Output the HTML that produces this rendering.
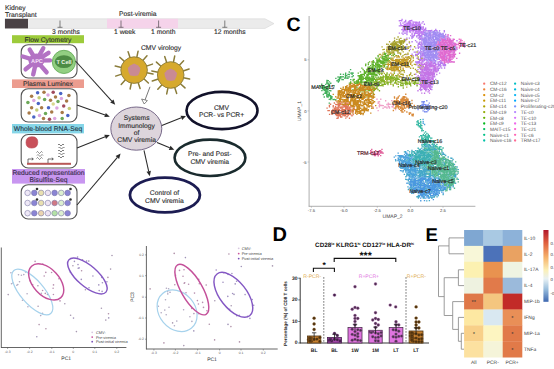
<!DOCTYPE html>
<html><head><meta charset="utf-8"><style>
html,body{margin:0;padding:0;background:#fff;width:554px;height:369px;overflow:hidden}
svg{display:block}

text{font-family:"Liberation Sans", sans-serif;text-rendering:geometricPrecision}
text:not([fill]){fill:#2c2c2c}
.t7{font-size:6.75px;stroke:#2c2c2c;stroke-width:0.12px}
.leg{font-size:4.8px} .leg:not([fill]){fill:#555}
.t4{font-size:4.2px} .t4:not([fill]){fill:#444}
.t35{font-size:3.4px} .t35:not([fill]){fill:#555}
.t45{font-size:4.3px} .t45:not([fill]){fill:#555}
.t5{font-size:5px} .t5:not([fill]){fill:#444}
.t4b{font-size:5px;font-weight:bold} .t4b:not([fill]){fill:#222}
.big{font-size:18.5px;font-weight:bold} .big:not([fill]){fill:#000}
.lab{font-size:5.4px}
.ttl{font-size:6.3px;font-weight:bold} .ttl:not([fill]){fill:#111}
.sup{font-size:3.5px}
.stars{font-size:9px;font-weight:bold} .stars:not([fill]){fill:#111}
.ylab{font-size:4.6px;font-weight:bold} .ylab:not([fill]){fill:#222}
.grp{font-size:5.1px}
</style></head><body>
<svg width="554" height="369" viewBox="0 0 554 369">
<rect width="554" height="369" fill="#fff"/>
<g id="timeline">
<text x="5" y="10" class="t7">Kidney</text>
<text x="5" y="17.3" class="t7">Transplant</text>
<path d="M5,18.8 H265 L274,23.6 L265,28.4 H5 Z" fill="#ebebeb" stroke="#d6d6d6" stroke-width="0.6"/>
<rect x="107" y="18.8" width="71" height="9.6" fill="#f5d3ea"/>
<rect x="5" y="18.8" width="23" height="9.6" fill="#4a4245"/>
<path d="M60,20.5 V27.3 M57.5,27.3 H62.5" stroke="#333" stroke-width="0.6" fill="none"/>
<path d="M121,20.5 V27.3 M118.5,27.3 H123.5" stroke="#333" stroke-width="0.6" fill="none"/>
<path d="M158.6,20.5 V27.3 M156.1,27.3 H161.1" stroke="#333" stroke-width="0.6" fill="none"/>
<path d="M224.8,20.5 V27.3 M222.3,27.3 H227.3" stroke="#333" stroke-width="0.6" fill="none"/>
<text x="52" y="34" class="t7">3 months</text>
<text x="114" y="34" class="t7">1 week</text>
<text x="151" y="34" class="t7">1 month</text>
<text x="214" y="34" class="t7">12 months</text>
<text x="119" y="16" class="t7">Post-viremia</text>
</g>
<rect x="12" y="35.2" width="72" height="8" fill="#9dcb3b"/>
<text x="48.0" y="41.6" class="t7" text-anchor="middle" fill="#333">Flow Cytometry</text>
<rect x="21.2" y="44.7" width="55.8" height="33.3" rx="7" ry="7" fill="#fff" stroke="#555" stroke-width="1.1"/>
<path d="M36.4,60.6 L22.8,56.5" stroke="#b372c4" stroke-width="4.4" stroke-linecap="round"/>
<path d="M36.4,60.6 L29.7,49.6" stroke="#b372c4" stroke-width="4.4" stroke-linecap="round"/>
<path d="M36.4,60.6 L43.3,48.2" stroke="#b372c4" stroke-width="4.4" stroke-linecap="round"/>
<path d="M36.4,60.6 L48.5,52.8" stroke="#b372c4" stroke-width="4.4" stroke-linecap="round"/>
<path d="M36.4,60.6 L50,60.4" stroke="#b372c4" stroke-width="4.4" stroke-linecap="round"/>
<path d="M36.4,60.6 L46.6,72.3" stroke="#b372c4" stroke-width="4.4" stroke-linecap="round"/>
<path d="M36.4,60.6 L33.2,74.4" stroke="#b372c4" stroke-width="4.4" stroke-linecap="round"/>
<path d="M36.4,60.6 L25.6,69.3" stroke="#b372c4" stroke-width="4.4" stroke-linecap="round"/>
<ellipse cx="36.4" cy="60.6" rx="8" ry="7" fill="#b372c4"/>
<text x="37.0" y="62.6" font-size="5.6" font-weight="bold" fill="#f6e0f8" text-anchor="middle">APC</text>
<circle cx="63.9" cy="61.9" r="11.6" fill="#92cf82" stroke="#66ad5a" stroke-width="0.9"/>
<ellipse cx="63.9" cy="61.6" rx="9.1" ry="6.4" fill="#4d8c44"/>
<text x="64" y="63.7" font-size="5.6" font-weight="bold" fill="#eef8ea" text-anchor="middle">T Cell</text>
<rect x="12" y="79.4" width="72" height="8.6" fill="#ec9c8f"/>
<text x="48.0" y="86.10000000000001" class="t7" text-anchor="middle" fill="#333">Plasma Luminex</text>
<rect x="21.2" y="88.7" width="55.8" height="33.3" rx="7" ry="7" fill="#fff" stroke="#555" stroke-width="1.1"/>
<circle cx="37.6" cy="92.7" r="1.75" fill="#4a64c4"/>
<circle cx="44.0" cy="92.2" r="1.75" fill="#a87a48"/>
<circle cx="53.2" cy="92.2" r="1.75" fill="#a04a5c"/>
<circle cx="60.7" cy="93.6" r="1.75" fill="#4a64c4"/>
<circle cx="31.6" cy="96.2" r="1.75" fill="#a87a48"/>
<circle cx="39.1" cy="97.7" r="1.75" fill="#c4cc78"/>
<circle cx="48.0" cy="95.1" r="1.75" fill="#dca6e0"/>
<circle cx="55.5" cy="96.9" r="1.75" fill="#a87a48"/>
<circle cx="61.4" cy="98.4" r="1.75" fill="#dca6e0"/>
<circle cx="68.9" cy="95.4" r="1.75" fill="#a87a48"/>
<circle cx="27.9" cy="102.6" r="1.75" fill="#6ca858"/>
<circle cx="33.8" cy="100.6" r="1.75" fill="#dca6e0"/>
<circle cx="38.3" cy="103.6" r="1.75" fill="#4a64c4"/>
<circle cx="44.6" cy="99.6" r="1.75" fill="#6ca858"/>
<circle cx="50.5" cy="100.2" r="1.75" fill="#a87a48"/>
<circle cx="53.2" cy="104.1" r="1.75" fill="#d8d890"/>
<circle cx="58.0" cy="101.4" r="1.75" fill="#6ca858"/>
<circle cx="66.6" cy="101.1" r="1.75" fill="#a87a48"/>
<circle cx="31.6" cy="107.7" r="1.75" fill="#a87a48"/>
<circle cx="36.8" cy="110.0" r="1.75" fill="#c4cc78"/>
<circle cx="41.6" cy="107.7" r="1.75" fill="#a87a48"/>
<circle cx="48.5" cy="107.7" r="1.75" fill="#4a64c4"/>
<circle cx="56.9" cy="108.1" r="1.75" fill="#dca6e0"/>
<circle cx="63.7" cy="105.9" r="1.75" fill="#a04a5c"/>
<circle cx="69.3" cy="108.5" r="1.75" fill="#c4cc78"/>
<circle cx="29.1" cy="113.0" r="1.75" fill="#a87a48"/>
<circle cx="33.8" cy="117.0" r="1.75" fill="#4a64c4"/>
<circle cx="39.5" cy="115.6" r="1.75" fill="#dca6e0"/>
<circle cx="45.5" cy="113.6" r="1.75" fill="#6ca858"/>
<circle cx="51.7" cy="112.1" r="1.75" fill="#a87a48"/>
<circle cx="62.2" cy="112.6" r="1.75" fill="#a87a48"/>
<circle cx="67.8" cy="115.6" r="1.75" fill="#4a64c4"/>
<circle cx="43.5" cy="118.5" r="1.75" fill="#a87a48"/>
<circle cx="49.5" cy="119.3" r="1.75" fill="#a04a5c"/>
<circle cx="54.7" cy="118.5" r="1.75" fill="#dca6e0"/>
<circle cx="62.2" cy="118.5" r="1.75" fill="#6ca858"/>
<rect x="12" y="124" width="72" height="9.4" fill="#86d6e8"/>
<text x="48.0" y="131.1" class="t7" text-anchor="middle" fill="#1d3d55">Whole-blood RNA-Seq</text>
<rect x="21.2" y="134.5" width="55.8" height="33.5" rx="7" ry="7" fill="#fff" stroke="#555" stroke-width="1.1"/>
<path d="M26,142.5 q0,-5.5 5.5,-5.7 q6.5,-0.3 6.3,5.6 q-0.2,5.5 -6,5.7 q-5.8,0 -5.8,-5.6z" fill="#c8505a" stroke="#b84450" stroke-width="0.6"/>
<rect x="27" y="162.8" width="44" height="2" fill="#b85858"/>
<path d="M28,163 v-4 h5 M31.8,157.8 l1.6,1.2 l-1.6,1.2" stroke="#333" stroke-width="0.7" fill="none"/>
<path d="M48,163 v-4 h5 M51.8,157.8 l1.6,1.2 l-1.6,1.2" stroke="#333" stroke-width="0.7" fill="none"/>
<path d="M36.5,152.5 q1,-2 2,0 t2,0 t2,0" stroke="#555" stroke-width="0.75" fill="none"/>
<path d="M37,155.5 q1,-2 2,0 t2,0 t2,0" stroke="#555" stroke-width="0.75" fill="none"/>
<path d="M36.5,158.5 q1,-2 2,0 t2,0 t2,0" stroke="#555" stroke-width="0.75" fill="none"/>
<path d="M58,145 q1,-2 2,0 t2,0 t2,0" stroke="#555" stroke-width="0.75" fill="none"/>
<path d="M58.5,148 q1,-2 2,0 t2,0 t2,0" stroke="#555" stroke-width="0.75" fill="none"/>
<path d="M58,151 q1,-2 2,0 t2,0 t2,0" stroke="#555" stroke-width="0.75" fill="none"/>
<path d="M58.5,154 q1,-2 2,0 t2,0 t2,0" stroke="#555" stroke-width="0.75" fill="none"/>
<path d="M58,157 q1,-2 2,0 t2,0 t2,0" stroke="#555" stroke-width="0.75" fill="none"/>
<rect x="12" y="169" width="73" height="14.6" fill="#c896f0"/>
<text x="48.5" y="175.3" class="t7" text-anchor="middle" fill="#3d2b5a">Reduced representation</text>
<text x="48.5" y="182" class="t7" text-anchor="middle" fill="#3d2b5a">Bisulfite-Seq</text>
<rect x="21.2" y="184.7" width="55.8" height="34.3" rx="7" ry="7" fill="#fff" stroke="#555" stroke-width="1.1"/>
<circle cx="27.6" cy="192.9" r="2.8" fill="#eee8f6" stroke="#7e7aa8" stroke-width="0.6"/>
<circle cx="34.3" cy="192.9" r="2.8" fill="#8a84d4" stroke="#7e7aa8" stroke-width="0.6"/>
<circle cx="41.1" cy="192.9" r="2.8" fill="#e8dfb0" stroke="#7e7aa8" stroke-width="0.6"/>
<circle cx="47.9" cy="192.9" r="2.8" fill="#eee4f2" stroke="#7e7aa8" stroke-width="0.6"/>
<circle cx="54.6" cy="192.9" r="2.8" fill="#8a84d4" stroke="#7e7aa8" stroke-width="0.6"/>
<circle cx="61.2" cy="192.9" r="2.8" fill="#dcefcf" stroke="#7e7aa8" stroke-width="0.6"/>
<circle cx="67.6" cy="192.9" r="2.8" fill="#8a84d4" stroke="#7e7aa8" stroke-width="0.6"/>
<circle cx="27.6" cy="203" r="2.8" fill="#eee8f6" stroke="#7e7aa8" stroke-width="0.6"/>
<circle cx="34.3" cy="203" r="2.8" fill="#8a84d4" stroke="#7e7aa8" stroke-width="0.6"/>
<circle cx="41.1" cy="203" r="2.8" fill="#e8dfb0" stroke="#7e7aa8" stroke-width="0.6"/>
<circle cx="47.9" cy="203" r="2.8" fill="#eee4f2" stroke="#7e7aa8" stroke-width="0.6"/>
<circle cx="54.6" cy="203" r="2.8" fill="#d07884" stroke="#7e7aa8" stroke-width="0.6"/>
<circle cx="61.2" cy="203" r="2.8" fill="#dcefcf" stroke="#7e7aa8" stroke-width="0.6"/>
<circle cx="67.6" cy="203" r="2.8" fill="#8a84d4" stroke="#7e7aa8" stroke-width="0.6"/>
<circle cx="27.6" cy="213.2" r="2.8" fill="#eee8f6" stroke="#7e7aa8" stroke-width="0.6"/>
<circle cx="34.3" cy="213.2" r="2.8" fill="#8a84d4" stroke="#7e7aa8" stroke-width="0.6"/>
<circle cx="41.1" cy="213.2" r="2.8" fill="#ead4b0" stroke="#7e7aa8" stroke-width="0.6"/>
<circle cx="47.9" cy="213.2" r="2.8" fill="#eee4f2" stroke="#7e7aa8" stroke-width="0.6"/>
<circle cx="54.6" cy="213.2" r="2.8" fill="#b4e2a6" stroke="#7e7aa8" stroke-width="0.6"/>
<circle cx="61.2" cy="213.2" r="2.8" fill="#dcefcf" stroke="#7e7aa8" stroke-width="0.6"/>
<circle cx="67.6" cy="213.2" r="2.8" fill="#8a84d4" stroke="#7e7aa8" stroke-width="0.6"/>
<circle cx="37" cy="189" r="1.3" fill="#333"/>
<circle cx="70.5" cy="189" r="1.3" fill="#333"/>
<circle cx="37" cy="199.5" r="1.3" fill="#333"/>
<circle cx="70.5" cy="199.5" r="1.3" fill="#333"/>
<line x1="146.8" y1="72.8" x2="153.0" y2="74.1" stroke="#8a7c3a" stroke-width="1.5" stroke-linecap="round"/>
<line x1="143.8" y1="78.8" x2="148.4" y2="83.0" stroke="#8a7c3a" stroke-width="1.5" stroke-linecap="round"/>
<line x1="138.1" y1="82.5" x2="140.1" y2="88.5" stroke="#8a7c3a" stroke-width="1.5" stroke-linecap="round"/>
<line x1="131.4" y1="82.8" x2="130.1" y2="89.0" stroke="#8a7c3a" stroke-width="1.5" stroke-linecap="round"/>
<line x1="125.4" y1="79.8" x2="121.2" y2="84.4" stroke="#8a7c3a" stroke-width="1.5" stroke-linecap="round"/>
<line x1="121.7" y1="74.1" x2="115.7" y2="76.1" stroke="#8a7c3a" stroke-width="1.5" stroke-linecap="round"/>
<line x1="121.4" y1="67.4" x2="115.2" y2="66.1" stroke="#8a7c3a" stroke-width="1.5" stroke-linecap="round"/>
<line x1="124.4" y1="61.4" x2="119.8" y2="57.2" stroke="#8a7c3a" stroke-width="1.5" stroke-linecap="round"/>
<line x1="130.1" y1="57.7" x2="128.1" y2="51.7" stroke="#8a7c3a" stroke-width="1.5" stroke-linecap="round"/>
<line x1="136.8" y1="57.4" x2="138.1" y2="51.2" stroke="#8a7c3a" stroke-width="1.5" stroke-linecap="round"/>
<line x1="142.8" y1="60.4" x2="147.0" y2="55.8" stroke="#8a7c3a" stroke-width="1.5" stroke-linecap="round"/>
<line x1="146.5" y1="66.1" x2="152.5" y2="64.1" stroke="#8a7c3a" stroke-width="1.5" stroke-linecap="round"/>
<circle cx="134.1" cy="70.1" r="13.3" fill="#d6a92e" stroke="#8a7c3a" stroke-width="0.9"/>
<polygon points="134.1,63.5 137.6,65.3 140.4,68.1 139.7,71.9 138.0,75.4 134.1,76.0 130.2,75.4 128.5,71.9 127.8,68.1 130.6,65.3" fill="#c98a94"/>
<line x1="183.4" y1="77.7" x2="189.6" y2="79.0" stroke="#8a7c3a" stroke-width="1.5" stroke-linecap="round"/>
<line x1="180.4" y1="83.7" x2="185.0" y2="87.9" stroke="#8a7c3a" stroke-width="1.5" stroke-linecap="round"/>
<line x1="174.7" y1="87.4" x2="176.7" y2="93.4" stroke="#8a7c3a" stroke-width="1.5" stroke-linecap="round"/>
<line x1="168.0" y1="87.7" x2="166.7" y2="93.9" stroke="#8a7c3a" stroke-width="1.5" stroke-linecap="round"/>
<line x1="162.0" y1="84.7" x2="157.8" y2="89.3" stroke="#8a7c3a" stroke-width="1.5" stroke-linecap="round"/>
<line x1="158.3" y1="79.0" x2="152.3" y2="81.0" stroke="#8a7c3a" stroke-width="1.5" stroke-linecap="round"/>
<line x1="158.0" y1="72.3" x2="151.8" y2="71.0" stroke="#8a7c3a" stroke-width="1.5" stroke-linecap="round"/>
<line x1="161.0" y1="66.3" x2="156.4" y2="62.1" stroke="#8a7c3a" stroke-width="1.5" stroke-linecap="round"/>
<line x1="166.7" y1="62.6" x2="164.7" y2="56.6" stroke="#8a7c3a" stroke-width="1.5" stroke-linecap="round"/>
<line x1="173.4" y1="62.3" x2="174.7" y2="56.1" stroke="#8a7c3a" stroke-width="1.5" stroke-linecap="round"/>
<line x1="179.4" y1="65.3" x2="183.6" y2="60.7" stroke="#8a7c3a" stroke-width="1.5" stroke-linecap="round"/>
<line x1="183.1" y1="71.0" x2="189.1" y2="69.0" stroke="#8a7c3a" stroke-width="1.5" stroke-linecap="round"/>
<circle cx="170.7" cy="75" r="13.3" fill="#d6a92e" stroke="#8a7c3a" stroke-width="0.9"/>
<polygon points="170.7,68.4 174.2,70.2 177.0,73.0 176.3,76.8 174.6,80.3 170.7,80.9 166.8,80.3 165.1,76.8 164.4,73.0 167.2,70.2" fill="#c98a94"/>
<text x="141" y="50.3" class="t7">CMV virology</text>
<line x1="75.5" y1="61" x2="111.8" y2="101.1" stroke="#2a2a2a" stroke-width="1.05"/>
<polygon points="115.2,104.8 110.2,102.6 113.5,99.6" fill="#2a2a2a"/>
<line x1="77" y1="105" x2="105.1" y2="115.0" stroke="#2a2a2a" stroke-width="1.05"/>
<polygon points="109.8,116.7 104.3,117.1 105.8,112.9" fill="#2a2a2a"/>
<line x1="77" y1="148" x2="105.2" y2="136.8" stroke="#2a2a2a" stroke-width="1.05"/>
<polygon points="109.8,135 106.0,138.9 104.3,134.8" fill="#2a2a2a"/>
<line x1="77" y1="205" x2="117.4" y2="157.4" stroke="#2a2a2a" stroke-width="1.05"/>
<polygon points="120.6,153.6 119.1,158.9 115.6,156.0" fill="#2a2a2a"/>
<line x1="150" y1="86.8" x2="145" y2="100" stroke="#555" stroke-width="0.8"/>
<polygon points="144.2,104 141.6,99 147.4,100.6" fill="#fff" stroke="#555" stroke-width="0.7"/>
<ellipse cx="136.3" cy="128.6" rx="25.5" ry="21.6" fill="#ddd5dc" stroke="#6a5a7e" stroke-width="0.9"/>
<text x="136.6" y="120.2" class="t7" text-anchor="middle">Systems</text>
<text x="136.6" y="127.6" class="t7" text-anchor="middle">Immunology</text>
<text x="136.6" y="134.8" class="t7" text-anchor="middle">of</text>
<text x="136.6" y="142" class="t7" text-anchor="middle">CMV viremia</text>
<line x1="161.8" y1="125.5" x2="181.3" y2="117.8" stroke="#2a2a2a" stroke-width="1.05"/>
<polygon points="186,116 182.2,119.9 180.5,115.7" fill="#2a2a2a"/>
<line x1="157" y1="142.5" x2="169.7" y2="147.8" stroke="#2a2a2a" stroke-width="1.05"/>
<polygon points="174.3,149.7 168.8,149.9 170.5,145.7" fill="#2a2a2a"/>
<line x1="144" y1="150.3" x2="148.7" y2="171.3" stroke="#2a2a2a" stroke-width="1.05"/>
<polygon points="149.8,176.2 146.5,171.8 150.9,170.8" fill="#2a2a2a"/>
<ellipse cx="222" cy="110.5" rx="35.5" ry="18.6" fill="#fff" stroke="#12122a" stroke-width="2.6"/>
<text x="221.5" y="109.6" class="t7" text-anchor="middle">CMV</text>
<text x="221.5" y="117.4" class="t7" text-anchor="middle">PCR- vs PCR+</text>
<ellipse cx="210" cy="157.8" rx="35.4" ry="18.2" fill="#fff" stroke="#1a2b2e" stroke-width="2.6"/>
<text x="209.7" y="156.4" class="t7" text-anchor="middle">Pre- and Post-</text>
<text x="209.7" y="164" class="t7" text-anchor="middle">CMV viremia</text>
<ellipse cx="164.9" cy="195" rx="35" ry="17.4" fill="#fff" stroke="#1c1c52" stroke-width="2.8"/>
<text x="164.4" y="195.1" class="t7" text-anchor="middle">Control of</text>
<text x="164.4" y="202.7" class="t7" text-anchor="middle">CMV viremia</text>
<g id="umap">
<path d="M398.7 25.2h1.35v1.35h-1.35zM398.7 32.4h1.35v1.35h-1.35zM401.3 32.5h1.35v1.35h-1.35zM402.6 29.9h1.35v1.35h-1.35zM402.5 31.1h1.35v1.35h-1.35zM402.4 33.6h1.35v1.35h-1.35zM403.9 32.4h1.35v1.35h-1.35zM404.8 32.4h1.35v1.35h-1.35zM405.0 38.8h1.35v1.35h-1.35zM405.1 40.0h1.35v1.35h-1.35zM406.3 33.8h1.35v1.35h-1.35zM406.2 37.4h1.35v1.35h-1.35zM406.1 46.2h1.35v1.35h-1.35zM406.3 48.6h1.35v1.35h-1.35zM406.2 53.9h1.35v1.35h-1.35zM408.7 37.4h1.35v1.35h-1.35zM408.8 42.3h1.35v1.35h-1.35zM409.9 31.3h1.35v1.35h-1.35zM410.1 34.9h1.35v1.35h-1.35zM410.0 46.1h1.35v1.35h-1.35zM409.8 48.7h1.35v1.35h-1.35zM411.3 36.1h1.35v1.35h-1.35zM411.3 37.6h1.35v1.35h-1.35zM411.4 41.1h1.35v1.35h-1.35zM411.4 53.6h1.35v1.35h-1.35zM412.5 36.3h1.35v1.35h-1.35zM412.5 54.9h1.35v1.35h-1.35zM413.8 34.8h1.35v1.35h-1.35zM413.6 51.4h1.35v1.35h-1.35zM414.9 40.0h1.35v1.35h-1.35zM415.1 47.5h1.35v1.35h-1.35zM415.0 51.4h1.35v1.35h-1.35zM415.0 53.7h1.35v1.35h-1.35zM415.0 55.0h1.35v1.35h-1.35zM416.1 35.2h1.35v1.35h-1.35zM416.1 36.1h1.35v1.35h-1.35zM416.4 53.8h1.35v1.35h-1.35zM416.4 57.6h1.35v1.35h-1.35zM417.6 37.4h1.35v1.35h-1.35zM417.6 43.7h1.35v1.35h-1.35zM417.3 44.9h1.35v1.35h-1.35zM417.5 46.4h1.35v1.35h-1.35zM417.7 47.7h1.35v1.35h-1.35zM417.5 52.5h1.35v1.35h-1.35zM417.6 53.6h1.35v1.35h-1.35zM418.6 37.4h1.35v1.35h-1.35zM418.8 43.7h1.35v1.35h-1.35zM418.6 46.3h1.35v1.35h-1.35zM420.0 37.7h1.35v1.35h-1.35zM420.2 41.4h1.35v1.35h-1.35zM399.8 22.3h1.35v1.35h-1.35zM405.0 19.8h1.35v1.35h-1.35zM405.0 21.2h1.35v1.35h-1.35zM405.2 26.4h1.35v1.35h-1.35zM406.4 29.9h1.35v1.35h-1.35zM407.4 23.7h1.35v1.35h-1.35zM410.1 23.6h1.35v1.35h-1.35zM412.3 34.9h1.35v1.35h-1.35zM413.7 24.9h1.35v1.35h-1.35zM413.8 26.3h1.35v1.35h-1.35zM414.9 28.6h1.35v1.35h-1.35zM415.0 61.3h1.35v1.35h-1.35zM416.4 26.2h1.35v1.35h-1.35zM416.2 41.3h1.35v1.35h-1.35zM416.1 61.2h1.35v1.35h-1.35zM416.3 62.5h1.35v1.35h-1.35zM417.6 23.7h1.35v1.35h-1.35zM417.5 34.8h1.35v1.35h-1.35zM417.7 42.7h1.35v1.35h-1.35zM417.3 50.2h1.35v1.35h-1.35zM417.5 57.4h1.35v1.35h-1.35zM417.5 61.1h1.35v1.35h-1.35zM417.5 62.5h1.35v1.35h-1.35zM417.6 64.9h1.35v1.35h-1.35zM417.3 68.9h1.35v1.35h-1.35zM418.7 21.3h1.35v1.35h-1.35zM418.9 22.4h1.35v1.35h-1.35zM418.9 32.6h1.35v1.35h-1.35zM418.9 35.0h1.35v1.35h-1.35zM418.7 36.1h1.35v1.35h-1.35zM418.9 38.9h1.35v1.35h-1.35zM418.8 41.4h1.35v1.35h-1.35zM418.7 42.7h1.35v1.35h-1.35zM418.6 51.4h1.35v1.35h-1.35zM418.9 52.3h1.35v1.35h-1.35zM418.8 58.8h1.35v1.35h-1.35zM418.9 59.9h1.35v1.35h-1.35zM418.6 61.2h1.35v1.35h-1.35zM418.8 62.5h1.35v1.35h-1.35zM418.9 67.5h1.35v1.35h-1.35zM418.7 78.7h1.35v1.35h-1.35zM418.7 80.1h1.35v1.35h-1.35zM420.1 28.6h1.35v1.35h-1.35zM419.9 29.9h1.35v1.35h-1.35zM420.0 34.9h1.35v1.35h-1.35zM420.0 36.2h1.35v1.35h-1.35zM420.1 38.7h1.35v1.35h-1.35zM419.8 43.6h1.35v1.35h-1.35zM420.1 45.2h1.35v1.35h-1.35zM420.1 47.6h1.35v1.35h-1.35zM419.9 51.3h1.35v1.35h-1.35zM419.8 55.2h1.35v1.35h-1.35zM420.0 56.4h1.35v1.35h-1.35zM420.1 57.7h1.35v1.35h-1.35zM420.2 58.7h1.35v1.35h-1.35zM419.9 71.3h1.35v1.35h-1.35zM419.9 72.3h1.35v1.35h-1.35zM420.0 73.9h1.35v1.35h-1.35zM420.1 76.4h1.35v1.35h-1.35zM420.2 88.9h1.35v1.35h-1.35zM421.1 27.5h1.35v1.35h-1.35zM421.2 33.8h1.35v1.35h-1.35zM421.2 34.9h1.35v1.35h-1.35zM421.3 37.3h1.35v1.35h-1.35zM421.3 40.1h1.35v1.35h-1.35zM421.1 42.3h1.35v1.35h-1.35zM421.3 43.8h1.35v1.35h-1.35zM421.2 45.2h1.35v1.35h-1.35zM421.4 47.4h1.35v1.35h-1.35zM421.3 48.7h1.35v1.35h-1.35zM421.3 51.1h1.35v1.35h-1.35zM421.3 52.7h1.35v1.35h-1.35zM421.4 53.6h1.35v1.35h-1.35zM421.2 54.8h1.35v1.35h-1.35zM421.3 56.4h1.35v1.35h-1.35zM421.3 58.6h1.35v1.35h-1.35zM421.1 61.4h1.35v1.35h-1.35zM421.3 65.0h1.35v1.35h-1.35zM421.1 79.9h1.35v1.35h-1.35zM421.3 88.9h1.35v1.35h-1.35zM422.4 21.1h1.35v1.35h-1.35zM422.6 33.6h1.35v1.35h-1.35zM422.4 37.7h1.35v1.35h-1.35zM422.7 52.3h1.35v1.35h-1.35zM422.6 53.7h1.35v1.35h-1.35zM422.5 55.1h1.35v1.35h-1.35zM422.4 57.4h1.35v1.35h-1.35zM422.3 60.1h1.35v1.35h-1.35zM422.4 61.1h1.35v1.35h-1.35zM422.3 73.8h1.35v1.35h-1.35zM422.5 82.5h1.35v1.35h-1.35zM423.7 23.6h1.35v1.35h-1.35zM423.8 28.7h1.35v1.35h-1.35zM423.7 33.7h1.35v1.35h-1.35zM423.6 36.4h1.35v1.35h-1.35zM423.9 55.0h1.35v1.35h-1.35zM423.8 57.4h1.35v1.35h-1.35zM423.7 58.8h1.35v1.35h-1.35zM423.9 59.8h1.35v1.35h-1.35zM423.9 69.9h1.35v1.35h-1.35zM425.1 31.3h1.35v1.35h-1.35zM424.9 47.6h1.35v1.35h-1.35zM425.2 50.1h1.35v1.35h-1.35zM425.1 58.9h1.35v1.35h-1.35zM425.1 76.1h1.35v1.35h-1.35zM424.8 78.6h1.35v1.35h-1.35zM424.9 81.1h1.35v1.35h-1.35zM425.0 85.0h1.35v1.35h-1.35zM426.1 37.4h1.35v1.35h-1.35zM426.2 58.9h1.35v1.35h-1.35zM426.3 75.1h1.35v1.35h-1.35zM426.4 80.2h1.35v1.35h-1.35zM426.1 88.9h1.35v1.35h-1.35zM427.5 30.1h1.35v1.35h-1.35zM427.4 31.3h1.35v1.35h-1.35zM427.5 33.8h1.35v1.35h-1.35zM427.4 39.8h1.35v1.35h-1.35zM427.5 46.4h1.35v1.35h-1.35zM427.4 60.2h1.35v1.35h-1.35zM427.4 62.5h1.35v1.35h-1.35zM427.6 63.7h1.35v1.35h-1.35zM427.4 69.9h1.35v1.35h-1.35zM428.9 30.1h1.35v1.35h-1.35zM428.6 35.1h1.35v1.35h-1.35zM428.6 61.4h1.35v1.35h-1.35zM428.8 66.1h1.35v1.35h-1.35zM428.7 81.4h1.35v1.35h-1.35zM430.2 29.9h1.35v1.35h-1.35zM430.1 31.2h1.35v1.35h-1.35zM430.0 76.4h1.35v1.35h-1.35zM429.9 78.7h1.35v1.35h-1.35zM430.2 81.1h1.35v1.35h-1.35zM429.9 85.1h1.35v1.35h-1.35zM430.1 86.4h1.35v1.35h-1.35zM431.1 29.8h1.35v1.35h-1.35zM431.4 33.7h1.35v1.35h-1.35zM431.2 35.0h1.35v1.35h-1.35zM431.4 39.9h1.35v1.35h-1.35zM431.3 50.2h1.35v1.35h-1.35zM431.3 58.9h1.35v1.35h-1.35zM431.1 63.6h1.35v1.35h-1.35zM431.1 69.9h1.35v1.35h-1.35zM431.3 79.9h1.35v1.35h-1.35zM431.4 81.3h1.35v1.35h-1.35zM431.4 86.3h1.35v1.35h-1.35zM431.1 88.8h1.35v1.35h-1.35zM432.7 47.6h1.35v1.35h-1.35zM432.4 60.2h1.35v1.35h-1.35zM432.7 62.6h1.35v1.35h-1.35zM432.5 67.4h1.35v1.35h-1.35zM432.6 68.7h1.35v1.35h-1.35zM432.5 76.1h1.35v1.35h-1.35zM432.4 81.1h1.35v1.35h-1.35zM433.8 29.9h1.35v1.35h-1.35zM433.7 59.8h1.35v1.35h-1.35zM433.8 61.4h1.35v1.35h-1.35zM433.9 62.7h1.35v1.35h-1.35zM433.9 69.9h1.35v1.35h-1.35zM433.7 73.6h1.35v1.35h-1.35zM433.9 76.1h1.35v1.35h-1.35zM433.8 81.2h1.35v1.35h-1.35zM435.1 28.8h1.35v1.35h-1.35zM435.2 29.9h1.35v1.35h-1.35zM435.1 46.4h1.35v1.35h-1.35zM434.8 62.6h1.35v1.35h-1.35zM435.0 78.7h1.35v1.35h-1.35zM436.2 30.0h1.35v1.35h-1.35zM436.4 47.5h1.35v1.35h-1.35zM436.1 63.7h1.35v1.35h-1.35zM436.3 66.2h1.35v1.35h-1.35zM437.5 57.5h1.35v1.35h-1.35zM437.5 58.6h1.35v1.35h-1.35zM437.4 61.3h1.35v1.35h-1.35zM437.5 62.7h1.35v1.35h-1.35zM437.7 63.6h1.35v1.35h-1.35zM437.7 65.0h1.35v1.35h-1.35zM437.5 67.7h1.35v1.35h-1.35zM437.6 68.7h1.35v1.35h-1.35zM437.6 69.9h1.35v1.35h-1.35zM438.9 30.0h1.35v1.35h-1.35zM438.6 32.6h1.35v1.35h-1.35zM438.9 38.6h1.35v1.35h-1.35zM438.9 61.1h1.35v1.35h-1.35zM438.8 63.8h1.35v1.35h-1.35zM438.7 65.1h1.35v1.35h-1.35zM438.9 67.6h1.35v1.35h-1.35zM438.9 72.4h1.35v1.35h-1.35zM440.1 60.0h1.35v1.35h-1.35zM439.8 61.4h1.35v1.35h-1.35zM439.8 62.4h1.35v1.35h-1.35zM439.8 63.7h1.35v1.35h-1.35zM440.2 65.0h1.35v1.35h-1.35zM440.1 66.2h1.35v1.35h-1.35zM441.3 49.9h1.35v1.35h-1.35zM441.1 61.3h1.35v1.35h-1.35zM441.1 62.6h1.35v1.35h-1.35zM441.1 67.4h1.35v1.35h-1.35zM442.5 33.7h1.35v1.35h-1.35zM442.3 62.6h1.35v1.35h-1.35zM442.4 63.9h1.35v1.35h-1.35zM442.6 64.9h1.35v1.35h-1.35zM443.6 29.9h1.35v1.35h-1.35zM443.7 31.2h1.35v1.35h-1.35zM443.8 63.8h1.35v1.35h-1.35zM443.7 65.1h1.35v1.35h-1.35zM443.9 67.3h1.35v1.35h-1.35zM445.0 33.7h1.35v1.35h-1.35zM445.1 35.2h1.35v1.35h-1.35zM445.0 37.5h1.35v1.35h-1.35zM445.0 43.8h1.35v1.35h-1.35zM445.2 48.7h1.35v1.35h-1.35zM444.9 55.2h1.35v1.35h-1.35zM445.1 56.3h1.35v1.35h-1.35zM444.8 63.8h1.35v1.35h-1.35zM444.8 64.8h1.35v1.35h-1.35zM447.5 36.4h1.35v1.35h-1.35zM447.7 58.9h1.35v1.35h-1.35zM447.6 60.0h1.35v1.35h-1.35zM447.4 62.4h1.35v1.35h-1.35zM448.8 37.5h1.35v1.35h-1.35zM448.7 50.1h1.35v1.35h-1.35zM452.6 42.7h1.35v1.35h-1.35zM452.6 51.3h1.35v1.35h-1.35zM453.9 47.7h1.35v1.35h-1.35zM453.7 48.6h1.35v1.35h-1.35zM455.0 46.3h1.35v1.35h-1.35zM456.3 40.1h1.35v1.35h-1.35zM456.3 48.6h1.35v1.35h-1.35z" fill="#b67cf0"/>
<path d="M402.4 27.4h1.35v1.35h-1.35zM403.6 30.1h1.35v1.35h-1.35zM404.9 28.8h1.35v1.35h-1.35zM406.4 27.4h1.35v1.35h-1.35zM406.4 28.8h1.35v1.35h-1.35zM406.2 32.5h1.35v1.35h-1.35zM407.4 24.9h1.35v1.35h-1.35zM408.6 26.4h1.35v1.35h-1.35zM411.4 23.7h1.35v1.35h-1.35zM411.4 33.9h1.35v1.35h-1.35zM412.4 29.9h1.35v1.35h-1.35zM414.9 31.2h1.35v1.35h-1.35zM417.6 31.3h1.35v1.35h-1.35zM417.4 32.6h1.35v1.35h-1.35zM418.9 33.6h1.35v1.35h-1.35zM402.3 22.5h1.35v1.35h-1.35zM403.6 23.8h1.35v1.35h-1.35zM403.6 26.4h1.35v1.35h-1.35zM404.9 23.6h1.35v1.35h-1.35zM405.2 25.0h1.35v1.35h-1.35zM406.3 22.6h1.35v1.35h-1.35zM406.4 23.9h1.35v1.35h-1.35zM406.2 25.1h1.35v1.35h-1.35zM406.1 26.3h1.35v1.35h-1.35zM407.6 22.6h1.35v1.35h-1.35zM407.3 27.5h1.35v1.35h-1.35zM408.8 22.6h1.35v1.35h-1.35zM408.7 23.6h1.35v1.35h-1.35zM408.7 27.7h1.35v1.35h-1.35zM408.7 28.6h1.35v1.35h-1.35zM410.1 22.7h1.35v1.35h-1.35zM409.9 24.9h1.35v1.35h-1.35zM409.9 26.4h1.35v1.35h-1.35zM409.9 27.4h1.35v1.35h-1.35zM409.9 28.8h1.35v1.35h-1.35zM411.2 26.4h1.35v1.35h-1.35zM411.4 27.7h1.35v1.35h-1.35zM411.2 28.7h1.35v1.35h-1.35zM412.5 22.4h1.35v1.35h-1.35zM412.3 23.6h1.35v1.35h-1.35zM412.5 26.1h1.35v1.35h-1.35zM412.4 28.8h1.35v1.35h-1.35zM413.8 28.9h1.35v1.35h-1.35zM413.7 29.9h1.35v1.35h-1.35zM413.8 33.6h1.35v1.35h-1.35zM415.1 22.4h1.35v1.35h-1.35zM415.1 23.8h1.35v1.35h-1.35zM415.0 25.1h1.35v1.35h-1.35zM414.8 26.4h1.35v1.35h-1.35zM416.2 21.4h1.35v1.35h-1.35zM416.4 22.4h1.35v1.35h-1.35zM416.2 23.9h1.35v1.35h-1.35zM416.4 27.4h1.35v1.35h-1.35zM416.1 29.8h1.35v1.35h-1.35zM416.2 31.1h1.35v1.35h-1.35zM417.6 26.1h1.35v1.35h-1.35zM417.6 28.8h1.35v1.35h-1.35zM417.7 33.8h1.35v1.35h-1.35zM418.7 23.7h1.35v1.35h-1.35zM418.9 25.1h1.35v1.35h-1.35zM418.8 26.1h1.35v1.35h-1.35zM418.7 27.3h1.35v1.35h-1.35zM418.8 28.8h1.35v1.35h-1.35zM418.7 31.3h1.35v1.35h-1.35zM419.8 25.0h1.35v1.35h-1.35zM420.1 27.3h1.35v1.35h-1.35zM420.2 32.4h1.35v1.35h-1.35zM421.4 32.6h1.35v1.35h-1.35zM422.6 27.4h1.35v1.35h-1.35zM422.3 28.8h1.35v1.35h-1.35zM422.7 29.9h1.35v1.35h-1.35zM422.5 32.5h1.35v1.35h-1.35zM423.6 30.1h1.35v1.35h-1.35zM425.0 27.5h1.35v1.35h-1.35zM425.1 29.9h1.35v1.35h-1.35zM398.7 20.1h1.35v1.35h-1.35zM399.9 19.9h1.35v1.35h-1.35zM400.2 23.7h1.35v1.35h-1.35zM400.1 25.1h1.35v1.35h-1.35zM401.4 18.7h1.35v1.35h-1.35zM401.1 20.1h1.35v1.35h-1.35zM401.2 25.0h1.35v1.35h-1.35zM401.1 28.9h1.35v1.35h-1.35zM402.3 25.0h1.35v1.35h-1.35zM402.7 26.3h1.35v1.35h-1.35zM402.4 28.9h1.35v1.35h-1.35zM403.7 21.3h1.35v1.35h-1.35zM403.9 24.9h1.35v1.35h-1.35zM403.7 27.3h1.35v1.35h-1.35zM403.8 28.6h1.35v1.35h-1.35zM405.0 30.1h1.35v1.35h-1.35zM406.4 31.1h1.35v1.35h-1.35zM407.7 21.3h1.35v1.35h-1.35zM407.3 26.3h1.35v1.35h-1.35zM408.8 20.2h1.35v1.35h-1.35zM408.7 21.4h1.35v1.35h-1.35zM408.8 24.8h1.35v1.35h-1.35zM408.8 29.8h1.35v1.35h-1.35zM408.8 31.1h1.35v1.35h-1.35zM409.9 19.9h1.35v1.35h-1.35zM410.0 21.4h1.35v1.35h-1.35zM410.0 29.9h1.35v1.35h-1.35zM411.1 19.8h1.35v1.35h-1.35zM411.4 25.0h1.35v1.35h-1.35zM411.3 29.9h1.35v1.35h-1.35zM411.4 32.7h1.35v1.35h-1.35zM412.4 21.2h1.35v1.35h-1.35zM412.5 24.9h1.35v1.35h-1.35zM412.3 27.5h1.35v1.35h-1.35zM412.4 31.1h1.35v1.35h-1.35zM413.9 21.4h1.35v1.35h-1.35zM413.6 23.8h1.35v1.35h-1.35zM413.8 32.6h1.35v1.35h-1.35zM415.0 21.4h1.35v1.35h-1.35zM414.8 27.4h1.35v1.35h-1.35zM415.0 29.9h1.35v1.35h-1.35zM414.9 32.6h1.35v1.35h-1.35zM416.3 24.9h1.35v1.35h-1.35zM416.3 28.6h1.35v1.35h-1.35zM416.2 32.7h1.35v1.35h-1.35zM417.6 22.3h1.35v1.35h-1.35zM417.5 24.9h1.35v1.35h-1.35zM417.4 27.7h1.35v1.35h-1.35zM417.7 29.8h1.35v1.35h-1.35zM418.8 30.0h1.35v1.35h-1.35zM419.8 23.8h1.35v1.35h-1.35zM419.9 26.1h1.35v1.35h-1.35zM420.0 31.2h1.35v1.35h-1.35zM421.3 22.5h1.35v1.35h-1.35zM421.1 26.4h1.35v1.35h-1.35zM421.3 28.6h1.35v1.35h-1.35zM421.2 31.1h1.35v1.35h-1.35zM422.6 26.2h1.35v1.35h-1.35zM422.7 31.2h1.35v1.35h-1.35zM425.0 28.7h1.35v1.35h-1.35z" fill="#bf7af2"/>
<path d="M403.6 38.7h1.35v1.35h-1.35zM403.9 39.9h1.35v1.35h-1.35zM387.6 48.6h1.35v1.35h-1.35zM387.5 56.3h1.35v1.35h-1.35zM391.4 44.8h1.35v1.35h-1.35zM391.2 49.9h1.35v1.35h-1.35zM391.4 51.4h1.35v1.35h-1.35zM392.3 47.6h1.35v1.35h-1.35zM392.4 52.4h1.35v1.35h-1.35zM393.6 52.5h1.35v1.35h-1.35zM396.1 41.2h1.35v1.35h-1.35zM396.1 42.7h1.35v1.35h-1.35zM397.4 41.3h1.35v1.35h-1.35zM397.4 50.1h1.35v1.35h-1.35zM397.3 51.4h1.35v1.35h-1.35zM398.6 39.9h1.35v1.35h-1.35zM398.8 46.3h1.35v1.35h-1.35zM398.8 48.8h1.35v1.35h-1.35zM399.9 43.7h1.35v1.35h-1.35zM386.1 43.6h1.35v1.35h-1.35zM387.4 46.2h1.35v1.35h-1.35zM387.6 47.5h1.35v1.35h-1.35zM387.4 49.9h1.35v1.35h-1.35zM387.3 53.9h1.35v1.35h-1.35zM388.8 45.2h1.35v1.35h-1.35zM388.8 46.3h1.35v1.35h-1.35zM388.7 47.4h1.35v1.35h-1.35zM388.6 48.8h1.35v1.35h-1.35zM388.7 51.3h1.35v1.35h-1.35zM388.7 52.4h1.35v1.35h-1.35zM389.9 43.6h1.35v1.35h-1.35zM390.0 46.3h1.35v1.35h-1.35zM390.2 47.5h1.35v1.35h-1.35zM390.0 48.7h1.35v1.35h-1.35zM390.0 51.4h1.35v1.35h-1.35zM391.3 42.4h1.35v1.35h-1.35zM391.2 43.8h1.35v1.35h-1.35zM391.2 46.4h1.35v1.35h-1.35zM391.2 47.6h1.35v1.35h-1.35zM391.3 48.6h1.35v1.35h-1.35zM391.1 55.0h1.35v1.35h-1.35zM392.6 41.2h1.35v1.35h-1.35zM392.4 42.5h1.35v1.35h-1.35zM392.4 43.7h1.35v1.35h-1.35zM392.7 44.8h1.35v1.35h-1.35zM392.5 46.2h1.35v1.35h-1.35zM392.3 48.7h1.35v1.35h-1.35zM392.6 51.3h1.35v1.35h-1.35zM393.9 37.4h1.35v1.35h-1.35zM393.9 39.8h1.35v1.35h-1.35zM393.8 41.1h1.35v1.35h-1.35zM393.9 42.7h1.35v1.35h-1.35zM393.7 43.6h1.35v1.35h-1.35zM393.6 45.0h1.35v1.35h-1.35zM393.9 46.4h1.35v1.35h-1.35zM393.9 47.4h1.35v1.35h-1.35zM393.8 48.7h1.35v1.35h-1.35zM393.6 50.1h1.35v1.35h-1.35zM395.0 41.4h1.35v1.35h-1.35zM395.0 42.4h1.35v1.35h-1.35zM395.0 43.6h1.35v1.35h-1.35zM395.0 45.2h1.35v1.35h-1.35zM395.2 47.6h1.35v1.35h-1.35zM394.9 48.7h1.35v1.35h-1.35zM394.9 49.8h1.35v1.35h-1.35zM394.9 55.2h1.35v1.35h-1.35zM396.2 38.7h1.35v1.35h-1.35zM396.1 43.8h1.35v1.35h-1.35zM396.4 44.9h1.35v1.35h-1.35zM396.2 46.3h1.35v1.35h-1.35zM396.4 47.3h1.35v1.35h-1.35zM396.3 48.6h1.35v1.35h-1.35zM396.1 50.1h1.35v1.35h-1.35zM396.1 54.9h1.35v1.35h-1.35zM397.4 36.3h1.35v1.35h-1.35zM397.4 43.9h1.35v1.35h-1.35zM397.4 45.1h1.35v1.35h-1.35zM397.4 46.4h1.35v1.35h-1.35zM397.5 47.5h1.35v1.35h-1.35zM397.7 48.9h1.35v1.35h-1.35zM397.3 52.4h1.35v1.35h-1.35zM398.6 38.6h1.35v1.35h-1.35zM398.9 41.3h1.35v1.35h-1.35zM398.6 42.4h1.35v1.35h-1.35zM398.8 45.0h1.35v1.35h-1.35zM400.2 37.7h1.35v1.35h-1.35zM400.2 40.0h1.35v1.35h-1.35zM399.9 41.1h1.35v1.35h-1.35zM400.0 42.5h1.35v1.35h-1.35zM399.9 45.2h1.35v1.35h-1.35zM399.8 46.4h1.35v1.35h-1.35zM399.9 48.7h1.35v1.35h-1.35zM401.1 40.2h1.35v1.35h-1.35zM401.2 41.1h1.35v1.35h-1.35zM401.1 42.5h1.35v1.35h-1.35zM401.1 43.7h1.35v1.35h-1.35zM401.1 46.2h1.35v1.35h-1.35zM401.1 47.5h1.35v1.35h-1.35zM402.3 40.1h1.35v1.35h-1.35zM402.7 41.1h1.35v1.35h-1.35zM402.7 42.4h1.35v1.35h-1.35zM402.4 45.0h1.35v1.35h-1.35zM402.7 46.3h1.35v1.35h-1.35zM402.5 48.6h1.35v1.35h-1.35zM403.8 41.2h1.35v1.35h-1.35zM403.6 46.4h1.35v1.35h-1.35zM406.3 43.8h1.35v1.35h-1.35z" fill="#a4a02a"/>
<path d="M406.4 47.5h1.35v1.35h-1.35zM408.7 41.3h1.35v1.35h-1.35zM410.0 44.9h1.35v1.35h-1.35zM412.3 48.8h1.35v1.35h-1.35zM414.8 68.8h1.35v1.35h-1.35zM418.7 66.4h1.35v1.35h-1.35zM418.9 72.4h1.35v1.35h-1.35zM420.0 65.0h1.35v1.35h-1.35zM421.3 57.7h1.35v1.35h-1.35zM421.2 67.4h1.35v1.35h-1.35zM422.5 66.1h1.35v1.35h-1.35zM417.5 66.4h1.35v1.35h-1.35zM371.3 61.1h1.35v1.35h-1.35zM372.6 70.1h1.35v1.35h-1.35zM377.5 58.6h1.35v1.35h-1.35zM378.7 53.8h1.35v1.35h-1.35zM378.8 57.4h1.35v1.35h-1.35zM378.7 72.3h1.35v1.35h-1.35zM379.8 53.8h1.35v1.35h-1.35zM379.9 56.4h1.35v1.35h-1.35zM381.4 46.2h1.35v1.35h-1.35zM381.3 54.8h1.35v1.35h-1.35zM381.1 73.7h1.35v1.35h-1.35zM382.3 48.9h1.35v1.35h-1.35zM382.3 52.5h1.35v1.35h-1.35zM382.4 53.9h1.35v1.35h-1.35zM382.7 66.4h1.35v1.35h-1.35zM382.7 71.1h1.35v1.35h-1.35zM383.6 48.7h1.35v1.35h-1.35zM383.7 51.4h1.35v1.35h-1.35zM383.8 63.8h1.35v1.35h-1.35zM383.7 72.7h1.35v1.35h-1.35zM384.9 57.3h1.35v1.35h-1.35zM385.0 67.5h1.35v1.35h-1.35zM384.9 81.2h1.35v1.35h-1.35zM386.4 46.4h1.35v1.35h-1.35zM386.1 48.6h1.35v1.35h-1.35zM386.1 50.1h1.35v1.35h-1.35zM386.3 51.1h1.35v1.35h-1.35zM386.2 79.8h1.35v1.35h-1.35zM387.5 43.8h1.35v1.35h-1.35zM387.6 51.2h1.35v1.35h-1.35zM387.5 52.4h1.35v1.35h-1.35zM387.3 57.7h1.35v1.35h-1.35zM388.9 41.1h1.35v1.35h-1.35zM388.8 50.1h1.35v1.35h-1.35zM388.6 53.9h1.35v1.35h-1.35zM388.7 74.9h1.35v1.35h-1.35zM388.8 77.6h1.35v1.35h-1.35zM390.0 52.7h1.35v1.35h-1.35zM389.9 68.9h1.35v1.35h-1.35zM389.9 78.9h1.35v1.35h-1.35zM390.2 83.7h1.35v1.35h-1.35zM391.3 52.4h1.35v1.35h-1.35zM391.1 58.6h1.35v1.35h-1.35zM391.3 73.6h1.35v1.35h-1.35zM391.3 80.0h1.35v1.35h-1.35zM392.4 50.0h1.35v1.35h-1.35zM392.4 53.9h1.35v1.35h-1.35zM392.4 57.5h1.35v1.35h-1.35zM392.7 62.6h1.35v1.35h-1.35zM392.4 75.1h1.35v1.35h-1.35zM392.4 78.9h1.35v1.35h-1.35zM393.6 68.6h1.35v1.35h-1.35zM393.7 71.2h1.35v1.35h-1.35zM395.0 75.0h1.35v1.35h-1.35zM396.1 82.6h1.35v1.35h-1.35zM396.3 83.7h1.35v1.35h-1.35zM397.6 54.9h1.35v1.35h-1.35zM397.4 73.6h1.35v1.35h-1.35zM397.3 75.1h1.35v1.35h-1.35zM398.6 52.3h1.35v1.35h-1.35zM398.9 58.8h1.35v1.35h-1.35zM398.6 71.2h1.35v1.35h-1.35zM398.9 75.2h1.35v1.35h-1.35zM398.7 76.3h1.35v1.35h-1.35zM400.2 47.5h1.35v1.35h-1.35zM400.0 52.6h1.35v1.35h-1.35zM399.9 53.9h1.35v1.35h-1.35zM400.0 68.8h1.35v1.35h-1.35zM400.0 71.2h1.35v1.35h-1.35zM400.2 73.6h1.35v1.35h-1.35zM400.1 76.1h1.35v1.35h-1.35zM401.2 48.9h1.35v1.35h-1.35zM401.3 50.0h1.35v1.35h-1.35zM401.1 56.2h1.35v1.35h-1.35zM401.1 70.0h1.35v1.35h-1.35zM401.3 73.6h1.35v1.35h-1.35zM401.1 76.4h1.35v1.35h-1.35zM401.4 81.2h1.35v1.35h-1.35zM402.6 47.6h1.35v1.35h-1.35zM402.6 51.2h1.35v1.35h-1.35zM402.3 55.1h1.35v1.35h-1.35zM402.5 70.0h1.35v1.35h-1.35zM402.6 73.7h1.35v1.35h-1.35zM402.5 75.2h1.35v1.35h-1.35zM403.8 53.9h1.35v1.35h-1.35zM403.6 70.0h1.35v1.35h-1.35zM403.7 71.4h1.35v1.35h-1.35zM405.0 47.4h1.35v1.35h-1.35zM405.2 53.6h1.35v1.35h-1.35zM404.9 62.4h1.35v1.35h-1.35zM406.2 38.7h1.35v1.35h-1.35zM406.2 56.4h1.35v1.35h-1.35zM406.3 74.9h1.35v1.35h-1.35zM406.4 76.4h1.35v1.35h-1.35zM406.1 86.4h1.35v1.35h-1.35zM407.5 46.2h1.35v1.35h-1.35zM407.7 47.7h1.35v1.35h-1.35zM407.3 52.6h1.35v1.35h-1.35zM407.3 53.7h1.35v1.35h-1.35zM407.4 57.3h1.35v1.35h-1.35zM407.5 78.6h1.35v1.35h-1.35zM408.6 46.2h1.35v1.35h-1.35zM408.7 50.1h1.35v1.35h-1.35zM408.6 56.3h1.35v1.35h-1.35zM408.9 73.9h1.35v1.35h-1.35zM408.8 74.9h1.35v1.35h-1.35zM408.9 78.9h1.35v1.35h-1.35zM410.0 57.5h1.35v1.35h-1.35zM409.9 67.6h1.35v1.35h-1.35zM410.1 72.3h1.35v1.35h-1.35zM409.8 73.7h1.35v1.35h-1.35zM409.9 77.6h1.35v1.35h-1.35zM409.9 78.9h1.35v1.35h-1.35zM411.4 74.9h1.35v1.35h-1.35zM411.3 81.1h1.35v1.35h-1.35zM412.6 56.4h1.35v1.35h-1.35zM412.6 57.3h1.35v1.35h-1.35zM412.6 67.6h1.35v1.35h-1.35zM412.7 80.1h1.35v1.35h-1.35zM413.9 46.1h1.35v1.35h-1.35zM413.7 63.7h1.35v1.35h-1.35zM413.8 73.7h1.35v1.35h-1.35zM414.9 63.8h1.35v1.35h-1.35zM416.4 51.3h1.35v1.35h-1.35zM416.4 54.9h1.35v1.35h-1.35zM416.1 70.0h1.35v1.35h-1.35zM416.3 71.4h1.35v1.35h-1.35zM417.5 56.3h1.35v1.35h-1.35zM417.7 58.6h1.35v1.35h-1.35zM417.4 71.1h1.35v1.35h-1.35zM418.7 63.9h1.35v1.35h-1.35z" fill="#b0a830"/>
<path d="M410.1 54.9h1.35v1.35h-1.35zM386.2 67.4h1.35v1.35h-1.35zM387.5 62.7h1.35v1.35h-1.35zM387.3 68.8h1.35v1.35h-1.35zM388.9 67.4h1.35v1.35h-1.35zM390.1 66.4h1.35v1.35h-1.35zM389.8 67.5h1.35v1.35h-1.35zM391.1 66.3h1.35v1.35h-1.35zM391.1 67.4h1.35v1.35h-1.35zM391.1 68.6h1.35v1.35h-1.35zM392.7 66.3h1.35v1.35h-1.35zM392.3 70.0h1.35v1.35h-1.35zM393.7 56.2h1.35v1.35h-1.35zM393.8 60.0h1.35v1.35h-1.35zM393.8 63.9h1.35v1.35h-1.35zM395.1 61.2h1.35v1.35h-1.35zM395.1 67.4h1.35v1.35h-1.35zM395.2 68.9h1.35v1.35h-1.35zM396.2 56.4h1.35v1.35h-1.35zM396.3 68.6h1.35v1.35h-1.35zM397.6 56.1h1.35v1.35h-1.35zM397.6 62.6h1.35v1.35h-1.35zM397.6 63.7h1.35v1.35h-1.35zM397.5 67.6h1.35v1.35h-1.35zM397.6 68.8h1.35v1.35h-1.35zM398.6 56.3h1.35v1.35h-1.35zM398.9 61.2h1.35v1.35h-1.35zM400.0 61.1h1.35v1.35h-1.35zM399.9 62.6h1.35v1.35h-1.35zM400.0 66.3h1.35v1.35h-1.35zM403.9 57.7h1.35v1.35h-1.35zM403.9 62.6h1.35v1.35h-1.35zM404.9 58.9h1.35v1.35h-1.35zM405.1 63.8h1.35v1.35h-1.35zM407.6 56.1h1.35v1.35h-1.35zM409.8 60.1h1.35v1.35h-1.35zM411.1 55.1h1.35v1.35h-1.35zM411.1 56.1h1.35v1.35h-1.35zM382.7 64.8h1.35v1.35h-1.35zM386.2 63.7h1.35v1.35h-1.35zM386.3 68.6h1.35v1.35h-1.35zM387.4 61.1h1.35v1.35h-1.35zM387.5 63.9h1.35v1.35h-1.35zM387.7 64.8h1.35v1.35h-1.35zM387.3 66.3h1.35v1.35h-1.35zM387.3 67.5h1.35v1.35h-1.35zM388.7 59.9h1.35v1.35h-1.35zM388.9 63.7h1.35v1.35h-1.35zM388.9 68.7h1.35v1.35h-1.35zM390.2 58.9h1.35v1.35h-1.35zM389.8 61.3h1.35v1.35h-1.35zM390.1 62.5h1.35v1.35h-1.35zM390.1 63.6h1.35v1.35h-1.35zM390.1 65.0h1.35v1.35h-1.35zM390.2 72.4h1.35v1.35h-1.35zM391.1 57.5h1.35v1.35h-1.35zM391.4 59.9h1.35v1.35h-1.35zM391.3 62.6h1.35v1.35h-1.35zM391.4 63.7h1.35v1.35h-1.35zM391.2 65.1h1.35v1.35h-1.35zM391.1 69.8h1.35v1.35h-1.35zM392.3 58.7h1.35v1.35h-1.35zM392.6 60.1h1.35v1.35h-1.35zM392.5 67.3h1.35v1.35h-1.35zM392.6 68.6h1.35v1.35h-1.35zM392.7 73.9h1.35v1.35h-1.35zM393.6 62.4h1.35v1.35h-1.35zM393.6 65.1h1.35v1.35h-1.35zM393.7 66.3h1.35v1.35h-1.35zM393.9 67.4h1.35v1.35h-1.35zM393.7 69.9h1.35v1.35h-1.35zM395.0 58.9h1.35v1.35h-1.35zM394.9 60.1h1.35v1.35h-1.35zM394.9 62.5h1.35v1.35h-1.35zM394.9 64.9h1.35v1.35h-1.35zM394.9 66.3h1.35v1.35h-1.35zM395.2 69.9h1.35v1.35h-1.35zM396.1 58.8h1.35v1.35h-1.35zM396.1 60.1h1.35v1.35h-1.35zM396.4 61.1h1.35v1.35h-1.35zM396.2 62.7h1.35v1.35h-1.35zM396.2 63.6h1.35v1.35h-1.35zM396.2 65.0h1.35v1.35h-1.35zM396.3 66.2h1.35v1.35h-1.35zM396.1 67.6h1.35v1.35h-1.35zM397.5 58.8h1.35v1.35h-1.35zM397.5 59.8h1.35v1.35h-1.35zM397.5 61.1h1.35v1.35h-1.35zM397.6 66.4h1.35v1.35h-1.35zM397.4 70.1h1.35v1.35h-1.35zM398.7 60.1h1.35v1.35h-1.35zM398.7 62.6h1.35v1.35h-1.35zM398.8 66.2h1.35v1.35h-1.35zM398.9 70.0h1.35v1.35h-1.35zM398.9 72.5h1.35v1.35h-1.35zM399.8 58.8h1.35v1.35h-1.35zM399.8 63.9h1.35v1.35h-1.35zM399.9 67.5h1.35v1.35h-1.35zM401.1 58.8h1.35v1.35h-1.35zM401.1 59.8h1.35v1.35h-1.35zM401.1 61.4h1.35v1.35h-1.35zM401.3 62.4h1.35v1.35h-1.35zM401.3 63.7h1.35v1.35h-1.35zM401.1 64.9h1.35v1.35h-1.35zM402.5 57.3h1.35v1.35h-1.35zM402.4 58.9h1.35v1.35h-1.35zM402.5 60.2h1.35v1.35h-1.35zM402.4 61.3h1.35v1.35h-1.35zM402.6 62.5h1.35v1.35h-1.35zM402.5 63.8h1.35v1.35h-1.35zM402.6 65.0h1.35v1.35h-1.35zM402.4 67.5h1.35v1.35h-1.35zM402.5 68.7h1.35v1.35h-1.35zM403.7 58.9h1.35v1.35h-1.35zM403.8 59.8h1.35v1.35h-1.35zM403.6 61.4h1.35v1.35h-1.35zM403.9 63.9h1.35v1.35h-1.35zM403.7 65.2h1.35v1.35h-1.35zM404.9 56.4h1.35v1.35h-1.35zM404.8 59.9h1.35v1.35h-1.35zM405.2 61.2h1.35v1.35h-1.35zM404.9 66.1h1.35v1.35h-1.35zM406.4 57.4h1.35v1.35h-1.35zM406.1 58.7h1.35v1.35h-1.35zM406.3 60.1h1.35v1.35h-1.35zM406.3 61.2h1.35v1.35h-1.35zM406.1 62.5h1.35v1.35h-1.35zM406.2 63.8h1.35v1.35h-1.35zM406.1 66.4h1.35v1.35h-1.35zM407.5 58.9h1.35v1.35h-1.35zM407.4 61.4h1.35v1.35h-1.35zM407.7 62.7h1.35v1.35h-1.35zM407.5 63.9h1.35v1.35h-1.35zM407.3 65.1h1.35v1.35h-1.35zM407.5 66.1h1.35v1.35h-1.35zM408.7 57.6h1.35v1.35h-1.35zM408.9 60.2h1.35v1.35h-1.35zM408.9 61.2h1.35v1.35h-1.35zM408.7 66.1h1.35v1.35h-1.35zM410.1 58.6h1.35v1.35h-1.35zM410.1 62.3h1.35v1.35h-1.35zM409.9 63.7h1.35v1.35h-1.35zM411.3 61.2h1.35v1.35h-1.35zM411.4 64.8h1.35v1.35h-1.35zM412.6 59.8h1.35v1.35h-1.35z" fill="#c39a22"/>
<path d="M422.5 42.5h1.35v1.35h-1.35zM420.0 50.0h1.35v1.35h-1.35zM420.1 53.8h1.35v1.35h-1.35zM421.2 38.7h1.35v1.35h-1.35zM422.6 38.7h1.35v1.35h-1.35zM422.4 40.0h1.35v1.35h-1.35zM422.3 43.8h1.35v1.35h-1.35zM422.5 46.2h1.35v1.35h-1.35zM422.5 47.5h1.35v1.35h-1.35zM422.3 48.6h1.35v1.35h-1.35zM423.9 31.4h1.35v1.35h-1.35zM423.7 32.4h1.35v1.35h-1.35zM423.7 37.4h1.35v1.35h-1.35zM423.8 40.1h1.35v1.35h-1.35zM423.9 41.1h1.35v1.35h-1.35zM423.9 42.4h1.35v1.35h-1.35zM423.9 43.6h1.35v1.35h-1.35zM423.7 47.7h1.35v1.35h-1.35zM423.8 48.8h1.35v1.35h-1.35zM423.8 51.4h1.35v1.35h-1.35zM423.7 53.9h1.35v1.35h-1.35zM423.8 56.2h1.35v1.35h-1.35zM425.1 32.4h1.35v1.35h-1.35zM425.0 35.0h1.35v1.35h-1.35zM425.0 37.6h1.35v1.35h-1.35zM425.2 38.8h1.35v1.35h-1.35zM425.1 41.4h1.35v1.35h-1.35zM425.1 42.5h1.35v1.35h-1.35zM424.9 43.7h1.35v1.35h-1.35zM425.0 45.2h1.35v1.35h-1.35zM424.9 46.2h1.35v1.35h-1.35zM425.1 48.9h1.35v1.35h-1.35zM425.0 51.4h1.35v1.35h-1.35zM424.8 52.5h1.35v1.35h-1.35zM424.8 55.1h1.35v1.35h-1.35zM425.1 56.2h1.35v1.35h-1.35zM425.1 57.5h1.35v1.35h-1.35zM426.1 30.0h1.35v1.35h-1.35zM426.4 32.6h1.35v1.35h-1.35zM426.1 33.7h1.35v1.35h-1.35zM426.1 36.2h1.35v1.35h-1.35zM426.1 38.6h1.35v1.35h-1.35zM426.2 40.1h1.35v1.35h-1.35zM426.2 41.4h1.35v1.35h-1.35zM426.1 42.4h1.35v1.35h-1.35zM426.4 43.9h1.35v1.35h-1.35zM426.1 46.2h1.35v1.35h-1.35zM426.3 48.8h1.35v1.35h-1.35zM426.3 50.1h1.35v1.35h-1.35zM426.4 52.5h1.35v1.35h-1.35zM426.2 54.9h1.35v1.35h-1.35zM426.3 56.4h1.35v1.35h-1.35zM426.2 57.3h1.35v1.35h-1.35zM426.3 59.8h1.35v1.35h-1.35zM427.6 32.5h1.35v1.35h-1.35zM427.4 36.2h1.35v1.35h-1.35zM427.7 38.8h1.35v1.35h-1.35zM427.6 41.2h1.35v1.35h-1.35zM427.4 42.4h1.35v1.35h-1.35zM427.4 43.8h1.35v1.35h-1.35zM427.4 45.2h1.35v1.35h-1.35zM427.4 47.6h1.35v1.35h-1.35zM427.4 48.6h1.35v1.35h-1.35zM427.5 49.9h1.35v1.35h-1.35zM427.7 51.3h1.35v1.35h-1.35zM427.6 52.6h1.35v1.35h-1.35zM427.6 53.7h1.35v1.35h-1.35zM427.4 55.0h1.35v1.35h-1.35zM427.4 56.2h1.35v1.35h-1.35zM427.6 57.6h1.35v1.35h-1.35zM427.6 58.9h1.35v1.35h-1.35zM427.5 61.4h1.35v1.35h-1.35zM428.9 31.2h1.35v1.35h-1.35zM428.8 32.3h1.35v1.35h-1.35zM428.8 33.7h1.35v1.35h-1.35zM428.7 36.4h1.35v1.35h-1.35zM428.9 37.7h1.35v1.35h-1.35zM428.6 38.7h1.35v1.35h-1.35zM428.6 39.9h1.35v1.35h-1.35zM428.8 41.4h1.35v1.35h-1.35zM428.7 42.6h1.35v1.35h-1.35zM428.8 43.6h1.35v1.35h-1.35zM428.6 45.1h1.35v1.35h-1.35zM428.6 46.3h1.35v1.35h-1.35zM428.6 47.3h1.35v1.35h-1.35zM428.9 48.7h1.35v1.35h-1.35zM428.8 50.1h1.35v1.35h-1.35zM428.8 51.4h1.35v1.35h-1.35zM428.9 52.5h1.35v1.35h-1.35zM428.6 53.9h1.35v1.35h-1.35zM428.8 55.2h1.35v1.35h-1.35zM428.8 56.3h1.35v1.35h-1.35zM428.6 57.5h1.35v1.35h-1.35zM428.7 58.9h1.35v1.35h-1.35zM430.1 32.3h1.35v1.35h-1.35zM429.8 33.8h1.35v1.35h-1.35zM429.8 35.2h1.35v1.35h-1.35zM429.8 37.5h1.35v1.35h-1.35zM430.2 38.7h1.35v1.35h-1.35zM430.2 40.1h1.35v1.35h-1.35zM429.9 41.4h1.35v1.35h-1.35zM430.1 42.6h1.35v1.35h-1.35zM430.0 43.6h1.35v1.35h-1.35zM429.9 44.9h1.35v1.35h-1.35zM429.9 46.4h1.35v1.35h-1.35zM430.1 47.6h1.35v1.35h-1.35zM429.9 48.7h1.35v1.35h-1.35zM429.8 50.1h1.35v1.35h-1.35zM430.2 51.4h1.35v1.35h-1.35zM430.0 52.6h1.35v1.35h-1.35zM430.0 53.6h1.35v1.35h-1.35zM429.9 57.7h1.35v1.35h-1.35zM430.0 58.8h1.35v1.35h-1.35zM431.3 36.2h1.35v1.35h-1.35zM431.1 38.7h1.35v1.35h-1.35zM431.2 41.4h1.35v1.35h-1.35zM431.3 42.5h1.35v1.35h-1.35zM431.1 43.6h1.35v1.35h-1.35zM431.2 45.0h1.35v1.35h-1.35zM431.1 51.1h1.35v1.35h-1.35zM431.2 52.4h1.35v1.35h-1.35zM431.3 53.9h1.35v1.35h-1.35zM431.2 57.3h1.35v1.35h-1.35zM431.2 59.9h1.35v1.35h-1.35zM432.5 31.1h1.35v1.35h-1.35zM432.5 32.3h1.35v1.35h-1.35zM432.6 33.8h1.35v1.35h-1.35zM432.6 37.5h1.35v1.35h-1.35zM432.7 38.8h1.35v1.35h-1.35zM432.4 39.9h1.35v1.35h-1.35zM432.5 42.4h1.35v1.35h-1.35zM432.6 43.9h1.35v1.35h-1.35zM432.4 44.9h1.35v1.35h-1.35zM432.5 48.8h1.35v1.35h-1.35zM432.5 50.1h1.35v1.35h-1.35zM432.4 51.1h1.35v1.35h-1.35zM432.6 52.7h1.35v1.35h-1.35zM432.4 53.8h1.35v1.35h-1.35zM432.6 54.9h1.35v1.35h-1.35zM432.4 56.3h1.35v1.35h-1.35zM432.4 57.5h1.35v1.35h-1.35zM432.7 58.8h1.35v1.35h-1.35zM432.3 61.3h1.35v1.35h-1.35zM433.6 31.1h1.35v1.35h-1.35zM433.8 32.4h1.35v1.35h-1.35zM433.8 33.7h1.35v1.35h-1.35zM433.8 35.2h1.35v1.35h-1.35zM433.6 36.1h1.35v1.35h-1.35zM433.6 38.7h1.35v1.35h-1.35zM433.9 39.9h1.35v1.35h-1.35zM433.8 41.2h1.35v1.35h-1.35zM433.7 42.6h1.35v1.35h-1.35zM433.8 45.1h1.35v1.35h-1.35zM433.9 46.4h1.35v1.35h-1.35zM433.6 50.1h1.35v1.35h-1.35zM433.7 51.2h1.35v1.35h-1.35zM433.6 57.5h1.35v1.35h-1.35zM434.9 31.4h1.35v1.35h-1.35zM434.9 32.4h1.35v1.35h-1.35zM434.9 33.8h1.35v1.35h-1.35zM435.0 35.1h1.35v1.35h-1.35zM434.9 36.4h1.35v1.35h-1.35zM435.0 37.6h1.35v1.35h-1.35zM435.0 38.9h1.35v1.35h-1.35zM435.0 41.2h1.35v1.35h-1.35zM434.8 43.7h1.35v1.35h-1.35zM435.1 48.8h1.35v1.35h-1.35zM435.1 51.2h1.35v1.35h-1.35zM435.1 52.5h1.35v1.35h-1.35zM434.9 53.6h1.35v1.35h-1.35zM434.9 54.9h1.35v1.35h-1.35zM435.0 56.2h1.35v1.35h-1.35zM435.0 57.5h1.35v1.35h-1.35zM435.0 60.0h1.35v1.35h-1.35zM435.1 61.2h1.35v1.35h-1.35zM436.4 31.1h1.35v1.35h-1.35zM436.4 32.4h1.35v1.35h-1.35zM436.1 33.6h1.35v1.35h-1.35zM436.3 35.0h1.35v1.35h-1.35zM436.2 36.4h1.35v1.35h-1.35zM436.3 37.6h1.35v1.35h-1.35zM436.3 38.8h1.35v1.35h-1.35zM436.3 41.3h1.35v1.35h-1.35zM436.1 42.6h1.35v1.35h-1.35zM436.4 45.1h1.35v1.35h-1.35zM436.1 49.9h1.35v1.35h-1.35zM436.1 52.5h1.35v1.35h-1.35zM436.2 55.0h1.35v1.35h-1.35zM436.4 56.2h1.35v1.35h-1.35zM436.4 58.8h1.35v1.35h-1.35zM437.5 35.0h1.35v1.35h-1.35zM437.6 38.7h1.35v1.35h-1.35zM437.3 40.0h1.35v1.35h-1.35zM437.7 47.6h1.35v1.35h-1.35zM437.4 48.9h1.35v1.35h-1.35zM437.3 49.8h1.35v1.35h-1.35zM437.6 52.5h1.35v1.35h-1.35zM438.8 33.9h1.35v1.35h-1.35zM438.7 34.9h1.35v1.35h-1.35zM438.6 37.5h1.35v1.35h-1.35zM438.6 39.9h1.35v1.35h-1.35zM438.6 41.3h1.35v1.35h-1.35zM438.9 42.6h1.35v1.35h-1.35zM438.6 48.9h1.35v1.35h-1.35zM438.9 50.1h1.35v1.35h-1.35zM438.7 55.0h1.35v1.35h-1.35zM438.8 57.5h1.35v1.35h-1.35zM440.1 33.6h1.35v1.35h-1.35zM440.2 35.1h1.35v1.35h-1.35zM440.1 36.3h1.35v1.35h-1.35zM440.2 38.7h1.35v1.35h-1.35zM440.0 40.0h1.35v1.35h-1.35zM441.3 35.2h1.35v1.35h-1.35zM441.4 36.1h1.35v1.35h-1.35zM441.2 37.7h1.35v1.35h-1.35zM441.4 47.5h1.35v1.35h-1.35zM442.4 32.7h1.35v1.35h-1.35zM442.3 34.8h1.35v1.35h-1.35zM442.5 36.2h1.35v1.35h-1.35zM442.5 37.3h1.35v1.35h-1.35zM443.8 37.4h1.35v1.35h-1.35zM445.0 38.7h1.35v1.35h-1.35zM421.2 36.1h1.35v1.35h-1.35zM423.8 34.9h1.35v1.35h-1.35zM425.0 33.6h1.35v1.35h-1.35zM420.1 46.4h1.35v1.35h-1.35zM420.2 48.7h1.35v1.35h-1.35zM420.0 52.4h1.35v1.35h-1.35zM421.2 46.1h1.35v1.35h-1.35zM422.7 41.1h1.35v1.35h-1.35zM422.4 50.0h1.35v1.35h-1.35zM422.6 51.2h1.35v1.35h-1.35zM423.8 38.6h1.35v1.35h-1.35zM423.7 45.1h1.35v1.35h-1.35zM423.6 46.3h1.35v1.35h-1.35zM423.7 49.9h1.35v1.35h-1.35zM423.6 52.7h1.35v1.35h-1.35zM424.9 36.4h1.35v1.35h-1.35zM425.0 40.1h1.35v1.35h-1.35zM425.2 53.8h1.35v1.35h-1.35zM426.1 34.9h1.35v1.35h-1.35zM426.2 44.9h1.35v1.35h-1.35zM426.4 47.6h1.35v1.35h-1.35zM426.3 51.4h1.35v1.35h-1.35zM426.3 53.6h1.35v1.35h-1.35zM427.6 34.8h1.35v1.35h-1.35zM427.6 37.5h1.35v1.35h-1.35zM429.9 36.4h1.35v1.35h-1.35zM430.1 55.0h1.35v1.35h-1.35zM429.9 56.4h1.35v1.35h-1.35zM430.0 60.1h1.35v1.35h-1.35zM431.4 31.4h1.35v1.35h-1.35zM431.4 37.4h1.35v1.35h-1.35zM431.4 46.2h1.35v1.35h-1.35zM431.3 48.8h1.35v1.35h-1.35zM431.2 55.0h1.35v1.35h-1.35zM431.3 56.1h1.35v1.35h-1.35zM432.3 34.8h1.35v1.35h-1.35zM432.4 36.3h1.35v1.35h-1.35zM432.5 41.3h1.35v1.35h-1.35zM432.7 46.2h1.35v1.35h-1.35zM433.7 43.8h1.35v1.35h-1.35zM433.6 47.7h1.35v1.35h-1.35zM433.6 53.7h1.35v1.35h-1.35zM433.7 54.9h1.35v1.35h-1.35zM433.6 56.3h1.35v1.35h-1.35zM433.7 58.9h1.35v1.35h-1.35zM434.9 42.4h1.35v1.35h-1.35zM435.0 45.0h1.35v1.35h-1.35zM435.0 47.4h1.35v1.35h-1.35zM435.0 50.0h1.35v1.35h-1.35zM436.4 39.9h1.35v1.35h-1.35zM436.3 48.6h1.35v1.35h-1.35zM436.1 51.2h1.35v1.35h-1.35zM436.4 53.6h1.35v1.35h-1.35zM436.2 57.6h1.35v1.35h-1.35zM437.4 32.3h1.35v1.35h-1.35zM437.6 33.9h1.35v1.35h-1.35zM437.5 36.1h1.35v1.35h-1.35zM437.6 37.7h1.35v1.35h-1.35zM437.6 45.0h1.35v1.35h-1.35zM437.7 46.4h1.35v1.35h-1.35zM437.4 53.8h1.35v1.35h-1.35zM437.6 56.4h1.35v1.35h-1.35zM438.6 31.2h1.35v1.35h-1.35zM438.7 36.2h1.35v1.35h-1.35zM438.8 52.5h1.35v1.35h-1.35zM439.8 32.4h1.35v1.35h-1.35zM441.4 33.6h1.35v1.35h-1.35zM443.6 35.1h1.35v1.35h-1.35zM443.6 36.3h1.35v1.35h-1.35zM446.4 36.1h1.35v1.35h-1.35z" fill="#a18cf2"/>
<path d="M415.1 73.6h1.35v1.35h-1.35zM416.1 76.4h1.35v1.35h-1.35zM418.8 65.2h1.35v1.35h-1.35zM418.6 71.1h1.35v1.35h-1.35zM418.6 76.4h1.35v1.35h-1.35zM418.6 77.6h1.35v1.35h-1.35zM420.1 62.3h1.35v1.35h-1.35zM420.2 63.9h1.35v1.35h-1.35zM420.2 66.3h1.35v1.35h-1.35zM419.8 67.5h1.35v1.35h-1.35zM419.9 68.8h1.35v1.35h-1.35zM420.0 75.1h1.35v1.35h-1.35zM420.1 77.5h1.35v1.35h-1.35zM419.9 78.6h1.35v1.35h-1.35zM419.9 80.1h1.35v1.35h-1.35zM419.8 81.2h1.35v1.35h-1.35zM419.8 86.4h1.35v1.35h-1.35zM421.4 60.1h1.35v1.35h-1.35zM421.3 62.6h1.35v1.35h-1.35zM421.4 63.7h1.35v1.35h-1.35zM421.2 66.1h1.35v1.35h-1.35zM421.1 68.8h1.35v1.35h-1.35zM421.1 72.5h1.35v1.35h-1.35zM421.3 74.9h1.35v1.35h-1.35zM421.3 77.4h1.35v1.35h-1.35zM421.1 78.7h1.35v1.35h-1.35zM421.2 82.6h1.35v1.35h-1.35zM421.2 85.1h1.35v1.35h-1.35zM421.1 86.1h1.35v1.35h-1.35zM422.4 58.9h1.35v1.35h-1.35zM422.4 64.8h1.35v1.35h-1.35zM422.3 67.5h1.35v1.35h-1.35zM422.4 70.1h1.35v1.35h-1.35zM422.3 71.2h1.35v1.35h-1.35zM422.6 72.5h1.35v1.35h-1.35zM422.3 75.0h1.35v1.35h-1.35zM422.6 76.2h1.35v1.35h-1.35zM422.5 77.4h1.35v1.35h-1.35zM422.5 78.8h1.35v1.35h-1.35zM422.4 79.9h1.35v1.35h-1.35zM422.6 83.7h1.35v1.35h-1.35zM422.4 86.2h1.35v1.35h-1.35zM422.6 87.4h1.35v1.35h-1.35zM423.6 62.7h1.35v1.35h-1.35zM423.8 63.6h1.35v1.35h-1.35zM423.8 66.4h1.35v1.35h-1.35zM423.6 67.4h1.35v1.35h-1.35zM423.8 72.6h1.35v1.35h-1.35zM423.8 73.6h1.35v1.35h-1.35zM423.6 74.9h1.35v1.35h-1.35zM423.7 76.4h1.35v1.35h-1.35zM423.8 81.3h1.35v1.35h-1.35zM423.8 82.6h1.35v1.35h-1.35zM423.9 83.9h1.35v1.35h-1.35zM423.8 85.0h1.35v1.35h-1.35zM423.8 86.1h1.35v1.35h-1.35zM423.6 87.6h1.35v1.35h-1.35zM425.1 62.3h1.35v1.35h-1.35zM425.0 63.9h1.35v1.35h-1.35zM425.0 65.1h1.35v1.35h-1.35zM425.0 66.4h1.35v1.35h-1.35zM425.0 68.6h1.35v1.35h-1.35zM425.1 70.0h1.35v1.35h-1.35zM425.2 73.6h1.35v1.35h-1.35zM424.9 75.0h1.35v1.35h-1.35zM424.8 77.5h1.35v1.35h-1.35zM425.1 82.3h1.35v1.35h-1.35zM425.2 83.8h1.35v1.35h-1.35zM424.9 86.1h1.35v1.35h-1.35zM424.9 87.6h1.35v1.35h-1.35zM426.2 61.2h1.35v1.35h-1.35zM426.4 62.6h1.35v1.35h-1.35zM426.3 63.9h1.35v1.35h-1.35zM426.4 65.0h1.35v1.35h-1.35zM426.3 66.1h1.35v1.35h-1.35zM426.1 68.8h1.35v1.35h-1.35zM426.4 71.1h1.35v1.35h-1.35zM426.1 72.5h1.35v1.35h-1.35zM426.2 73.6h1.35v1.35h-1.35zM426.3 76.3h1.35v1.35h-1.35zM426.1 77.7h1.35v1.35h-1.35zM426.4 78.7h1.35v1.35h-1.35zM426.1 81.1h1.35v1.35h-1.35zM426.2 82.3h1.35v1.35h-1.35zM426.1 85.0h1.35v1.35h-1.35zM426.3 86.3h1.35v1.35h-1.35zM426.4 87.5h1.35v1.35h-1.35zM427.4 65.0h1.35v1.35h-1.35zM427.7 67.5h1.35v1.35h-1.35zM427.4 68.8h1.35v1.35h-1.35zM427.6 71.1h1.35v1.35h-1.35zM427.5 72.6h1.35v1.35h-1.35zM427.4 73.9h1.35v1.35h-1.35zM427.4 75.0h1.35v1.35h-1.35zM427.5 76.1h1.35v1.35h-1.35zM427.4 79.8h1.35v1.35h-1.35zM427.5 81.4h1.35v1.35h-1.35zM427.6 83.7h1.35v1.35h-1.35zM427.6 84.9h1.35v1.35h-1.35zM427.5 86.2h1.35v1.35h-1.35zM428.9 59.9h1.35v1.35h-1.35zM428.9 62.7h1.35v1.35h-1.35zM428.9 63.8h1.35v1.35h-1.35zM428.8 64.8h1.35v1.35h-1.35zM428.9 67.4h1.35v1.35h-1.35zM428.8 68.9h1.35v1.35h-1.35zM428.9 71.4h1.35v1.35h-1.35zM428.8 72.3h1.35v1.35h-1.35zM428.7 73.8h1.35v1.35h-1.35zM428.6 74.9h1.35v1.35h-1.35zM428.7 76.4h1.35v1.35h-1.35zM428.6 77.7h1.35v1.35h-1.35zM428.8 80.1h1.35v1.35h-1.35zM428.8 85.0h1.35v1.35h-1.35zM428.7 86.2h1.35v1.35h-1.35zM428.9 87.4h1.35v1.35h-1.35zM430.2 61.1h1.35v1.35h-1.35zM430.1 62.6h1.35v1.35h-1.35zM430.0 63.9h1.35v1.35h-1.35zM430.0 64.9h1.35v1.35h-1.35zM430.2 68.6h1.35v1.35h-1.35zM430.2 70.1h1.35v1.35h-1.35zM429.9 71.3h1.35v1.35h-1.35zM429.8 72.3h1.35v1.35h-1.35zM430.1 73.6h1.35v1.35h-1.35zM429.8 75.0h1.35v1.35h-1.35zM430.2 77.5h1.35v1.35h-1.35zM430.1 79.9h1.35v1.35h-1.35zM429.9 82.3h1.35v1.35h-1.35zM429.8 83.6h1.35v1.35h-1.35zM429.8 87.7h1.35v1.35h-1.35zM429.9 88.6h1.35v1.35h-1.35zM431.1 61.2h1.35v1.35h-1.35zM431.4 62.5h1.35v1.35h-1.35zM431.3 64.9h1.35v1.35h-1.35zM431.3 68.7h1.35v1.35h-1.35zM431.1 71.4h1.35v1.35h-1.35zM431.2 72.7h1.35v1.35h-1.35zM431.4 73.9h1.35v1.35h-1.35zM431.1 77.4h1.35v1.35h-1.35zM431.4 82.7h1.35v1.35h-1.35zM432.3 63.9h1.35v1.35h-1.35zM432.4 65.0h1.35v1.35h-1.35zM432.6 70.0h1.35v1.35h-1.35zM432.5 71.1h1.35v1.35h-1.35zM432.6 73.8h1.35v1.35h-1.35zM432.4 77.3h1.35v1.35h-1.35zM433.7 64.8h1.35v1.35h-1.35zM433.9 66.1h1.35v1.35h-1.35zM433.6 67.6h1.35v1.35h-1.35zM433.9 68.7h1.35v1.35h-1.35zM433.6 71.2h1.35v1.35h-1.35zM435.1 64.9h1.35v1.35h-1.35zM434.9 66.4h1.35v1.35h-1.35zM434.9 67.5h1.35v1.35h-1.35zM434.9 68.6h1.35v1.35h-1.35zM434.9 70.0h1.35v1.35h-1.35zM435.1 71.1h1.35v1.35h-1.35zM436.4 68.8h1.35v1.35h-1.35zM436.4 70.2h1.35v1.35h-1.35zM437.4 66.1h1.35v1.35h-1.35zM416.2 63.8h1.35v1.35h-1.35zM416.4 83.9h1.35v1.35h-1.35zM417.5 75.1h1.35v1.35h-1.35zM417.3 90.1h1.35v1.35h-1.35zM418.7 83.7h1.35v1.35h-1.35zM418.9 88.7h1.35v1.35h-1.35zM419.8 59.9h1.35v1.35h-1.35zM419.8 83.8h1.35v1.35h-1.35zM420.0 85.0h1.35v1.35h-1.35zM419.9 87.6h1.35v1.35h-1.35zM420.2 89.8h1.35v1.35h-1.35zM421.3 69.8h1.35v1.35h-1.35zM421.1 71.3h1.35v1.35h-1.35zM421.2 73.7h1.35v1.35h-1.35zM421.2 76.4h1.35v1.35h-1.35zM421.4 81.2h1.35v1.35h-1.35zM421.1 83.7h1.35v1.35h-1.35zM421.1 92.4h1.35v1.35h-1.35zM422.6 63.9h1.35v1.35h-1.35zM422.4 68.9h1.35v1.35h-1.35zM422.5 81.1h1.35v1.35h-1.35zM422.6 85.0h1.35v1.35h-1.35zM423.9 68.7h1.35v1.35h-1.35zM423.6 71.4h1.35v1.35h-1.35zM423.7 77.6h1.35v1.35h-1.35zM423.9 78.9h1.35v1.35h-1.35zM423.6 79.9h1.35v1.35h-1.35zM423.8 88.7h1.35v1.35h-1.35zM423.9 92.6h1.35v1.35h-1.35zM425.0 67.6h1.35v1.35h-1.35zM425.0 71.4h1.35v1.35h-1.35zM424.9 72.7h1.35v1.35h-1.35zM425.2 80.0h1.35v1.35h-1.35zM425.1 88.6h1.35v1.35h-1.35zM425.2 90.1h1.35v1.35h-1.35zM426.4 67.5h1.35v1.35h-1.35zM426.2 70.2h1.35v1.35h-1.35zM426.1 83.9h1.35v1.35h-1.35zM427.5 66.4h1.35v1.35h-1.35zM427.5 77.4h1.35v1.35h-1.35zM427.5 78.6h1.35v1.35h-1.35zM427.7 88.9h1.35v1.35h-1.35zM427.4 91.2h1.35v1.35h-1.35zM428.6 69.8h1.35v1.35h-1.35zM428.7 78.8h1.35v1.35h-1.35zM428.6 82.4h1.35v1.35h-1.35zM428.7 83.8h1.35v1.35h-1.35zM428.6 90.1h1.35v1.35h-1.35zM428.9 92.5h1.35v1.35h-1.35zM430.0 66.2h1.35v1.35h-1.35zM431.1 66.2h1.35v1.35h-1.35zM431.4 75.1h1.35v1.35h-1.35zM431.4 76.4h1.35v1.35h-1.35zM431.3 78.7h1.35v1.35h-1.35zM431.1 83.8h1.35v1.35h-1.35zM432.6 66.1h1.35v1.35h-1.35zM432.5 72.6h1.35v1.35h-1.35zM432.3 75.1h1.35v1.35h-1.35zM432.5 78.6h1.35v1.35h-1.35zM432.3 83.9h1.35v1.35h-1.35zM433.8 72.7h1.35v1.35h-1.35zM433.9 75.2h1.35v1.35h-1.35zM434.8 63.8h1.35v1.35h-1.35zM436.4 67.6h1.35v1.35h-1.35zM436.3 71.1h1.35v1.35h-1.35zM436.1 73.8h1.35v1.35h-1.35z" fill="#c474e6"/>
<path d="M419.8 82.5h1.35v1.35h-1.35zM417.5 78.8h1.35v1.35h-1.35zM382.6 75.2h1.35v1.35h-1.35zM382.5 76.4h1.35v1.35h-1.35zM385.1 76.3h1.35v1.35h-1.35zM385.0 77.4h1.35v1.35h-1.35zM386.4 72.3h1.35v1.35h-1.35zM386.1 75.1h1.35v1.35h-1.35zM388.6 73.7h1.35v1.35h-1.35zM388.9 78.8h1.35v1.35h-1.35zM390.0 80.0h1.35v1.35h-1.35zM391.2 76.4h1.35v1.35h-1.35zM391.3 77.3h1.35v1.35h-1.35zM392.6 80.1h1.35v1.35h-1.35zM392.4 83.7h1.35v1.35h-1.35zM394.9 78.7h1.35v1.35h-1.35zM396.2 76.1h1.35v1.35h-1.35zM396.3 77.6h1.35v1.35h-1.35zM397.4 81.1h1.35v1.35h-1.35zM402.4 83.6h1.35v1.35h-1.35zM403.9 80.2h1.35v1.35h-1.35zM405.0 81.3h1.35v1.35h-1.35zM406.4 83.8h1.35v1.35h-1.35zM408.9 82.4h1.35v1.35h-1.35zM408.6 83.7h1.35v1.35h-1.35zM365.1 87.5h1.35v1.35h-1.35zM371.3 82.4h1.35v1.35h-1.35zM373.7 81.3h1.35v1.35h-1.35zM375.0 76.4h1.35v1.35h-1.35zM375.0 78.7h1.35v1.35h-1.35zM375.2 82.6h1.35v1.35h-1.35zM380.2 72.5h1.35v1.35h-1.35zM360.1 91.2h1.35v1.35h-1.35zM362.3 91.2h1.35v1.35h-1.35zM364.8 82.5h1.35v1.35h-1.35zM365.1 90.1h1.35v1.35h-1.35zM365.0 92.5h1.35v1.35h-1.35zM366.3 96.2h1.35v1.35h-1.35zM367.6 89.8h1.35v1.35h-1.35zM368.7 81.3h1.35v1.35h-1.35zM370.2 85.0h1.35v1.35h-1.35zM370.0 86.3h1.35v1.35h-1.35zM371.1 83.7h1.35v1.35h-1.35zM371.2 84.8h1.35v1.35h-1.35zM371.4 87.5h1.35v1.35h-1.35zM371.2 95.0h1.35v1.35h-1.35zM372.6 81.3h1.35v1.35h-1.35zM372.6 83.7h1.35v1.35h-1.35zM372.5 85.0h1.35v1.35h-1.35zM372.5 86.4h1.35v1.35h-1.35zM372.7 87.6h1.35v1.35h-1.35zM372.5 90.1h1.35v1.35h-1.35zM372.6 92.6h1.35v1.35h-1.35zM373.8 82.4h1.35v1.35h-1.35zM373.9 83.7h1.35v1.35h-1.35zM373.8 87.5h1.35v1.35h-1.35zM373.8 88.8h1.35v1.35h-1.35zM373.7 89.9h1.35v1.35h-1.35zM375.2 81.1h1.35v1.35h-1.35zM374.9 83.9h1.35v1.35h-1.35zM375.1 85.0h1.35v1.35h-1.35zM374.9 87.7h1.35v1.35h-1.35zM376.4 78.8h1.35v1.35h-1.35zM376.3 79.9h1.35v1.35h-1.35zM376.1 81.3h1.35v1.35h-1.35zM376.3 82.4h1.35v1.35h-1.35zM376.3 83.8h1.35v1.35h-1.35zM376.3 86.1h1.35v1.35h-1.35zM376.2 87.6h1.35v1.35h-1.35zM377.5 77.4h1.35v1.35h-1.35zM377.4 78.9h1.35v1.35h-1.35zM377.5 81.4h1.35v1.35h-1.35zM377.5 85.1h1.35v1.35h-1.35zM377.3 88.8h1.35v1.35h-1.35zM378.9 77.6h1.35v1.35h-1.35zM378.6 78.8h1.35v1.35h-1.35zM378.6 81.1h1.35v1.35h-1.35zM378.8 82.5h1.35v1.35h-1.35zM378.7 83.9h1.35v1.35h-1.35zM378.9 84.9h1.35v1.35h-1.35zM378.8 90.1h1.35v1.35h-1.35zM379.8 76.2h1.35v1.35h-1.35zM380.1 77.6h1.35v1.35h-1.35zM380.1 78.9h1.35v1.35h-1.35zM380.0 79.9h1.35v1.35h-1.35zM380.2 81.4h1.35v1.35h-1.35zM380.0 82.5h1.35v1.35h-1.35zM380.1 85.0h1.35v1.35h-1.35zM381.4 72.6h1.35v1.35h-1.35zM381.2 76.4h1.35v1.35h-1.35zM381.4 77.4h1.35v1.35h-1.35zM381.3 78.9h1.35v1.35h-1.35zM381.2 80.2h1.35v1.35h-1.35zM381.2 81.2h1.35v1.35h-1.35zM381.3 83.6h1.35v1.35h-1.35zM381.4 84.9h1.35v1.35h-1.35zM382.5 77.5h1.35v1.35h-1.35zM382.5 78.6h1.35v1.35h-1.35zM382.5 80.1h1.35v1.35h-1.35zM382.7 81.2h1.35v1.35h-1.35zM382.6 83.7h1.35v1.35h-1.35zM382.5 85.2h1.35v1.35h-1.35zM383.6 76.2h1.35v1.35h-1.35zM383.6 80.1h1.35v1.35h-1.35zM383.9 81.1h1.35v1.35h-1.35zM383.9 82.6h1.35v1.35h-1.35zM383.7 83.6h1.35v1.35h-1.35zM384.8 73.9h1.35v1.35h-1.35zM385.0 74.8h1.35v1.35h-1.35zM384.8 78.6h1.35v1.35h-1.35zM384.8 83.6h1.35v1.35h-1.35zM386.3 73.6h1.35v1.35h-1.35zM386.4 76.2h1.35v1.35h-1.35zM386.4 77.4h1.35v1.35h-1.35zM386.3 78.8h1.35v1.35h-1.35zM386.3 81.2h1.35v1.35h-1.35zM386.2 82.3h1.35v1.35h-1.35zM387.6 76.1h1.35v1.35h-1.35zM387.5 77.5h1.35v1.35h-1.35zM387.4 78.8h1.35v1.35h-1.35zM387.4 81.4h1.35v1.35h-1.35zM387.4 82.6h1.35v1.35h-1.35zM387.3 83.8h1.35v1.35h-1.35zM388.6 76.4h1.35v1.35h-1.35zM388.8 81.4h1.35v1.35h-1.35zM390.0 76.1h1.35v1.35h-1.35zM390.0 77.6h1.35v1.35h-1.35zM390.2 81.3h1.35v1.35h-1.35zM390.0 82.3h1.35v1.35h-1.35zM391.2 74.9h1.35v1.35h-1.35zM391.2 78.6h1.35v1.35h-1.35zM391.2 81.2h1.35v1.35h-1.35zM392.4 76.4h1.35v1.35h-1.35zM392.6 77.7h1.35v1.35h-1.35zM392.6 85.1h1.35v1.35h-1.35zM393.6 72.6h1.35v1.35h-1.35zM393.9 76.4h1.35v1.35h-1.35zM393.8 77.4h1.35v1.35h-1.35zM393.6 78.9h1.35v1.35h-1.35zM393.9 82.3h1.35v1.35h-1.35zM394.9 77.6h1.35v1.35h-1.35zM394.9 80.0h1.35v1.35h-1.35zM394.9 81.2h1.35v1.35h-1.35zM395.1 82.3h1.35v1.35h-1.35zM396.1 75.0h1.35v1.35h-1.35zM396.3 78.8h1.35v1.35h-1.35zM396.1 79.9h1.35v1.35h-1.35zM397.4 77.5h1.35v1.35h-1.35zM397.4 78.6h1.35v1.35h-1.35zM397.7 83.6h1.35v1.35h-1.35zM397.7 86.1h1.35v1.35h-1.35zM398.6 78.7h1.35v1.35h-1.35zM398.6 81.4h1.35v1.35h-1.35zM399.9 80.0h1.35v1.35h-1.35zM400.0 81.4h1.35v1.35h-1.35zM400.2 82.5h1.35v1.35h-1.35zM400.1 83.9h1.35v1.35h-1.35zM400.1 85.0h1.35v1.35h-1.35zM401.4 78.6h1.35v1.35h-1.35zM401.2 79.9h1.35v1.35h-1.35zM401.2 82.6h1.35v1.35h-1.35zM401.4 84.9h1.35v1.35h-1.35zM402.7 79.8h1.35v1.35h-1.35zM402.4 82.4h1.35v1.35h-1.35zM402.7 85.2h1.35v1.35h-1.35zM402.6 87.3h1.35v1.35h-1.35zM403.6 78.6h1.35v1.35h-1.35zM403.9 82.4h1.35v1.35h-1.35zM404.9 78.8h1.35v1.35h-1.35zM404.8 80.0h1.35v1.35h-1.35zM405.2 82.6h1.35v1.35h-1.35zM404.9 83.8h1.35v1.35h-1.35zM406.3 81.3h1.35v1.35h-1.35zM406.2 82.7h1.35v1.35h-1.35zM407.3 82.6h1.35v1.35h-1.35zM408.7 81.1h1.35v1.35h-1.35zM410.0 82.4h1.35v1.35h-1.35zM409.8 83.8h1.35v1.35h-1.35zM410.1 85.2h1.35v1.35h-1.35zM411.4 79.9h1.35v1.35h-1.35zM412.6 77.4h1.35v1.35h-1.35zM412.5 82.6h1.35v1.35h-1.35zM413.6 77.4h1.35v1.35h-1.35zM413.7 81.2h1.35v1.35h-1.35zM413.8 82.5h1.35v1.35h-1.35zM413.9 83.6h1.35v1.35h-1.35zM414.9 80.2h1.35v1.35h-1.35zM414.8 81.2h1.35v1.35h-1.35zM415.0 82.4h1.35v1.35h-1.35zM416.2 77.5h1.35v1.35h-1.35zM416.2 79.8h1.35v1.35h-1.35zM416.4 82.6h1.35v1.35h-1.35zM416.4 85.1h1.35v1.35h-1.35zM417.5 77.5h1.35v1.35h-1.35zM417.6 80.0h1.35v1.35h-1.35zM417.6 82.5h1.35v1.35h-1.35z" fill="#86b226"/>
<path d="M436.2 46.2h1.35v1.35h-1.35zM437.4 41.1h1.35v1.35h-1.35zM437.5 42.5h1.35v1.35h-1.35zM437.6 43.6h1.35v1.35h-1.35zM437.7 55.2h1.35v1.35h-1.35zM438.9 43.7h1.35v1.35h-1.35zM438.7 45.0h1.35v1.35h-1.35zM438.7 46.4h1.35v1.35h-1.35zM438.8 51.4h1.35v1.35h-1.35zM438.7 53.6h1.35v1.35h-1.35zM438.8 56.4h1.35v1.35h-1.35zM438.9 58.9h1.35v1.35h-1.35zM439.9 41.3h1.35v1.35h-1.35zM440.0 45.1h1.35v1.35h-1.35zM439.8 46.1h1.35v1.35h-1.35zM440.0 47.4h1.35v1.35h-1.35zM440.2 50.1h1.35v1.35h-1.35zM440.1 51.2h1.35v1.35h-1.35zM440.1 52.6h1.35v1.35h-1.35zM439.9 53.7h1.35v1.35h-1.35zM439.9 55.1h1.35v1.35h-1.35zM440.1 56.3h1.35v1.35h-1.35zM441.2 38.7h1.35v1.35h-1.35zM441.3 39.9h1.35v1.35h-1.35zM441.1 42.5h1.35v1.35h-1.35zM441.4 43.9h1.35v1.35h-1.35zM441.1 44.9h1.35v1.35h-1.35zM441.1 46.2h1.35v1.35h-1.35zM441.2 48.9h1.35v1.35h-1.35zM441.1 51.4h1.35v1.35h-1.35zM441.4 52.6h1.35v1.35h-1.35zM441.4 53.7h1.35v1.35h-1.35zM441.3 55.2h1.35v1.35h-1.35zM441.2 57.7h1.35v1.35h-1.35zM441.3 59.9h1.35v1.35h-1.35zM442.5 38.7h1.35v1.35h-1.35zM442.5 41.3h1.35v1.35h-1.35zM442.5 42.3h1.35v1.35h-1.35zM442.5 43.6h1.35v1.35h-1.35zM442.4 45.0h1.35v1.35h-1.35zM442.3 46.3h1.35v1.35h-1.35zM442.7 47.4h1.35v1.35h-1.35zM442.5 48.6h1.35v1.35h-1.35zM442.4 51.2h1.35v1.35h-1.35zM442.3 53.6h1.35v1.35h-1.35zM442.4 56.2h1.35v1.35h-1.35zM442.6 57.6h1.35v1.35h-1.35zM442.5 58.7h1.35v1.35h-1.35zM443.7 38.6h1.35v1.35h-1.35zM443.7 39.9h1.35v1.35h-1.35zM443.9 41.4h1.35v1.35h-1.35zM443.9 42.5h1.35v1.35h-1.35zM443.9 44.8h1.35v1.35h-1.35zM443.6 46.2h1.35v1.35h-1.35zM443.7 47.6h1.35v1.35h-1.35zM443.9 51.2h1.35v1.35h-1.35zM443.9 52.4h1.35v1.35h-1.35zM443.9 55.0h1.35v1.35h-1.35zM443.7 56.3h1.35v1.35h-1.35zM443.6 57.5h1.35v1.35h-1.35zM443.9 58.8h1.35v1.35h-1.35zM443.7 59.9h1.35v1.35h-1.35zM443.6 61.1h1.35v1.35h-1.35zM443.8 62.6h1.35v1.35h-1.35zM444.8 36.2h1.35v1.35h-1.35zM445.1 40.1h1.35v1.35h-1.35zM445.1 41.3h1.35v1.35h-1.35zM444.9 42.4h1.35v1.35h-1.35zM445.0 45.2h1.35v1.35h-1.35zM444.9 47.5h1.35v1.35h-1.35zM444.9 51.3h1.35v1.35h-1.35zM445.1 52.7h1.35v1.35h-1.35zM445.1 53.7h1.35v1.35h-1.35zM444.8 57.5h1.35v1.35h-1.35zM445.2 58.9h1.35v1.35h-1.35zM445.2 59.8h1.35v1.35h-1.35zM444.9 61.4h1.35v1.35h-1.35zM446.4 37.6h1.35v1.35h-1.35zM446.1 41.4h1.35v1.35h-1.35zM446.2 42.7h1.35v1.35h-1.35zM446.3 46.2h1.35v1.35h-1.35zM446.4 47.4h1.35v1.35h-1.35zM446.1 49.8h1.35v1.35h-1.35zM446.1 51.1h1.35v1.35h-1.35zM446.4 52.5h1.35v1.35h-1.35zM446.2 54.8h1.35v1.35h-1.35zM446.1 56.2h1.35v1.35h-1.35zM446.3 60.1h1.35v1.35h-1.35zM446.2 61.4h1.35v1.35h-1.35zM447.3 37.4h1.35v1.35h-1.35zM447.4 38.8h1.35v1.35h-1.35zM447.5 39.9h1.35v1.35h-1.35zM447.6 41.3h1.35v1.35h-1.35zM447.3 42.5h1.35v1.35h-1.35zM447.4 43.9h1.35v1.35h-1.35zM447.5 45.1h1.35v1.35h-1.35zM447.4 47.4h1.35v1.35h-1.35zM447.3 48.8h1.35v1.35h-1.35zM447.6 50.1h1.35v1.35h-1.35zM447.5 51.2h1.35v1.35h-1.35zM447.3 52.7h1.35v1.35h-1.35zM447.5 55.1h1.35v1.35h-1.35zM447.4 57.5h1.35v1.35h-1.35zM448.9 40.0h1.35v1.35h-1.35zM448.9 42.5h1.35v1.35h-1.35zM448.6 43.6h1.35v1.35h-1.35zM448.7 45.1h1.35v1.35h-1.35zM448.8 46.1h1.35v1.35h-1.35zM448.9 47.3h1.35v1.35h-1.35zM448.9 48.8h1.35v1.35h-1.35zM448.7 51.1h1.35v1.35h-1.35zM448.6 52.6h1.35v1.35h-1.35zM448.6 53.9h1.35v1.35h-1.35zM448.8 55.1h1.35v1.35h-1.35zM448.7 56.3h1.35v1.35h-1.35zM448.6 58.8h1.35v1.35h-1.35zM449.9 38.6h1.35v1.35h-1.35zM450.2 40.0h1.35v1.35h-1.35zM450.0 42.3h1.35v1.35h-1.35zM450.0 43.6h1.35v1.35h-1.35zM450.0 45.2h1.35v1.35h-1.35zM450.1 46.3h1.35v1.35h-1.35zM450.1 47.6h1.35v1.35h-1.35zM449.8 51.3h1.35v1.35h-1.35zM450.1 52.5h1.35v1.35h-1.35zM449.8 53.9h1.35v1.35h-1.35zM449.9 56.2h1.35v1.35h-1.35zM449.9 59.9h1.35v1.35h-1.35zM451.1 41.2h1.35v1.35h-1.35zM451.2 43.6h1.35v1.35h-1.35zM451.3 45.1h1.35v1.35h-1.35zM451.1 46.4h1.35v1.35h-1.35zM451.2 47.4h1.35v1.35h-1.35zM451.3 48.8h1.35v1.35h-1.35zM451.1 51.2h1.35v1.35h-1.35zM452.5 38.6h1.35v1.35h-1.35zM452.4 41.4h1.35v1.35h-1.35zM452.3 43.9h1.35v1.35h-1.35zM452.7 44.9h1.35v1.35h-1.35zM452.6 46.2h1.35v1.35h-1.35zM452.5 47.5h1.35v1.35h-1.35zM452.7 48.9h1.35v1.35h-1.35zM452.4 50.2h1.35v1.35h-1.35zM452.5 53.8h1.35v1.35h-1.35zM453.7 42.6h1.35v1.35h-1.35zM453.7 44.8h1.35v1.35h-1.35zM453.7 50.1h1.35v1.35h-1.35zM455.1 43.6h1.35v1.35h-1.35zM455.0 48.8h1.35v1.35h-1.35zM454.8 53.6h1.35v1.35h-1.35zM436.1 43.9h1.35v1.35h-1.35zM440.1 37.5h1.35v1.35h-1.35zM439.9 42.5h1.35v1.35h-1.35zM440.1 43.8h1.35v1.35h-1.35zM441.4 41.2h1.35v1.35h-1.35zM442.5 40.0h1.35v1.35h-1.35zM443.8 43.7h1.35v1.35h-1.35zM437.6 51.4h1.35v1.35h-1.35zM438.8 47.3h1.35v1.35h-1.35zM439.8 48.7h1.35v1.35h-1.35zM440.2 57.5h1.35v1.35h-1.35zM441.3 56.4h1.35v1.35h-1.35zM441.3 58.8h1.35v1.35h-1.35zM442.5 49.8h1.35v1.35h-1.35zM442.4 52.5h1.35v1.35h-1.35zM442.6 54.8h1.35v1.35h-1.35zM442.4 60.0h1.35v1.35h-1.35zM443.7 48.8h1.35v1.35h-1.35zM443.7 49.9h1.35v1.35h-1.35zM443.8 53.8h1.35v1.35h-1.35zM444.8 46.2h1.35v1.35h-1.35zM445.1 50.2h1.35v1.35h-1.35zM446.4 38.8h1.35v1.35h-1.35zM446.4 40.0h1.35v1.35h-1.35zM446.3 43.8h1.35v1.35h-1.35zM446.4 45.2h1.35v1.35h-1.35zM446.1 48.9h1.35v1.35h-1.35zM446.1 57.5h1.35v1.35h-1.35zM446.1 58.7h1.35v1.35h-1.35zM447.4 33.9h1.35v1.35h-1.35zM447.3 35.1h1.35v1.35h-1.35zM447.7 46.3h1.35v1.35h-1.35zM447.5 53.6h1.35v1.35h-1.35zM447.6 61.3h1.35v1.35h-1.35zM448.9 38.6h1.35v1.35h-1.35zM448.9 41.2h1.35v1.35h-1.35zM448.8 57.6h1.35v1.35h-1.35zM448.8 60.2h1.35v1.35h-1.35zM448.9 61.4h1.35v1.35h-1.35zM449.9 35.0h1.35v1.35h-1.35zM449.9 41.3h1.35v1.35h-1.35zM449.8 48.8h1.35v1.35h-1.35zM449.9 50.0h1.35v1.35h-1.35zM449.9 55.0h1.35v1.35h-1.35zM450.1 57.4h1.35v1.35h-1.35zM449.8 58.9h1.35v1.35h-1.35zM450.2 61.4h1.35v1.35h-1.35zM451.1 40.1h1.35v1.35h-1.35zM451.4 42.3h1.35v1.35h-1.35zM451.4 49.9h1.35v1.35h-1.35zM451.2 53.7h1.35v1.35h-1.35zM451.2 55.2h1.35v1.35h-1.35zM451.4 56.3h1.35v1.35h-1.35zM451.3 58.6h1.35v1.35h-1.35zM451.1 61.1h1.35v1.35h-1.35zM452.5 40.0h1.35v1.35h-1.35zM452.4 52.3h1.35v1.35h-1.35zM452.6 55.0h1.35v1.35h-1.35zM452.4 56.2h1.35v1.35h-1.35zM452.5 57.4h1.35v1.35h-1.35zM452.4 61.3h1.35v1.35h-1.35zM453.6 38.7h1.35v1.35h-1.35zM453.9 43.9h1.35v1.35h-1.35zM453.8 51.3h1.35v1.35h-1.35zM453.6 52.5h1.35v1.35h-1.35zM453.8 53.9h1.35v1.35h-1.35zM453.8 54.8h1.35v1.35h-1.35zM453.9 56.2h1.35v1.35h-1.35zM453.6 61.3h1.35v1.35h-1.35zM455.1 42.7h1.35v1.35h-1.35zM454.9 44.9h1.35v1.35h-1.35zM455.1 50.0h1.35v1.35h-1.35zM456.2 43.9h1.35v1.35h-1.35zM456.3 46.4h1.35v1.35h-1.35zM456.1 47.4h1.35v1.35h-1.35zM456.1 57.7h1.35v1.35h-1.35zM457.7 42.5h1.35v1.35h-1.35zM457.7 43.9h1.35v1.35h-1.35zM458.9 52.6h1.35v1.35h-1.35z" fill="#e06ad0"/>
<path d="M458.6 38.6h1.35v1.35h-1.35zM458.8 41.2h1.35v1.35h-1.35zM458.9 42.7h1.35v1.35h-1.35zM458.7 45.0h1.35v1.35h-1.35zM458.7 46.4h1.35v1.35h-1.35zM458.7 47.5h1.35v1.35h-1.35zM460.2 38.7h1.35v1.35h-1.35zM459.9 40.0h1.35v1.35h-1.35zM460.1 41.4h1.35v1.35h-1.35zM459.9 42.4h1.35v1.35h-1.35zM459.9 45.2h1.35v1.35h-1.35zM461.4 40.0h1.35v1.35h-1.35zM461.4 42.4h1.35v1.35h-1.35zM461.3 43.9h1.35v1.35h-1.35zM461.2 45.2h1.35v1.35h-1.35zM462.3 42.4h1.35v1.35h-1.35zM462.4 43.8h1.35v1.35h-1.35zM462.3 44.8h1.35v1.35h-1.35zM463.6 41.4h1.35v1.35h-1.35zM463.9 43.9h1.35v1.35h-1.35zM463.8 44.9h1.35v1.35h-1.35zM463.9 46.4h1.35v1.35h-1.35z" fill="#f070c8"/>
<path d="M372.4 67.4h1.35v1.35h-1.35zM372.3 71.3h1.35v1.35h-1.35zM373.9 68.7h1.35v1.35h-1.35zM373.7 69.9h1.35v1.35h-1.35zM375.0 65.2h1.35v1.35h-1.35zM376.4 71.1h1.35v1.35h-1.35zM377.3 61.2h1.35v1.35h-1.35zM377.4 68.6h1.35v1.35h-1.35zM377.4 71.2h1.35v1.35h-1.35zM378.8 70.0h1.35v1.35h-1.35zM378.8 73.8h1.35v1.35h-1.35zM380.1 62.3h1.35v1.35h-1.35zM379.8 64.8h1.35v1.35h-1.35zM382.3 56.1h1.35v1.35h-1.35zM382.4 57.7h1.35v1.35h-1.35zM383.7 61.4h1.35v1.35h-1.35zM383.7 62.4h1.35v1.35h-1.35zM388.9 61.4h1.35v1.35h-1.35zM393.8 53.7h1.35v1.35h-1.35zM392.6 55.0h1.35v1.35h-1.35zM383.9 64.9h1.35v1.35h-1.35zM385.1 63.6h1.35v1.35h-1.35zM386.4 66.2h1.35v1.35h-1.35zM387.7 58.6h1.35v1.35h-1.35zM348.8 82.5h1.35v1.35h-1.35zM350.0 81.3h1.35v1.35h-1.35zM350.1 82.6h1.35v1.35h-1.35zM352.6 78.7h1.35v1.35h-1.35zM352.4 80.0h1.35v1.35h-1.35zM352.3 88.9h1.35v1.35h-1.35zM353.6 78.8h1.35v1.35h-1.35zM353.6 81.3h1.35v1.35h-1.35zM353.7 82.3h1.35v1.35h-1.35zM355.1 81.2h1.35v1.35h-1.35zM354.9 82.7h1.35v1.35h-1.35zM356.2 79.9h1.35v1.35h-1.35zM356.4 81.2h1.35v1.35h-1.35zM356.3 82.6h1.35v1.35h-1.35zM356.1 86.2h1.35v1.35h-1.35zM356.3 87.4h1.35v1.35h-1.35zM357.6 72.5h1.35v1.35h-1.35zM357.5 75.1h1.35v1.35h-1.35zM357.6 78.8h1.35v1.35h-1.35zM357.7 79.9h1.35v1.35h-1.35zM357.6 81.3h1.35v1.35h-1.35zM357.5 82.6h1.35v1.35h-1.35zM358.9 75.0h1.35v1.35h-1.35zM358.6 76.1h1.35v1.35h-1.35zM358.8 77.6h1.35v1.35h-1.35zM358.8 78.7h1.35v1.35h-1.35zM358.9 81.4h1.35v1.35h-1.35zM358.6 88.9h1.35v1.35h-1.35zM359.8 71.2h1.35v1.35h-1.35zM360.2 73.9h1.35v1.35h-1.35zM360.0 74.8h1.35v1.35h-1.35zM359.9 76.3h1.35v1.35h-1.35zM359.8 77.6h1.35v1.35h-1.35zM360.1 78.8h1.35v1.35h-1.35zM360.2 79.9h1.35v1.35h-1.35zM359.9 81.3h1.35v1.35h-1.35zM359.8 82.4h1.35v1.35h-1.35zM361.2 67.4h1.35v1.35h-1.35zM361.4 73.7h1.35v1.35h-1.35zM361.3 75.1h1.35v1.35h-1.35zM361.1 76.4h1.35v1.35h-1.35zM361.1 77.7h1.35v1.35h-1.35zM361.4 78.7h1.35v1.35h-1.35zM361.1 80.1h1.35v1.35h-1.35zM361.1 81.1h1.35v1.35h-1.35zM361.1 82.3h1.35v1.35h-1.35zM361.2 83.9h1.35v1.35h-1.35zM362.4 68.8h1.35v1.35h-1.35zM362.7 73.7h1.35v1.35h-1.35zM362.4 76.2h1.35v1.35h-1.35zM362.6 77.4h1.35v1.35h-1.35zM362.5 78.8h1.35v1.35h-1.35zM362.5 81.4h1.35v1.35h-1.35zM363.6 70.1h1.35v1.35h-1.35zM363.7 71.2h1.35v1.35h-1.35zM363.7 72.5h1.35v1.35h-1.35zM363.6 73.7h1.35v1.35h-1.35zM363.7 75.0h1.35v1.35h-1.35zM363.6 77.7h1.35v1.35h-1.35zM363.7 81.3h1.35v1.35h-1.35zM363.6 83.6h1.35v1.35h-1.35zM365.1 63.6h1.35v1.35h-1.35zM365.0 64.9h1.35v1.35h-1.35zM364.9 71.3h1.35v1.35h-1.35zM365.0 72.6h1.35v1.35h-1.35zM365.1 76.4h1.35v1.35h-1.35zM365.0 77.4h1.35v1.35h-1.35zM365.1 78.7h1.35v1.35h-1.35zM364.9 81.1h1.35v1.35h-1.35zM364.9 83.7h1.35v1.35h-1.35zM366.2 68.8h1.35v1.35h-1.35zM366.3 69.8h1.35v1.35h-1.35zM366.1 71.1h1.35v1.35h-1.35zM366.2 73.9h1.35v1.35h-1.35zM366.3 75.1h1.35v1.35h-1.35zM366.2 76.1h1.35v1.35h-1.35zM366.4 77.6h1.35v1.35h-1.35zM366.2 78.8h1.35v1.35h-1.35zM366.1 80.0h1.35v1.35h-1.35zM366.1 81.1h1.35v1.35h-1.35zM366.1 82.5h1.35v1.35h-1.35zM366.3 85.0h1.35v1.35h-1.35zM367.7 62.3h1.35v1.35h-1.35zM367.7 63.9h1.35v1.35h-1.35zM367.4 66.4h1.35v1.35h-1.35zM367.4 67.3h1.35v1.35h-1.35zM367.4 68.8h1.35v1.35h-1.35zM367.5 71.4h1.35v1.35h-1.35zM367.5 72.7h1.35v1.35h-1.35zM367.5 73.6h1.35v1.35h-1.35zM367.5 74.9h1.35v1.35h-1.35zM367.5 76.4h1.35v1.35h-1.35zM367.7 77.7h1.35v1.35h-1.35zM367.7 78.8h1.35v1.35h-1.35zM367.3 79.9h1.35v1.35h-1.35zM367.4 81.4h1.35v1.35h-1.35zM367.4 83.8h1.35v1.35h-1.35zM368.9 61.2h1.35v1.35h-1.35zM368.9 66.3h1.35v1.35h-1.35zM368.7 67.5h1.35v1.35h-1.35zM368.9 68.7h1.35v1.35h-1.35zM368.8 69.8h1.35v1.35h-1.35zM368.7 71.3h1.35v1.35h-1.35zM368.6 72.6h1.35v1.35h-1.35zM368.6 73.7h1.35v1.35h-1.35zM368.9 76.4h1.35v1.35h-1.35zM368.7 77.7h1.35v1.35h-1.35zM368.9 78.6h1.35v1.35h-1.35zM368.6 79.8h1.35v1.35h-1.35zM368.9 82.3h1.35v1.35h-1.35zM368.6 83.8h1.35v1.35h-1.35zM368.8 85.1h1.35v1.35h-1.35zM368.9 90.0h1.35v1.35h-1.35zM370.0 64.9h1.35v1.35h-1.35zM370.1 67.3h1.35v1.35h-1.35zM369.8 69.9h1.35v1.35h-1.35zM370.1 71.4h1.35v1.35h-1.35zM370.0 72.4h1.35v1.35h-1.35zM370.0 73.6h1.35v1.35h-1.35zM369.9 77.4h1.35v1.35h-1.35zM370.2 78.7h1.35v1.35h-1.35zM370.2 79.9h1.35v1.35h-1.35zM370.0 81.3h1.35v1.35h-1.35zM371.4 62.4h1.35v1.35h-1.35zM371.4 63.9h1.35v1.35h-1.35zM371.4 66.2h1.35v1.35h-1.35zM371.3 67.6h1.35v1.35h-1.35zM371.3 68.8h1.35v1.35h-1.35zM371.2 72.4h1.35v1.35h-1.35zM371.3 73.7h1.35v1.35h-1.35zM371.1 75.2h1.35v1.35h-1.35zM371.1 76.2h1.35v1.35h-1.35zM371.3 77.7h1.35v1.35h-1.35zM371.3 78.6h1.35v1.35h-1.35zM371.4 80.0h1.35v1.35h-1.35zM371.3 81.4h1.35v1.35h-1.35zM372.6 59.9h1.35v1.35h-1.35zM372.3 61.1h1.35v1.35h-1.35zM372.5 62.4h1.35v1.35h-1.35zM372.6 63.9h1.35v1.35h-1.35zM372.3 65.0h1.35v1.35h-1.35zM372.3 66.1h1.35v1.35h-1.35zM372.5 68.7h1.35v1.35h-1.35zM372.4 72.4h1.35v1.35h-1.35zM372.4 73.7h1.35v1.35h-1.35zM372.5 75.2h1.35v1.35h-1.35zM372.6 76.4h1.35v1.35h-1.35zM372.3 77.6h1.35v1.35h-1.35zM372.6 78.9h1.35v1.35h-1.35zM372.7 79.9h1.35v1.35h-1.35zM373.6 61.4h1.35v1.35h-1.35zM373.6 65.1h1.35v1.35h-1.35zM373.6 67.6h1.35v1.35h-1.35zM373.7 71.1h1.35v1.35h-1.35zM373.6 72.4h1.35v1.35h-1.35zM373.7 73.6h1.35v1.35h-1.35zM373.6 75.2h1.35v1.35h-1.35zM373.7 77.6h1.35v1.35h-1.35zM373.7 78.6h1.35v1.35h-1.35zM375.1 57.5h1.35v1.35h-1.35zM375.1 62.4h1.35v1.35h-1.35zM375.0 63.6h1.35v1.35h-1.35zM374.9 66.4h1.35v1.35h-1.35zM375.2 69.9h1.35v1.35h-1.35zM375.1 71.1h1.35v1.35h-1.35zM374.9 73.6h1.35v1.35h-1.35zM375.1 74.9h1.35v1.35h-1.35zM375.0 79.9h1.35v1.35h-1.35zM376.3 58.6h1.35v1.35h-1.35zM376.2 59.9h1.35v1.35h-1.35zM376.3 61.2h1.35v1.35h-1.35zM376.4 62.3h1.35v1.35h-1.35zM376.4 63.9h1.35v1.35h-1.35zM376.4 65.0h1.35v1.35h-1.35zM376.4 66.4h1.35v1.35h-1.35zM376.4 67.6h1.35v1.35h-1.35zM376.2 68.8h1.35v1.35h-1.35zM376.4 70.0h1.35v1.35h-1.35zM376.1 73.8h1.35v1.35h-1.35zM376.4 75.0h1.35v1.35h-1.35zM376.1 77.5h1.35v1.35h-1.35zM377.4 55.0h1.35v1.35h-1.35zM377.5 56.2h1.35v1.35h-1.35zM377.6 60.1h1.35v1.35h-1.35zM377.3 62.4h1.35v1.35h-1.35zM377.7 63.8h1.35v1.35h-1.35zM377.3 65.2h1.35v1.35h-1.35zM377.6 66.3h1.35v1.35h-1.35zM377.5 69.9h1.35v1.35h-1.35zM377.5 72.5h1.35v1.35h-1.35zM377.7 76.4h1.35v1.35h-1.35zM378.7 58.6h1.35v1.35h-1.35zM378.7 60.1h1.35v1.35h-1.35zM378.8 61.1h1.35v1.35h-1.35zM378.7 63.8h1.35v1.35h-1.35zM378.7 64.8h1.35v1.35h-1.35zM378.7 66.2h1.35v1.35h-1.35zM378.9 67.6h1.35v1.35h-1.35zM378.7 68.9h1.35v1.35h-1.35zM378.9 71.2h1.35v1.35h-1.35zM379.8 59.8h1.35v1.35h-1.35zM380.1 61.2h1.35v1.35h-1.35zM380.0 66.2h1.35v1.35h-1.35zM381.4 56.3h1.35v1.35h-1.35zM381.4 57.6h1.35v1.35h-1.35zM381.3 60.2h1.35v1.35h-1.35zM381.4 61.4h1.35v1.35h-1.35zM381.4 62.7h1.35v1.35h-1.35zM381.2 65.1h1.35v1.35h-1.35zM381.2 66.1h1.35v1.35h-1.35zM382.3 58.6h1.35v1.35h-1.35zM382.7 60.2h1.35v1.35h-1.35zM382.4 61.4h1.35v1.35h-1.35zM382.5 62.7h1.35v1.35h-1.35zM382.3 63.6h1.35v1.35h-1.35zM382.3 68.9h1.35v1.35h-1.35zM383.8 52.7h1.35v1.35h-1.35zM383.7 53.8h1.35v1.35h-1.35zM383.8 56.1h1.35v1.35h-1.35zM383.6 57.7h1.35v1.35h-1.35zM383.7 58.7h1.35v1.35h-1.35zM383.7 59.9h1.35v1.35h-1.35zM383.8 66.2h1.35v1.35h-1.35zM385.2 52.7h1.35v1.35h-1.35zM384.8 53.7h1.35v1.35h-1.35zM385.1 54.9h1.35v1.35h-1.35zM385.0 56.3h1.35v1.35h-1.35zM385.1 58.6h1.35v1.35h-1.35zM385.0 59.8h1.35v1.35h-1.35zM385.0 61.4h1.35v1.35h-1.35zM386.4 55.0h1.35v1.35h-1.35zM386.1 56.4h1.35v1.35h-1.35zM386.3 57.5h1.35v1.35h-1.35zM386.3 58.7h1.35v1.35h-1.35zM386.3 59.9h1.35v1.35h-1.35zM386.1 61.4h1.35v1.35h-1.35zM387.6 55.0h1.35v1.35h-1.35zM387.5 60.0h1.35v1.35h-1.35zM388.7 57.6h1.35v1.35h-1.35zM389.8 53.6h1.35v1.35h-1.35zM389.8 57.5h1.35v1.35h-1.35z" fill="#5fb22c"/>
<path d="M351.3 82.7h1.35v1.35h-1.35zM352.5 83.8h1.35v1.35h-1.35zM352.4 84.8h1.35v1.35h-1.35zM353.7 83.8h1.35v1.35h-1.35zM353.6 86.3h1.35v1.35h-1.35zM353.8 88.8h1.35v1.35h-1.35zM355.1 84.8h1.35v1.35h-1.35zM355.1 87.4h1.35v1.35h-1.35zM355.2 88.8h1.35v1.35h-1.35zM356.3 83.8h1.35v1.35h-1.35zM356.4 84.8h1.35v1.35h-1.35zM356.2 90.1h1.35v1.35h-1.35zM357.5 83.9h1.35v1.35h-1.35zM357.5 87.5h1.35v1.35h-1.35zM358.9 82.4h1.35v1.35h-1.35zM358.8 83.7h1.35v1.35h-1.35zM358.9 86.4h1.35v1.35h-1.35zM358.9 87.6h1.35v1.35h-1.35zM360.0 85.1h1.35v1.35h-1.35zM359.9 86.2h1.35v1.35h-1.35zM360.2 87.4h1.35v1.35h-1.35zM359.9 88.6h1.35v1.35h-1.35zM361.4 85.0h1.35v1.35h-1.35zM361.4 86.4h1.35v1.35h-1.35zM362.3 85.1h1.35v1.35h-1.35zM362.4 86.3h1.35v1.35h-1.35zM362.5 87.6h1.35v1.35h-1.35zM363.8 84.9h1.35v1.35h-1.35zM363.6 86.2h1.35v1.35h-1.35zM363.7 87.4h1.35v1.35h-1.35zM364.9 84.9h1.35v1.35h-1.35zM365.0 86.1h1.35v1.35h-1.35zM366.1 86.2h1.35v1.35h-1.35zM366.2 87.3h1.35v1.35h-1.35zM367.5 85.2h1.35v1.35h-1.35zM367.5 86.3h1.35v1.35h-1.35zM358.8 90.0h1.35v1.35h-1.35zM361.2 90.0h1.35v1.35h-1.35zM362.5 88.9h1.35v1.35h-1.35zM362.3 92.5h1.35v1.35h-1.35zM363.7 88.9h1.35v1.35h-1.35zM363.8 91.1h1.35v1.35h-1.35zM363.9 92.6h1.35v1.35h-1.35zM365.0 88.7h1.35v1.35h-1.35zM365.0 91.4h1.35v1.35h-1.35zM366.4 88.7h1.35v1.35h-1.35zM366.4 91.2h1.35v1.35h-1.35zM366.2 93.8h1.35v1.35h-1.35zM367.4 88.8h1.35v1.35h-1.35zM367.5 91.4h1.35v1.35h-1.35zM367.6 92.4h1.35v1.35h-1.35zM367.4 93.8h1.35v1.35h-1.35zM368.6 86.1h1.35v1.35h-1.35zM368.7 88.7h1.35v1.35h-1.35zM368.7 92.7h1.35v1.35h-1.35zM370.0 87.5h1.35v1.35h-1.35zM370.0 90.0h1.35v1.35h-1.35zM371.4 86.1h1.35v1.35h-1.35zM371.2 88.9h1.35v1.35h-1.35zM371.2 91.1h1.35v1.35h-1.35zM372.5 88.6h1.35v1.35h-1.35zM372.3 91.3h1.35v1.35h-1.35zM372.5 93.9h1.35v1.35h-1.35zM374.9 88.6h1.35v1.35h-1.35zM332.6 93.7h1.35v1.35h-1.35zM335.1 96.1h1.35v1.35h-1.35zM335.2 99.9h1.35v1.35h-1.35zM336.4 97.5h1.35v1.35h-1.35zM337.6 90.2h1.35v1.35h-1.35zM337.6 91.3h1.35v1.35h-1.35zM337.6 92.6h1.35v1.35h-1.35zM337.4 93.8h1.35v1.35h-1.35zM337.6 95.1h1.35v1.35h-1.35zM337.4 96.1h1.35v1.35h-1.35zM337.6 97.4h1.35v1.35h-1.35zM337.4 99.9h1.35v1.35h-1.35zM337.3 101.3h1.35v1.35h-1.35zM337.5 102.7h1.35v1.35h-1.35zM338.7 90.1h1.35v1.35h-1.35zM338.8 91.4h1.35v1.35h-1.35zM338.6 92.6h1.35v1.35h-1.35zM338.7 93.7h1.35v1.35h-1.35zM338.6 95.2h1.35v1.35h-1.35zM338.9 97.4h1.35v1.35h-1.35zM338.9 98.6h1.35v1.35h-1.35zM338.6 100.2h1.35v1.35h-1.35zM338.9 101.3h1.35v1.35h-1.35zM340.1 87.7h1.35v1.35h-1.35zM340.2 90.1h1.35v1.35h-1.35zM339.9 91.1h1.35v1.35h-1.35zM339.8 92.5h1.35v1.35h-1.35zM339.9 93.9h1.35v1.35h-1.35zM339.9 95.1h1.35v1.35h-1.35zM340.0 96.4h1.35v1.35h-1.35zM340.2 97.5h1.35v1.35h-1.35zM339.8 98.7h1.35v1.35h-1.35zM339.9 100.0h1.35v1.35h-1.35zM340.2 101.2h1.35v1.35h-1.35zM341.3 88.7h1.35v1.35h-1.35zM341.1 90.0h1.35v1.35h-1.35zM341.4 91.3h1.35v1.35h-1.35zM341.1 92.5h1.35v1.35h-1.35zM341.2 93.6h1.35v1.35h-1.35zM341.4 94.9h1.35v1.35h-1.35zM341.1 96.4h1.35v1.35h-1.35zM341.2 98.7h1.35v1.35h-1.35zM341.3 102.4h1.35v1.35h-1.35zM341.2 103.9h1.35v1.35h-1.35zM342.6 86.4h1.35v1.35h-1.35zM342.5 87.3h1.35v1.35h-1.35zM342.5 88.9h1.35v1.35h-1.35zM342.5 91.3h1.35v1.35h-1.35zM342.5 92.4h1.35v1.35h-1.35zM342.7 93.8h1.35v1.35h-1.35zM342.6 94.9h1.35v1.35h-1.35zM342.4 96.1h1.35v1.35h-1.35zM342.3 98.8h1.35v1.35h-1.35zM342.4 100.1h1.35v1.35h-1.35zM342.5 101.3h1.35v1.35h-1.35zM342.4 103.7h1.35v1.35h-1.35zM343.8 88.8h1.35v1.35h-1.35zM343.9 89.8h1.35v1.35h-1.35zM343.8 91.2h1.35v1.35h-1.35zM343.7 92.6h1.35v1.35h-1.35zM343.9 95.0h1.35v1.35h-1.35zM343.6 96.3h1.35v1.35h-1.35zM343.8 98.9h1.35v1.35h-1.35zM343.9 100.0h1.35v1.35h-1.35zM343.7 101.2h1.35v1.35h-1.35zM343.6 103.7h1.35v1.35h-1.35zM344.9 86.1h1.35v1.35h-1.35zM345.0 87.5h1.35v1.35h-1.35zM345.1 88.7h1.35v1.35h-1.35zM345.1 89.8h1.35v1.35h-1.35zM345.0 93.8h1.35v1.35h-1.35zM345.0 94.9h1.35v1.35h-1.35zM344.9 96.4h1.35v1.35h-1.35zM345.1 98.8h1.35v1.35h-1.35zM345.0 100.0h1.35v1.35h-1.35zM345.2 101.3h1.35v1.35h-1.35zM344.8 102.6h1.35v1.35h-1.35zM345.0 103.6h1.35v1.35h-1.35zM346.4 85.0h1.35v1.35h-1.35zM346.1 86.1h1.35v1.35h-1.35zM346.1 87.4h1.35v1.35h-1.35zM346.3 88.9h1.35v1.35h-1.35zM346.1 89.9h1.35v1.35h-1.35zM346.2 91.3h1.35v1.35h-1.35zM346.3 92.5h1.35v1.35h-1.35zM346.3 93.6h1.35v1.35h-1.35zM346.1 96.3h1.35v1.35h-1.35zM346.2 97.3h1.35v1.35h-1.35zM346.3 98.7h1.35v1.35h-1.35zM346.3 99.9h1.35v1.35h-1.35zM346.3 101.2h1.35v1.35h-1.35zM346.4 103.8h1.35v1.35h-1.35zM347.4 87.3h1.35v1.35h-1.35zM347.5 88.6h1.35v1.35h-1.35zM347.5 89.9h1.35v1.35h-1.35zM347.7 91.2h1.35v1.35h-1.35zM347.5 92.7h1.35v1.35h-1.35zM347.4 93.7h1.35v1.35h-1.35zM347.3 94.9h1.35v1.35h-1.35zM347.7 96.2h1.35v1.35h-1.35zM347.4 97.6h1.35v1.35h-1.35zM347.4 98.7h1.35v1.35h-1.35zM347.5 99.9h1.35v1.35h-1.35zM347.4 101.2h1.35v1.35h-1.35zM347.5 103.7h1.35v1.35h-1.35zM347.6 104.9h1.35v1.35h-1.35zM348.7 83.7h1.35v1.35h-1.35zM348.7 85.2h1.35v1.35h-1.35zM348.6 86.4h1.35v1.35h-1.35zM348.7 87.7h1.35v1.35h-1.35zM348.6 88.8h1.35v1.35h-1.35zM348.8 90.0h1.35v1.35h-1.35zM348.9 91.4h1.35v1.35h-1.35zM348.9 92.4h1.35v1.35h-1.35zM348.7 93.9h1.35v1.35h-1.35zM348.7 95.1h1.35v1.35h-1.35zM348.8 101.3h1.35v1.35h-1.35zM348.8 102.6h1.35v1.35h-1.35zM348.7 103.6h1.35v1.35h-1.35zM349.9 83.9h1.35v1.35h-1.35zM350.2 85.0h1.35v1.35h-1.35zM350.0 86.2h1.35v1.35h-1.35zM350.0 87.5h1.35v1.35h-1.35zM350.0 88.6h1.35v1.35h-1.35zM349.9 90.1h1.35v1.35h-1.35zM349.9 91.3h1.35v1.35h-1.35zM349.9 93.9h1.35v1.35h-1.35zM350.0 94.9h1.35v1.35h-1.35zM350.2 96.2h1.35v1.35h-1.35zM350.2 97.5h1.35v1.35h-1.35zM350.2 98.9h1.35v1.35h-1.35zM350.0 100.1h1.35v1.35h-1.35zM350.1 101.3h1.35v1.35h-1.35zM349.9 102.7h1.35v1.35h-1.35zM350.1 103.8h1.35v1.35h-1.35zM350.1 104.9h1.35v1.35h-1.35zM349.8 112.7h1.35v1.35h-1.35zM351.2 84.9h1.35v1.35h-1.35zM351.4 86.3h1.35v1.35h-1.35zM351.1 90.0h1.35v1.35h-1.35zM351.1 91.4h1.35v1.35h-1.35zM351.1 93.7h1.35v1.35h-1.35zM351.3 95.0h1.35v1.35h-1.35zM351.1 96.2h1.35v1.35h-1.35zM351.2 97.5h1.35v1.35h-1.35zM351.1 98.7h1.35v1.35h-1.35zM351.3 100.1h1.35v1.35h-1.35zM351.3 105.1h1.35v1.35h-1.35zM351.2 106.2h1.35v1.35h-1.35zM351.4 108.7h1.35v1.35h-1.35zM351.3 110.0h1.35v1.35h-1.35zM351.4 111.1h1.35v1.35h-1.35zM352.5 86.1h1.35v1.35h-1.35zM352.6 89.9h1.35v1.35h-1.35zM352.5 91.2h1.35v1.35h-1.35zM352.4 92.6h1.35v1.35h-1.35zM352.4 93.8h1.35v1.35h-1.35zM352.6 94.8h1.35v1.35h-1.35zM352.6 96.3h1.35v1.35h-1.35zM352.5 97.3h1.35v1.35h-1.35zM352.3 98.7h1.35v1.35h-1.35zM352.5 100.1h1.35v1.35h-1.35zM352.5 101.2h1.35v1.35h-1.35zM352.6 102.6h1.35v1.35h-1.35zM352.6 103.9h1.35v1.35h-1.35zM352.4 105.0h1.35v1.35h-1.35zM352.5 106.2h1.35v1.35h-1.35zM352.7 107.7h1.35v1.35h-1.35zM352.5 110.1h1.35v1.35h-1.35zM352.3 112.4h1.35v1.35h-1.35zM353.9 85.2h1.35v1.35h-1.35zM353.9 87.7h1.35v1.35h-1.35zM353.9 89.8h1.35v1.35h-1.35zM353.6 91.4h1.35v1.35h-1.35zM353.9 92.4h1.35v1.35h-1.35zM353.7 93.8h1.35v1.35h-1.35zM353.7 95.1h1.35v1.35h-1.35zM353.6 96.4h1.35v1.35h-1.35zM353.9 97.3h1.35v1.35h-1.35zM353.9 98.9h1.35v1.35h-1.35zM353.8 100.1h1.35v1.35h-1.35zM353.7 101.4h1.35v1.35h-1.35zM353.8 102.4h1.35v1.35h-1.35zM353.9 103.7h1.35v1.35h-1.35zM353.6 105.2h1.35v1.35h-1.35zM353.6 106.2h1.35v1.35h-1.35zM353.6 108.8h1.35v1.35h-1.35zM354.9 86.2h1.35v1.35h-1.35zM355.0 89.8h1.35v1.35h-1.35zM354.9 91.3h1.35v1.35h-1.35zM355.2 92.6h1.35v1.35h-1.35zM354.8 94.9h1.35v1.35h-1.35zM355.0 97.6h1.35v1.35h-1.35zM355.0 98.7h1.35v1.35h-1.35zM354.9 99.9h1.35v1.35h-1.35zM354.9 101.1h1.35v1.35h-1.35zM354.9 102.5h1.35v1.35h-1.35zM355.2 103.8h1.35v1.35h-1.35zM355.2 105.1h1.35v1.35h-1.35zM355.1 108.9h1.35v1.35h-1.35zM355.1 110.2h1.35v1.35h-1.35zM355.1 111.2h1.35v1.35h-1.35zM354.8 112.6h1.35v1.35h-1.35zM356.2 88.9h1.35v1.35h-1.35zM356.4 92.7h1.35v1.35h-1.35zM356.3 93.7h1.35v1.35h-1.35zM356.3 95.2h1.35v1.35h-1.35zM356.4 96.4h1.35v1.35h-1.35zM356.4 97.5h1.35v1.35h-1.35zM356.4 100.1h1.35v1.35h-1.35zM356.1 101.4h1.35v1.35h-1.35zM356.1 102.5h1.35v1.35h-1.35zM356.1 103.8h1.35v1.35h-1.35zM356.1 105.1h1.35v1.35h-1.35zM356.4 106.1h1.35v1.35h-1.35zM356.4 107.3h1.35v1.35h-1.35zM356.4 108.6h1.35v1.35h-1.35zM356.4 110.1h1.35v1.35h-1.35zM356.4 111.3h1.35v1.35h-1.35zM356.2 113.6h1.35v1.35h-1.35zM357.4 85.0h1.35v1.35h-1.35zM357.5 88.7h1.35v1.35h-1.35zM357.7 90.2h1.35v1.35h-1.35zM357.3 91.2h1.35v1.35h-1.35zM357.4 92.5h1.35v1.35h-1.35zM357.4 93.7h1.35v1.35h-1.35zM357.4 95.1h1.35v1.35h-1.35zM357.6 96.3h1.35v1.35h-1.35zM357.5 97.5h1.35v1.35h-1.35zM357.4 100.1h1.35v1.35h-1.35zM357.4 101.1h1.35v1.35h-1.35zM357.5 102.5h1.35v1.35h-1.35zM357.4 103.6h1.35v1.35h-1.35zM357.6 105.1h1.35v1.35h-1.35zM357.5 106.2h1.35v1.35h-1.35zM357.5 107.4h1.35v1.35h-1.35zM357.5 108.8h1.35v1.35h-1.35zM357.4 111.1h1.35v1.35h-1.35zM357.3 112.7h1.35v1.35h-1.35zM358.7 91.4h1.35v1.35h-1.35zM358.8 92.5h1.35v1.35h-1.35zM358.8 93.7h1.35v1.35h-1.35zM358.9 97.6h1.35v1.35h-1.35zM358.8 98.6h1.35v1.35h-1.35zM358.6 100.1h1.35v1.35h-1.35zM358.6 101.2h1.35v1.35h-1.35zM358.7 103.9h1.35v1.35h-1.35zM358.6 105.0h1.35v1.35h-1.35zM358.9 106.3h1.35v1.35h-1.35zM358.9 107.5h1.35v1.35h-1.35zM358.8 108.7h1.35v1.35h-1.35zM358.7 110.2h1.35v1.35h-1.35zM358.8 111.2h1.35v1.35h-1.35zM358.8 112.6h1.35v1.35h-1.35zM360.1 83.7h1.35v1.35h-1.35zM360.1 90.1h1.35v1.35h-1.35zM360.0 93.9h1.35v1.35h-1.35zM359.9 94.8h1.35v1.35h-1.35zM360.0 96.3h1.35v1.35h-1.35zM360.2 97.6h1.35v1.35h-1.35zM360.0 99.9h1.35v1.35h-1.35zM360.0 101.1h1.35v1.35h-1.35zM359.9 102.4h1.35v1.35h-1.35zM360.1 103.9h1.35v1.35h-1.35zM360.2 104.9h1.35v1.35h-1.35zM360.1 107.6h1.35v1.35h-1.35zM360.1 109.9h1.35v1.35h-1.35zM360.1 111.1h1.35v1.35h-1.35zM360.1 112.5h1.35v1.35h-1.35zM360.1 113.7h1.35v1.35h-1.35zM361.4 87.4h1.35v1.35h-1.35zM361.3 88.7h1.35v1.35h-1.35zM361.2 92.6h1.35v1.35h-1.35zM361.2 93.9h1.35v1.35h-1.35zM361.1 94.9h1.35v1.35h-1.35zM361.1 96.1h1.35v1.35h-1.35zM361.3 97.3h1.35v1.35h-1.35zM361.2 98.7h1.35v1.35h-1.35zM361.4 101.2h1.35v1.35h-1.35zM361.3 105.1h1.35v1.35h-1.35zM361.2 108.8h1.35v1.35h-1.35zM361.3 109.8h1.35v1.35h-1.35zM361.2 112.7h1.35v1.35h-1.35zM362.5 90.0h1.35v1.35h-1.35zM362.3 93.6h1.35v1.35h-1.35zM362.6 94.9h1.35v1.35h-1.35zM362.5 96.1h1.35v1.35h-1.35zM362.7 97.6h1.35v1.35h-1.35zM362.4 98.6h1.35v1.35h-1.35zM362.4 101.4h1.35v1.35h-1.35zM362.4 102.6h1.35v1.35h-1.35zM362.7 103.9h1.35v1.35h-1.35zM362.4 105.2h1.35v1.35h-1.35zM362.6 107.4h1.35v1.35h-1.35zM362.6 108.9h1.35v1.35h-1.35zM362.4 109.9h1.35v1.35h-1.35zM362.7 112.7h1.35v1.35h-1.35zM362.4 113.9h1.35v1.35h-1.35zM363.8 90.1h1.35v1.35h-1.35zM363.9 93.7h1.35v1.35h-1.35zM363.7 95.2h1.35v1.35h-1.35zM363.6 96.3h1.35v1.35h-1.35zM363.9 97.4h1.35v1.35h-1.35zM363.7 100.1h1.35v1.35h-1.35zM363.9 101.1h1.35v1.35h-1.35zM363.9 102.6h1.35v1.35h-1.35zM363.9 103.8h1.35v1.35h-1.35zM363.6 106.3h1.35v1.35h-1.35zM363.7 107.4h1.35v1.35h-1.35zM363.6 108.6h1.35v1.35h-1.35zM363.7 110.1h1.35v1.35h-1.35zM363.7 111.3h1.35v1.35h-1.35zM365.1 93.8h1.35v1.35h-1.35zM364.8 94.9h1.35v1.35h-1.35zM365.0 96.4h1.35v1.35h-1.35zM364.9 98.9h1.35v1.35h-1.35zM365.1 100.0h1.35v1.35h-1.35zM365.0 102.6h1.35v1.35h-1.35zM365.0 103.6h1.35v1.35h-1.35zM365.0 107.4h1.35v1.35h-1.35zM364.9 108.6h1.35v1.35h-1.35zM365.2 110.0h1.35v1.35h-1.35zM366.1 95.0h1.35v1.35h-1.35zM366.4 98.6h1.35v1.35h-1.35zM366.1 99.8h1.35v1.35h-1.35zM366.2 101.4h1.35v1.35h-1.35zM366.1 103.8h1.35v1.35h-1.35zM366.1 105.2h1.35v1.35h-1.35zM366.3 107.5h1.35v1.35h-1.35zM366.1 108.8h1.35v1.35h-1.35zM366.1 109.9h1.35v1.35h-1.35zM367.4 87.6h1.35v1.35h-1.35zM367.5 95.1h1.35v1.35h-1.35zM367.4 96.4h1.35v1.35h-1.35zM367.5 97.3h1.35v1.35h-1.35zM367.6 98.8h1.35v1.35h-1.35zM367.7 99.9h1.35v1.35h-1.35zM367.5 101.4h1.35v1.35h-1.35zM367.5 102.5h1.35v1.35h-1.35zM367.7 103.6h1.35v1.35h-1.35zM367.3 104.9h1.35v1.35h-1.35zM367.4 106.2h1.35v1.35h-1.35zM367.7 108.9h1.35v1.35h-1.35zM367.4 110.1h1.35v1.35h-1.35zM368.9 87.3h1.35v1.35h-1.35zM368.8 93.9h1.35v1.35h-1.35zM368.8 95.2h1.35v1.35h-1.35zM368.7 96.4h1.35v1.35h-1.35zM368.6 98.6h1.35v1.35h-1.35zM368.6 99.9h1.35v1.35h-1.35zM368.8 101.3h1.35v1.35h-1.35zM368.8 102.6h1.35v1.35h-1.35zM368.7 105.2h1.35v1.35h-1.35zM368.7 106.2h1.35v1.35h-1.35zM370.0 88.6h1.35v1.35h-1.35zM370.1 92.6h1.35v1.35h-1.35zM369.8 93.7h1.35v1.35h-1.35zM370.1 94.8h1.35v1.35h-1.35zM369.9 96.1h1.35v1.35h-1.35zM370.0 98.9h1.35v1.35h-1.35zM370.1 101.1h1.35v1.35h-1.35zM369.9 102.6h1.35v1.35h-1.35zM369.9 105.2h1.35v1.35h-1.35zM370.1 112.4h1.35v1.35h-1.35zM371.1 90.1h1.35v1.35h-1.35zM371.1 92.7h1.35v1.35h-1.35zM371.1 96.1h1.35v1.35h-1.35zM371.4 97.4h1.35v1.35h-1.35zM371.1 98.9h1.35v1.35h-1.35zM371.4 100.0h1.35v1.35h-1.35zM371.2 102.4h1.35v1.35h-1.35zM371.2 103.6h1.35v1.35h-1.35zM371.1 105.2h1.35v1.35h-1.35zM371.3 106.1h1.35v1.35h-1.35zM371.1 107.7h1.35v1.35h-1.35zM372.4 94.9h1.35v1.35h-1.35zM372.6 96.1h1.35v1.35h-1.35zM372.6 97.5h1.35v1.35h-1.35zM372.4 99.9h1.35v1.35h-1.35zM372.6 101.4h1.35v1.35h-1.35zM372.5 102.3h1.35v1.35h-1.35zM372.6 107.3h1.35v1.35h-1.35zM373.8 86.4h1.35v1.35h-1.35zM373.7 93.8h1.35v1.35h-1.35zM373.9 96.4h1.35v1.35h-1.35zM373.9 101.1h1.35v1.35h-1.35zM375.0 104.9h1.35v1.35h-1.35z" fill="#cb8a20"/>
<path d="M338.7 103.6h1.35v1.35h-1.35zM340.0 102.6h1.35v1.35h-1.35zM341.2 106.3h1.35v1.35h-1.35zM341.4 107.7h1.35v1.35h-1.35zM341.3 108.8h1.35v1.35h-1.35zM342.4 105.0h1.35v1.35h-1.35zM342.6 106.4h1.35v1.35h-1.35zM343.7 102.4h1.35v1.35h-1.35zM343.8 106.1h1.35v1.35h-1.35zM344.8 104.9h1.35v1.35h-1.35zM346.1 102.6h1.35v1.35h-1.35zM346.2 105.0h1.35v1.35h-1.35zM346.1 107.6h1.35v1.35h-1.35zM347.5 102.5h1.35v1.35h-1.35zM347.4 106.1h1.35v1.35h-1.35zM347.4 107.4h1.35v1.35h-1.35zM347.6 108.8h1.35v1.35h-1.35zM347.5 111.2h1.35v1.35h-1.35zM348.9 106.4h1.35v1.35h-1.35zM348.9 107.6h1.35v1.35h-1.35zM350.0 106.3h1.35v1.35h-1.35zM349.8 108.6h1.35v1.35h-1.35zM350.1 109.9h1.35v1.35h-1.35zM350.1 111.3h1.35v1.35h-1.35zM350.1 113.9h1.35v1.35h-1.35zM352.6 108.9h1.35v1.35h-1.35zM352.6 111.1h1.35v1.35h-1.35zM353.7 107.5h1.35v1.35h-1.35zM326.4 107.5h1.35v1.35h-1.35zM327.3 109.9h1.35v1.35h-1.35zM328.7 104.8h1.35v1.35h-1.35zM328.8 106.2h1.35v1.35h-1.35zM328.6 110.0h1.35v1.35h-1.35zM328.9 113.7h1.35v1.35h-1.35zM329.9 103.6h1.35v1.35h-1.35zM331.2 110.0h1.35v1.35h-1.35zM331.3 111.1h1.35v1.35h-1.35zM331.4 112.5h1.35v1.35h-1.35zM331.3 113.7h1.35v1.35h-1.35zM332.6 105.1h1.35v1.35h-1.35zM332.5 106.2h1.35v1.35h-1.35zM332.3 108.8h1.35v1.35h-1.35zM332.5 110.1h1.35v1.35h-1.35zM332.5 111.2h1.35v1.35h-1.35zM332.3 112.4h1.35v1.35h-1.35zM333.7 102.3h1.35v1.35h-1.35zM333.7 107.5h1.35v1.35h-1.35zM333.9 108.6h1.35v1.35h-1.35zM333.9 109.9h1.35v1.35h-1.35zM333.7 111.3h1.35v1.35h-1.35zM333.8 112.3h1.35v1.35h-1.35zM335.1 103.8h1.35v1.35h-1.35zM334.9 106.1h1.35v1.35h-1.35zM335.2 107.5h1.35v1.35h-1.35zM334.9 108.8h1.35v1.35h-1.35zM335.1 109.9h1.35v1.35h-1.35zM334.9 112.4h1.35v1.35h-1.35zM334.9 113.9h1.35v1.35h-1.35zM336.1 101.2h1.35v1.35h-1.35zM336.2 103.9h1.35v1.35h-1.35zM336.2 107.3h1.35v1.35h-1.35zM336.2 108.9h1.35v1.35h-1.35zM336.2 110.0h1.35v1.35h-1.35zM336.2 111.4h1.35v1.35h-1.35zM336.3 112.3h1.35v1.35h-1.35zM336.1 113.8h1.35v1.35h-1.35zM336.1 114.8h1.35v1.35h-1.35zM336.3 117.7h1.35v1.35h-1.35zM337.6 103.8h1.35v1.35h-1.35zM337.7 105.1h1.35v1.35h-1.35zM337.5 106.3h1.35v1.35h-1.35zM337.5 107.5h1.35v1.35h-1.35zM337.4 108.8h1.35v1.35h-1.35zM337.5 110.1h1.35v1.35h-1.35zM337.6 111.2h1.35v1.35h-1.35zM337.4 112.4h1.35v1.35h-1.35zM337.5 113.8h1.35v1.35h-1.35zM337.4 115.0h1.35v1.35h-1.35zM337.5 116.4h1.35v1.35h-1.35zM337.4 117.4h1.35v1.35h-1.35zM338.9 102.4h1.35v1.35h-1.35zM338.8 105.0h1.35v1.35h-1.35zM338.9 106.4h1.35v1.35h-1.35zM338.8 108.7h1.35v1.35h-1.35zM338.9 109.9h1.35v1.35h-1.35zM338.7 112.5h1.35v1.35h-1.35zM338.7 113.8h1.35v1.35h-1.35zM338.6 115.2h1.35v1.35h-1.35zM339.9 103.8h1.35v1.35h-1.35zM339.8 106.4h1.35v1.35h-1.35zM339.9 107.5h1.35v1.35h-1.35zM340.0 110.0h1.35v1.35h-1.35zM339.9 112.7h1.35v1.35h-1.35zM340.1 113.6h1.35v1.35h-1.35zM339.8 115.1h1.35v1.35h-1.35zM340.0 116.4h1.35v1.35h-1.35zM341.3 101.2h1.35v1.35h-1.35zM341.1 110.1h1.35v1.35h-1.35zM341.2 111.4h1.35v1.35h-1.35zM341.4 113.9h1.35v1.35h-1.35zM341.1 116.3h1.35v1.35h-1.35zM342.4 108.8h1.35v1.35h-1.35zM342.4 110.1h1.35v1.35h-1.35zM342.3 111.1h1.35v1.35h-1.35zM342.7 112.5h1.35v1.35h-1.35zM342.5 113.6h1.35v1.35h-1.35zM342.4 114.9h1.35v1.35h-1.35zM343.7 105.1h1.35v1.35h-1.35zM343.6 108.9h1.35v1.35h-1.35zM343.6 110.2h1.35v1.35h-1.35zM343.7 111.3h1.35v1.35h-1.35zM343.8 112.4h1.35v1.35h-1.35zM343.8 113.9h1.35v1.35h-1.35zM343.9 115.1h1.35v1.35h-1.35zM344.9 106.3h1.35v1.35h-1.35zM345.0 107.6h1.35v1.35h-1.35zM344.8 108.8h1.35v1.35h-1.35zM344.9 110.0h1.35v1.35h-1.35zM345.1 111.1h1.35v1.35h-1.35zM344.9 112.6h1.35v1.35h-1.35zM345.0 113.8h1.35v1.35h-1.35zM344.9 115.1h1.35v1.35h-1.35zM345.1 117.5h1.35v1.35h-1.35zM346.2 106.2h1.35v1.35h-1.35zM346.4 108.9h1.35v1.35h-1.35zM346.2 111.2h1.35v1.35h-1.35zM346.2 112.6h1.35v1.35h-1.35zM346.4 113.6h1.35v1.35h-1.35zM346.4 116.1h1.35v1.35h-1.35zM347.6 110.1h1.35v1.35h-1.35zM347.5 112.7h1.35v1.35h-1.35zM347.4 113.8h1.35v1.35h-1.35zM347.4 115.0h1.35v1.35h-1.35zM348.7 108.8h1.35v1.35h-1.35zM348.8 109.8h1.35v1.35h-1.35zM348.6 112.4h1.35v1.35h-1.35zM348.6 113.7h1.35v1.35h-1.35zM348.8 117.6h1.35v1.35h-1.35zM351.3 115.1h1.35v1.35h-1.35zM352.5 113.8h1.35v1.35h-1.35z" fill="#e0765a"/>
<path d="M318.6 85.1h1.35v1.35h-1.35zM320.0 86.1h1.35v1.35h-1.35zM321.1 83.6h1.35v1.35h-1.35zM321.2 86.4h1.35v1.35h-1.35zM321.4 87.7h1.35v1.35h-1.35zM321.2 89.9h1.35v1.35h-1.35zM322.4 84.9h1.35v1.35h-1.35zM322.5 86.2h1.35v1.35h-1.35zM322.4 87.6h1.35v1.35h-1.35zM322.5 88.9h1.35v1.35h-1.35zM322.7 93.8h1.35v1.35h-1.35zM323.7 85.2h1.35v1.35h-1.35zM323.7 86.2h1.35v1.35h-1.35zM323.7 87.5h1.35v1.35h-1.35zM323.8 88.8h1.35v1.35h-1.35zM323.7 89.8h1.35v1.35h-1.35zM323.9 92.5h1.35v1.35h-1.35zM323.6 96.3h1.35v1.35h-1.35zM325.1 83.7h1.35v1.35h-1.35zM324.9 86.2h1.35v1.35h-1.35zM325.2 87.5h1.35v1.35h-1.35zM325.0 88.9h1.35v1.35h-1.35zM324.9 89.9h1.35v1.35h-1.35zM325.1 91.3h1.35v1.35h-1.35zM324.9 92.7h1.35v1.35h-1.35zM326.3 79.8h1.35v1.35h-1.35zM326.3 81.1h1.35v1.35h-1.35zM326.1 82.5h1.35v1.35h-1.35zM326.4 86.1h1.35v1.35h-1.35zM326.1 87.6h1.35v1.35h-1.35zM326.1 88.7h1.35v1.35h-1.35zM326.4 89.9h1.35v1.35h-1.35zM326.3 91.1h1.35v1.35h-1.35zM326.2 92.4h1.35v1.35h-1.35zM326.2 93.7h1.35v1.35h-1.35zM326.1 95.1h1.35v1.35h-1.35zM326.3 96.1h1.35v1.35h-1.35zM327.6 79.9h1.35v1.35h-1.35zM327.4 82.6h1.35v1.35h-1.35zM327.6 83.6h1.35v1.35h-1.35zM327.7 84.9h1.35v1.35h-1.35zM327.3 86.3h1.35v1.35h-1.35zM327.4 87.5h1.35v1.35h-1.35zM327.4 88.9h1.35v1.35h-1.35zM327.4 91.2h1.35v1.35h-1.35zM327.6 93.8h1.35v1.35h-1.35zM327.6 95.0h1.35v1.35h-1.35zM327.4 96.3h1.35v1.35h-1.35zM328.8 81.2h1.35v1.35h-1.35zM328.8 83.6h1.35v1.35h-1.35zM328.6 84.9h1.35v1.35h-1.35zM328.6 86.1h1.35v1.35h-1.35zM328.7 90.0h1.35v1.35h-1.35zM328.6 92.3h1.35v1.35h-1.35zM328.7 93.6h1.35v1.35h-1.35zM328.9 95.1h1.35v1.35h-1.35zM328.6 98.7h1.35v1.35h-1.35zM328.6 102.4h1.35v1.35h-1.35zM330.1 82.6h1.35v1.35h-1.35zM330.1 90.1h1.35v1.35h-1.35zM330.0 95.1h1.35v1.35h-1.35zM330.1 96.4h1.35v1.35h-1.35zM329.9 97.6h1.35v1.35h-1.35zM330.1 98.8h1.35v1.35h-1.35zM331.3 96.1h1.35v1.35h-1.35zM331.1 97.6h1.35v1.35h-1.35zM332.4 98.9h1.35v1.35h-1.35zM333.6 85.2h1.35v1.35h-1.35zM333.6 98.8h1.35v1.35h-1.35zM335.1 98.9h1.35v1.35h-1.35zM335.2 77.7h1.35v1.35h-1.35zM336.3 80.1h1.35v1.35h-1.35zM337.4 76.3h1.35v1.35h-1.35zM337.6 78.7h1.35v1.35h-1.35zM337.5 80.2h1.35v1.35h-1.35zM337.7 81.3h1.35v1.35h-1.35zM338.9 76.4h1.35v1.35h-1.35zM338.9 77.6h1.35v1.35h-1.35zM338.9 78.9h1.35v1.35h-1.35zM338.6 80.2h1.35v1.35h-1.35zM339.9 73.6h1.35v1.35h-1.35zM340.0 76.1h1.35v1.35h-1.35zM340.0 77.4h1.35v1.35h-1.35zM341.1 76.2h1.35v1.35h-1.35zM341.3 78.8h1.35v1.35h-1.35zM342.7 73.7h1.35v1.35h-1.35zM342.5 76.1h1.35v1.35h-1.35zM342.6 78.9h1.35v1.35h-1.35zM343.9 77.5h1.35v1.35h-1.35zM345.0 72.4h1.35v1.35h-1.35zM344.9 73.8h1.35v1.35h-1.35zM344.8 75.1h1.35v1.35h-1.35zM344.9 76.2h1.35v1.35h-1.35zM345.0 77.5h1.35v1.35h-1.35zM346.1 75.0h1.35v1.35h-1.35zM346.4 77.4h1.35v1.35h-1.35zM347.4 73.7h1.35v1.35h-1.35zM347.4 76.2h1.35v1.35h-1.35zM347.3 77.7h1.35v1.35h-1.35zM348.6 71.3h1.35v1.35h-1.35zM348.7 73.8h1.35v1.35h-1.35zM348.8 76.2h1.35v1.35h-1.35zM349.9 68.9h1.35v1.35h-1.35zM350.2 72.5h1.35v1.35h-1.35zM350.1 78.9h1.35v1.35h-1.35zM351.3 72.3h1.35v1.35h-1.35zM351.4 73.6h1.35v1.35h-1.35zM351.4 76.1h1.35v1.35h-1.35zM352.5 72.4h1.35v1.35h-1.35zM352.6 75.1h1.35v1.35h-1.35z" fill="#42b05c"/>
<path d="M391.4 106.1h1.35v1.35h-1.35zM396.2 102.7h1.35v1.35h-1.35zM372.6 106.2h1.35v1.35h-1.35zM376.3 98.6h1.35v1.35h-1.35zM376.2 107.3h1.35v1.35h-1.35zM377.6 101.3h1.35v1.35h-1.35zM377.5 102.7h1.35v1.35h-1.35zM377.5 109.9h1.35v1.35h-1.35zM378.8 101.1h1.35v1.35h-1.35zM378.9 103.6h1.35v1.35h-1.35zM378.6 105.0h1.35v1.35h-1.35zM378.7 106.2h1.35v1.35h-1.35zM380.1 98.6h1.35v1.35h-1.35zM380.0 104.8h1.35v1.35h-1.35zM381.3 104.8h1.35v1.35h-1.35zM382.6 105.0h1.35v1.35h-1.35zM382.4 107.6h1.35v1.35h-1.35zM383.9 106.3h1.35v1.35h-1.35zM385.0 100.1h1.35v1.35h-1.35zM385.2 106.3h1.35v1.35h-1.35zM386.2 103.8h1.35v1.35h-1.35zM386.3 107.3h1.35v1.35h-1.35zM387.6 102.6h1.35v1.35h-1.35zM387.7 103.7h1.35v1.35h-1.35zM387.6 105.2h1.35v1.35h-1.35zM387.7 106.1h1.35v1.35h-1.35zM388.7 103.6h1.35v1.35h-1.35zM388.8 106.3h1.35v1.35h-1.35zM388.8 107.4h1.35v1.35h-1.35zM390.1 103.7h1.35v1.35h-1.35zM391.1 100.0h1.35v1.35h-1.35zM392.5 103.8h1.35v1.35h-1.35zM392.6 104.8h1.35v1.35h-1.35zM392.3 106.3h1.35v1.35h-1.35zM394.9 108.9h1.35v1.35h-1.35z" fill="#f0a0c8"/>
<path d="M392.7 102.4h1.35v1.35h-1.35zM392.7 109.8h1.35v1.35h-1.35zM393.8 96.3h1.35v1.35h-1.35zM393.9 97.5h1.35v1.35h-1.35zM393.6 100.0h1.35v1.35h-1.35zM393.8 101.3h1.35v1.35h-1.35zM393.7 102.4h1.35v1.35h-1.35zM393.6 107.4h1.35v1.35h-1.35zM395.0 100.2h1.35v1.35h-1.35zM395.2 101.3h1.35v1.35h-1.35zM395.1 102.6h1.35v1.35h-1.35zM395.0 103.7h1.35v1.35h-1.35zM395.1 105.2h1.35v1.35h-1.35zM395.1 106.1h1.35v1.35h-1.35zM395.1 107.6h1.35v1.35h-1.35zM396.2 97.5h1.35v1.35h-1.35zM396.1 98.7h1.35v1.35h-1.35zM396.2 99.8h1.35v1.35h-1.35zM396.3 101.3h1.35v1.35h-1.35zM396.3 103.8h1.35v1.35h-1.35zM396.3 105.0h1.35v1.35h-1.35zM396.4 106.2h1.35v1.35h-1.35zM397.6 96.3h1.35v1.35h-1.35zM397.4 97.4h1.35v1.35h-1.35zM397.5 100.0h1.35v1.35h-1.35zM397.5 101.3h1.35v1.35h-1.35zM397.5 102.5h1.35v1.35h-1.35zM397.6 104.8h1.35v1.35h-1.35zM397.6 106.2h1.35v1.35h-1.35zM397.7 107.4h1.35v1.35h-1.35zM398.7 95.2h1.35v1.35h-1.35zM398.7 101.2h1.35v1.35h-1.35zM398.7 102.7h1.35v1.35h-1.35zM398.9 103.7h1.35v1.35h-1.35zM398.6 106.1h1.35v1.35h-1.35zM398.7 108.7h1.35v1.35h-1.35zM400.2 98.7h1.35v1.35h-1.35zM400.2 99.9h1.35v1.35h-1.35zM400.1 101.3h1.35v1.35h-1.35zM399.9 102.5h1.35v1.35h-1.35zM400.1 103.9h1.35v1.35h-1.35zM400.0 106.2h1.35v1.35h-1.35zM399.8 107.6h1.35v1.35h-1.35zM400.1 109.8h1.35v1.35h-1.35zM401.4 97.4h1.35v1.35h-1.35zM401.4 98.7h1.35v1.35h-1.35zM401.2 100.0h1.35v1.35h-1.35zM401.4 101.1h1.35v1.35h-1.35zM401.3 102.7h1.35v1.35h-1.35zM401.1 103.7h1.35v1.35h-1.35zM401.1 105.0h1.35v1.35h-1.35zM401.3 106.4h1.35v1.35h-1.35zM401.3 107.4h1.35v1.35h-1.35zM401.3 108.7h1.35v1.35h-1.35zM401.3 109.8h1.35v1.35h-1.35zM401.3 111.3h1.35v1.35h-1.35zM402.5 96.1h1.35v1.35h-1.35zM402.4 97.3h1.35v1.35h-1.35zM402.5 98.6h1.35v1.35h-1.35zM402.6 100.1h1.35v1.35h-1.35zM402.5 101.2h1.35v1.35h-1.35zM402.5 102.4h1.35v1.35h-1.35zM402.6 103.9h1.35v1.35h-1.35zM402.6 105.1h1.35v1.35h-1.35zM402.4 107.6h1.35v1.35h-1.35zM402.6 108.6h1.35v1.35h-1.35zM402.4 111.4h1.35v1.35h-1.35zM403.8 96.1h1.35v1.35h-1.35zM403.7 97.4h1.35v1.35h-1.35zM403.6 98.9h1.35v1.35h-1.35zM403.7 100.1h1.35v1.35h-1.35zM403.6 102.4h1.35v1.35h-1.35zM403.9 105.1h1.35v1.35h-1.35zM403.8 106.3h1.35v1.35h-1.35zM403.9 107.3h1.35v1.35h-1.35zM403.9 110.1h1.35v1.35h-1.35zM405.1 93.6h1.35v1.35h-1.35zM405.1 96.4h1.35v1.35h-1.35zM404.9 98.8h1.35v1.35h-1.35zM404.8 99.8h1.35v1.35h-1.35zM404.9 101.4h1.35v1.35h-1.35zM405.2 102.3h1.35v1.35h-1.35zM404.9 103.7h1.35v1.35h-1.35zM404.9 107.4h1.35v1.35h-1.35zM406.1 97.5h1.35v1.35h-1.35zM406.3 98.8h1.35v1.35h-1.35zM406.1 100.0h1.35v1.35h-1.35zM406.3 101.2h1.35v1.35h-1.35zM406.4 102.7h1.35v1.35h-1.35zM406.1 105.0h1.35v1.35h-1.35zM406.1 106.3h1.35v1.35h-1.35zM406.2 111.3h1.35v1.35h-1.35zM407.4 98.6h1.35v1.35h-1.35zM407.4 100.1h1.35v1.35h-1.35zM407.6 101.1h1.35v1.35h-1.35zM407.6 102.4h1.35v1.35h-1.35zM407.6 103.6h1.35v1.35h-1.35zM407.4 105.1h1.35v1.35h-1.35zM407.4 106.2h1.35v1.35h-1.35zM408.7 101.3h1.35v1.35h-1.35zM408.8 102.4h1.35v1.35h-1.35zM408.6 103.9h1.35v1.35h-1.35zM408.9 105.1h1.35v1.35h-1.35zM408.9 106.2h1.35v1.35h-1.35zM409.9 103.6h1.35v1.35h-1.35zM409.9 105.1h1.35v1.35h-1.35zM411.3 99.8h1.35v1.35h-1.35zM411.4 102.7h1.35v1.35h-1.35zM411.4 106.3h1.35v1.35h-1.35zM413.6 104.8h1.35v1.35h-1.35zM408.6 112.3h1.35v1.35h-1.35zM408.7 113.6h1.35v1.35h-1.35zM409.9 112.3h1.35v1.35h-1.35zM411.3 113.7h1.35v1.35h-1.35zM411.4 114.9h1.35v1.35h-1.35zM412.6 113.6h1.35v1.35h-1.35zM412.4 115.1h1.35v1.35h-1.35z" fill="#d98a3a"/>
<path d="M417.4 108.8h1.35v1.35h-1.35zM418.8 106.1h1.35v1.35h-1.35zM420.2 105.2h1.35v1.35h-1.35zM419.9 107.6h1.35v1.35h-1.35zM421.1 101.2h1.35v1.35h-1.35zM421.4 103.7h1.35v1.35h-1.35zM421.2 105.1h1.35v1.35h-1.35zM421.4 107.4h1.35v1.35h-1.35zM422.4 101.1h1.35v1.35h-1.35zM422.7 102.4h1.35v1.35h-1.35zM422.7 103.9h1.35v1.35h-1.35zM422.6 105.0h1.35v1.35h-1.35zM422.6 106.1h1.35v1.35h-1.35zM422.4 110.2h1.35v1.35h-1.35zM423.7 101.1h1.35v1.35h-1.35zM423.8 103.7h1.35v1.35h-1.35zM423.8 108.9h1.35v1.35h-1.35zM423.9 111.1h1.35v1.35h-1.35zM425.2 103.9h1.35v1.35h-1.35zM424.8 105.0h1.35v1.35h-1.35zM424.9 106.3h1.35v1.35h-1.35zM424.8 107.6h1.35v1.35h-1.35zM425.1 111.2h1.35v1.35h-1.35zM426.1 100.1h1.35v1.35h-1.35zM426.3 105.1h1.35v1.35h-1.35zM426.2 107.3h1.35v1.35h-1.35zM426.2 108.7h1.35v1.35h-1.35zM426.2 111.1h1.35v1.35h-1.35zM427.5 103.9h1.35v1.35h-1.35zM427.3 105.1h1.35v1.35h-1.35zM427.5 106.2h1.35v1.35h-1.35zM427.5 107.7h1.35v1.35h-1.35zM427.3 108.9h1.35v1.35h-1.35zM427.4 109.8h1.35v1.35h-1.35zM428.6 102.4h1.35v1.35h-1.35zM428.8 105.2h1.35v1.35h-1.35zM428.6 106.4h1.35v1.35h-1.35zM428.8 108.7h1.35v1.35h-1.35zM432.3 106.3h1.35v1.35h-1.35z" fill="#7c8ef0"/>
<path d="M416.2 121.2h1.35v1.35h-1.35zM416.1 123.8h1.35v1.35h-1.35zM417.3 120.1h1.35v1.35h-1.35zM417.3 121.4h1.35v1.35h-1.35zM417.7 122.3h1.35v1.35h-1.35zM417.6 123.7h1.35v1.35h-1.35zM417.5 125.0h1.35v1.35h-1.35zM418.6 122.7h1.35v1.35h-1.35zM418.6 125.2h1.35v1.35h-1.35zM418.6 126.2h1.35v1.35h-1.35zM419.8 118.9h1.35v1.35h-1.35zM420.1 121.1h1.35v1.35h-1.35zM420.1 122.5h1.35v1.35h-1.35zM420.1 123.9h1.35v1.35h-1.35zM420.1 124.9h1.35v1.35h-1.35zM419.9 126.2h1.35v1.35h-1.35zM420.0 127.4h1.35v1.35h-1.35zM421.2 124.9h1.35v1.35h-1.35zM421.2 127.6h1.35v1.35h-1.35zM421.4 128.7h1.35v1.35h-1.35zM421.1 130.1h1.35v1.35h-1.35zM418.8 136.2h1.35v1.35h-1.35zM420.0 135.0h1.35v1.35h-1.35zM419.8 140.0h1.35v1.35h-1.35zM421.1 135.0h1.35v1.35h-1.35zM421.2 136.1h1.35v1.35h-1.35zM421.1 137.6h1.35v1.35h-1.35zM421.3 138.7h1.35v1.35h-1.35zM421.4 140.0h1.35v1.35h-1.35zM421.3 145.2h1.35v1.35h-1.35zM422.6 129.9h1.35v1.35h-1.35zM422.6 133.9h1.35v1.35h-1.35zM422.7 134.8h1.35v1.35h-1.35zM422.5 137.6h1.35v1.35h-1.35zM422.3 138.9h1.35v1.35h-1.35zM422.6 140.2h1.35v1.35h-1.35zM422.6 141.3h1.35v1.35h-1.35zM422.5 143.9h1.35v1.35h-1.35zM423.7 132.4h1.35v1.35h-1.35zM423.6 135.0h1.35v1.35h-1.35zM423.9 136.4h1.35v1.35h-1.35zM423.8 138.8h1.35v1.35h-1.35zM423.8 142.6h1.35v1.35h-1.35zM423.8 143.8h1.35v1.35h-1.35zM423.7 145.0h1.35v1.35h-1.35zM424.9 131.2h1.35v1.35h-1.35zM425.1 133.9h1.35v1.35h-1.35zM425.1 134.8h1.35v1.35h-1.35zM425.1 136.1h1.35v1.35h-1.35zM424.8 137.7h1.35v1.35h-1.35zM425.1 138.6h1.35v1.35h-1.35zM425.1 140.2h1.35v1.35h-1.35zM425.0 141.3h1.35v1.35h-1.35zM424.9 142.5h1.35v1.35h-1.35zM425.0 143.9h1.35v1.35h-1.35zM426.2 132.7h1.35v1.35h-1.35zM426.3 136.3h1.35v1.35h-1.35zM426.3 137.3h1.35v1.35h-1.35zM426.3 138.9h1.35v1.35h-1.35zM426.1 140.1h1.35v1.35h-1.35zM426.1 141.3h1.35v1.35h-1.35zM426.3 142.3h1.35v1.35h-1.35zM426.3 147.5h1.35v1.35h-1.35zM427.6 133.8h1.35v1.35h-1.35zM427.4 135.1h1.35v1.35h-1.35zM427.4 136.3h1.35v1.35h-1.35zM427.6 137.6h1.35v1.35h-1.35zM427.7 138.7h1.35v1.35h-1.35zM427.7 139.9h1.35v1.35h-1.35zM427.5 143.8h1.35v1.35h-1.35zM427.4 144.9h1.35v1.35h-1.35zM428.6 135.1h1.35v1.35h-1.35zM428.9 136.4h1.35v1.35h-1.35zM428.7 139.9h1.35v1.35h-1.35zM429.9 137.4h1.35v1.35h-1.35zM430.0 139.8h1.35v1.35h-1.35zM429.9 141.4h1.35v1.35h-1.35zM431.1 137.5h1.35v1.35h-1.35zM431.4 140.1h1.35v1.35h-1.35zM431.4 143.7h1.35v1.35h-1.35zM431.1 146.2h1.35v1.35h-1.35zM432.7 140.1h1.35v1.35h-1.35zM432.6 141.4h1.35v1.35h-1.35zM432.3 142.4h1.35v1.35h-1.35zM432.4 143.9h1.35v1.35h-1.35zM433.9 141.1h1.35v1.35h-1.35zM433.6 145.2h1.35v1.35h-1.35zM435.0 144.9h1.35v1.35h-1.35zM435.1 146.2h1.35v1.35h-1.35zM436.2 143.8h1.35v1.35h-1.35zM436.4 146.1h1.35v1.35h-1.35zM437.4 147.6h1.35v1.35h-1.35zM438.7 146.3h1.35v1.35h-1.35zM438.9 147.6h1.35v1.35h-1.35zM438.7 148.7h1.35v1.35h-1.35zM440.2 146.1h1.35v1.35h-1.35zM439.9 148.7h1.35v1.35h-1.35zM441.1 148.7h1.35v1.35h-1.35zM442.4 147.3h1.35v1.35h-1.35z" fill="#34b8a2"/>
<path d="M423.9 141.2h1.35v1.35h-1.35zM424.8 145.2h1.35v1.35h-1.35zM426.2 143.8h1.35v1.35h-1.35zM426.3 144.9h1.35v1.35h-1.35zM426.3 146.2h1.35v1.35h-1.35zM427.7 141.4h1.35v1.35h-1.35zM428.9 143.9h1.35v1.35h-1.35zM428.7 146.4h1.35v1.35h-1.35zM429.9 145.1h1.35v1.35h-1.35zM432.6 144.9h1.35v1.35h-1.35zM433.7 143.6h1.35v1.35h-1.35zM433.9 147.6h1.35v1.35h-1.35zM433.9 148.7h1.35v1.35h-1.35zM434.9 148.6h1.35v1.35h-1.35zM436.1 148.9h1.35v1.35h-1.35zM395.1 160.1h1.35v1.35h-1.35zM399.8 158.8h1.35v1.35h-1.35zM399.9 163.9h1.35v1.35h-1.35zM399.9 166.3h1.35v1.35h-1.35zM400.1 167.3h1.35v1.35h-1.35zM402.3 171.2h1.35v1.35h-1.35zM403.6 168.8h1.35v1.35h-1.35zM403.7 173.7h1.35v1.35h-1.35zM405.2 171.3h1.35v1.35h-1.35zM405.2 176.1h1.35v1.35h-1.35zM405.1 178.6h1.35v1.35h-1.35zM406.3 155.0h1.35v1.35h-1.35zM406.3 173.7h1.35v1.35h-1.35zM406.1 175.1h1.35v1.35h-1.35zM406.3 178.9h1.35v1.35h-1.35zM407.3 149.9h1.35v1.35h-1.35zM407.7 170.0h1.35v1.35h-1.35zM407.3 173.9h1.35v1.35h-1.35zM407.7 180.1h1.35v1.35h-1.35zM407.5 182.4h1.35v1.35h-1.35zM407.3 186.2h1.35v1.35h-1.35zM407.7 188.8h1.35v1.35h-1.35zM408.7 173.7h1.35v1.35h-1.35zM408.8 176.1h1.35v1.35h-1.35zM408.9 182.4h1.35v1.35h-1.35zM410.2 175.0h1.35v1.35h-1.35zM409.9 186.3h1.35v1.35h-1.35zM410.0 187.3h1.35v1.35h-1.35zM410.1 188.9h1.35v1.35h-1.35zM411.3 149.8h1.35v1.35h-1.35zM411.1 152.6h1.35v1.35h-1.35zM411.1 161.2h1.35v1.35h-1.35zM411.4 171.2h1.35v1.35h-1.35zM411.2 177.5h1.35v1.35h-1.35zM411.3 182.4h1.35v1.35h-1.35zM411.4 187.3h1.35v1.35h-1.35zM411.1 188.8h1.35v1.35h-1.35zM411.2 190.1h1.35v1.35h-1.35zM411.1 192.6h1.35v1.35h-1.35zM412.5 156.2h1.35v1.35h-1.35zM412.5 180.1h1.35v1.35h-1.35zM412.6 186.1h1.35v1.35h-1.35zM413.9 155.1h1.35v1.35h-1.35zM413.9 157.4h1.35v1.35h-1.35zM413.8 164.8h1.35v1.35h-1.35zM413.8 172.5h1.35v1.35h-1.35zM413.7 175.0h1.35v1.35h-1.35zM413.8 186.4h1.35v1.35h-1.35zM413.6 190.2h1.35v1.35h-1.35zM414.9 150.0h1.35v1.35h-1.35zM415.0 152.6h1.35v1.35h-1.35zM415.0 163.7h1.35v1.35h-1.35zM414.8 165.0h1.35v1.35h-1.35zM415.2 177.7h1.35v1.35h-1.35zM414.9 183.8h1.35v1.35h-1.35zM416.4 162.7h1.35v1.35h-1.35zM416.1 167.6h1.35v1.35h-1.35zM416.4 168.6h1.35v1.35h-1.35zM416.2 172.5h1.35v1.35h-1.35zM416.1 173.9h1.35v1.35h-1.35zM416.3 175.0h1.35v1.35h-1.35zM416.3 181.2h1.35v1.35h-1.35zM416.2 187.3h1.35v1.35h-1.35zM416.3 196.1h1.35v1.35h-1.35zM417.4 153.9h1.35v1.35h-1.35zM417.5 167.4h1.35v1.35h-1.35zM417.5 171.2h1.35v1.35h-1.35zM417.6 172.3h1.35v1.35h-1.35zM417.4 176.3h1.35v1.35h-1.35zM417.4 177.4h1.35v1.35h-1.35zM417.5 178.9h1.35v1.35h-1.35zM417.7 194.8h1.35v1.35h-1.35zM417.6 196.1h1.35v1.35h-1.35zM417.7 197.4h1.35v1.35h-1.35zM418.7 152.5h1.35v1.35h-1.35zM418.8 154.8h1.35v1.35h-1.35zM418.6 165.1h1.35v1.35h-1.35zM418.7 168.7h1.35v1.35h-1.35zM418.8 170.1h1.35v1.35h-1.35zM418.6 171.1h1.35v1.35h-1.35zM418.9 172.4h1.35v1.35h-1.35zM418.9 173.9h1.35v1.35h-1.35zM418.7 175.2h1.35v1.35h-1.35zM418.9 176.2h1.35v1.35h-1.35zM418.6 181.2h1.35v1.35h-1.35zM418.8 182.4h1.35v1.35h-1.35zM418.7 185.1h1.35v1.35h-1.35zM418.6 188.7h1.35v1.35h-1.35zM418.7 196.1h1.35v1.35h-1.35zM419.9 148.6h1.35v1.35h-1.35zM420.1 153.7h1.35v1.35h-1.35zM420.1 163.6h1.35v1.35h-1.35zM420.1 166.2h1.35v1.35h-1.35zM419.9 169.8h1.35v1.35h-1.35zM420.1 171.1h1.35v1.35h-1.35zM420.0 172.5h1.35v1.35h-1.35zM419.8 173.8h1.35v1.35h-1.35zM419.8 174.9h1.35v1.35h-1.35zM420.1 176.2h1.35v1.35h-1.35zM421.3 143.8h1.35v1.35h-1.35zM421.1 147.5h1.35v1.35h-1.35zM421.4 160.1h1.35v1.35h-1.35zM421.4 165.1h1.35v1.35h-1.35zM421.3 167.4h1.35v1.35h-1.35zM421.1 169.8h1.35v1.35h-1.35zM421.4 171.2h1.35v1.35h-1.35zM421.3 172.6h1.35v1.35h-1.35zM421.3 173.9h1.35v1.35h-1.35zM421.2 174.9h1.35v1.35h-1.35zM421.1 183.7h1.35v1.35h-1.35zM421.3 186.4h1.35v1.35h-1.35zM422.5 148.8h1.35v1.35h-1.35zM422.5 166.4h1.35v1.35h-1.35zM422.5 168.6h1.35v1.35h-1.35zM422.7 169.9h1.35v1.35h-1.35zM422.4 171.1h1.35v1.35h-1.35zM422.3 172.5h1.35v1.35h-1.35zM422.6 173.8h1.35v1.35h-1.35zM422.3 174.9h1.35v1.35h-1.35zM422.4 176.2h1.35v1.35h-1.35zM422.7 181.2h1.35v1.35h-1.35zM422.6 196.3h1.35v1.35h-1.35zM422.6 197.5h1.35v1.35h-1.35zM423.8 146.4h1.35v1.35h-1.35zM423.9 167.4h1.35v1.35h-1.35zM423.8 168.8h1.35v1.35h-1.35zM423.7 169.8h1.35v1.35h-1.35zM423.8 171.3h1.35v1.35h-1.35zM423.9 172.6h1.35v1.35h-1.35zM423.7 173.9h1.35v1.35h-1.35zM423.9 176.1h1.35v1.35h-1.35zM423.6 195.2h1.35v1.35h-1.35zM423.6 197.5h1.35v1.35h-1.35zM424.9 146.2h1.35v1.35h-1.35zM425.2 153.6h1.35v1.35h-1.35zM425.0 166.4h1.35v1.35h-1.35zM425.0 167.4h1.35v1.35h-1.35zM425.1 168.9h1.35v1.35h-1.35zM424.9 170.1h1.35v1.35h-1.35zM425.2 171.1h1.35v1.35h-1.35zM425.0 172.7h1.35v1.35h-1.35zM424.8 173.9h1.35v1.35h-1.35zM425.1 174.9h1.35v1.35h-1.35zM424.9 176.3h1.35v1.35h-1.35zM425.1 178.9h1.35v1.35h-1.35zM424.9 180.1h1.35v1.35h-1.35zM425.0 187.5h1.35v1.35h-1.35zM425.2 188.6h1.35v1.35h-1.35zM425.0 190.0h1.35v1.35h-1.35zM425.1 191.1h1.35v1.35h-1.35zM425.1 193.8h1.35v1.35h-1.35zM426.1 151.3h1.35v1.35h-1.35zM426.1 163.6h1.35v1.35h-1.35zM426.1 164.9h1.35v1.35h-1.35zM426.3 167.6h1.35v1.35h-1.35zM426.4 168.8h1.35v1.35h-1.35zM426.3 170.1h1.35v1.35h-1.35zM426.1 172.4h1.35v1.35h-1.35zM426.3 173.6h1.35v1.35h-1.35zM426.3 176.1h1.35v1.35h-1.35zM426.2 181.3h1.35v1.35h-1.35zM426.4 182.3h1.35v1.35h-1.35zM426.3 183.8h1.35v1.35h-1.35zM426.2 187.5h1.35v1.35h-1.35zM426.3 192.7h1.35v1.35h-1.35zM426.1 200.2h1.35v1.35h-1.35zM427.4 168.7h1.35v1.35h-1.35zM427.6 170.1h1.35v1.35h-1.35zM427.5 172.4h1.35v1.35h-1.35zM427.4 176.1h1.35v1.35h-1.35zM427.7 188.7h1.35v1.35h-1.35zM427.7 196.1h1.35v1.35h-1.35zM428.8 144.8h1.35v1.35h-1.35zM428.6 169.9h1.35v1.35h-1.35zM428.7 172.7h1.35v1.35h-1.35zM428.7 173.6h1.35v1.35h-1.35zM428.6 175.0h1.35v1.35h-1.35zM428.6 176.3h1.35v1.35h-1.35zM428.9 177.5h1.35v1.35h-1.35zM428.6 193.7h1.35v1.35h-1.35zM428.7 196.4h1.35v1.35h-1.35zM428.7 199.9h1.35v1.35h-1.35zM430.1 146.3h1.35v1.35h-1.35zM430.1 158.9h1.35v1.35h-1.35zM429.9 165.1h1.35v1.35h-1.35zM429.8 170.0h1.35v1.35h-1.35zM429.8 171.1h1.35v1.35h-1.35zM430.0 172.6h1.35v1.35h-1.35zM429.9 173.9h1.35v1.35h-1.35zM430.0 175.1h1.35v1.35h-1.35zM429.8 176.2h1.35v1.35h-1.35zM429.9 183.9h1.35v1.35h-1.35zM430.1 191.2h1.35v1.35h-1.35zM430.0 196.3h1.35v1.35h-1.35zM431.4 165.2h1.35v1.35h-1.35zM431.1 166.2h1.35v1.35h-1.35zM431.1 175.0h1.35v1.35h-1.35zM431.4 178.7h1.35v1.35h-1.35zM431.1 191.1h1.35v1.35h-1.35zM431.1 196.4h1.35v1.35h-1.35zM431.2 197.7h1.35v1.35h-1.35zM432.7 165.1h1.35v1.35h-1.35zM432.6 173.8h1.35v1.35h-1.35zM432.4 174.8h1.35v1.35h-1.35zM432.4 176.1h1.35v1.35h-1.35zM432.4 196.4h1.35v1.35h-1.35zM433.8 163.7h1.35v1.35h-1.35zM433.7 166.2h1.35v1.35h-1.35zM433.6 176.3h1.35v1.35h-1.35zM433.7 177.5h1.35v1.35h-1.35zM433.6 178.6h1.35v1.35h-1.35zM433.7 195.2h1.35v1.35h-1.35zM433.7 196.3h1.35v1.35h-1.35zM435.0 171.2h1.35v1.35h-1.35zM435.1 177.6h1.35v1.35h-1.35zM434.8 178.9h1.35v1.35h-1.35zM435.0 182.5h1.35v1.35h-1.35zM435.1 191.4h1.35v1.35h-1.35zM435.1 194.9h1.35v1.35h-1.35zM436.3 166.1h1.35v1.35h-1.35zM436.3 167.6h1.35v1.35h-1.35zM436.3 170.0h1.35v1.35h-1.35zM436.1 182.5h1.35v1.35h-1.35zM436.1 186.1h1.35v1.35h-1.35zM436.4 196.2h1.35v1.35h-1.35zM437.4 158.9h1.35v1.35h-1.35zM437.6 168.9h1.35v1.35h-1.35zM437.5 172.5h1.35v1.35h-1.35zM437.4 173.8h1.35v1.35h-1.35zM437.5 176.2h1.35v1.35h-1.35zM437.5 177.7h1.35v1.35h-1.35zM437.4 179.9h1.35v1.35h-1.35zM437.3 187.3h1.35v1.35h-1.35zM437.6 194.9h1.35v1.35h-1.35zM438.7 150.2h1.35v1.35h-1.35zM438.6 151.2h1.35v1.35h-1.35zM438.8 155.0h1.35v1.35h-1.35zM438.8 156.4h1.35v1.35h-1.35zM438.6 171.1h1.35v1.35h-1.35zM438.6 173.7h1.35v1.35h-1.35zM438.7 177.4h1.35v1.35h-1.35zM438.9 178.7h1.35v1.35h-1.35zM438.8 187.6h1.35v1.35h-1.35zM438.6 191.3h1.35v1.35h-1.35zM439.9 168.8h1.35v1.35h-1.35zM440.1 172.5h1.35v1.35h-1.35zM439.9 178.6h1.35v1.35h-1.35zM440.1 180.1h1.35v1.35h-1.35zM439.8 181.2h1.35v1.35h-1.35zM440.2 189.9h1.35v1.35h-1.35zM441.3 151.3h1.35v1.35h-1.35zM441.3 153.6h1.35v1.35h-1.35zM441.4 182.3h1.35v1.35h-1.35zM441.4 185.0h1.35v1.35h-1.35zM441.3 188.7h1.35v1.35h-1.35zM441.3 189.9h1.35v1.35h-1.35zM442.5 152.3h1.35v1.35h-1.35zM442.7 153.6h1.35v1.35h-1.35zM442.5 158.7h1.35v1.35h-1.35zM442.4 161.3h1.35v1.35h-1.35zM442.3 162.5h1.35v1.35h-1.35zM442.6 164.9h1.35v1.35h-1.35zM442.6 187.3h1.35v1.35h-1.35zM442.6 190.0h1.35v1.35h-1.35zM442.5 193.8h1.35v1.35h-1.35zM443.9 153.8h1.35v1.35h-1.35zM443.7 158.9h1.35v1.35h-1.35zM443.9 162.6h1.35v1.35h-1.35zM443.9 163.8h1.35v1.35h-1.35zM443.6 167.7h1.35v1.35h-1.35zM445.0 154.8h1.35v1.35h-1.35zM444.8 181.1h1.35v1.35h-1.35zM444.8 182.4h1.35v1.35h-1.35zM444.9 184.9h1.35v1.35h-1.35zM445.0 188.6h1.35v1.35h-1.35zM446.1 160.0h1.35v1.35h-1.35zM447.5 156.3h1.35v1.35h-1.35zM447.4 161.4h1.35v1.35h-1.35zM447.4 172.5h1.35v1.35h-1.35zM447.5 175.1h1.35v1.35h-1.35zM447.5 183.9h1.35v1.35h-1.35zM448.8 177.5h1.35v1.35h-1.35zM448.9 188.9h1.35v1.35h-1.35zM450.1 157.4h1.35v1.35h-1.35zM449.8 160.2h1.35v1.35h-1.35zM450.2 177.5h1.35v1.35h-1.35zM450.2 181.4h1.35v1.35h-1.35zM449.9 186.3h1.35v1.35h-1.35zM450.0 187.3h1.35v1.35h-1.35zM451.1 157.6h1.35v1.35h-1.35zM451.3 161.2h1.35v1.35h-1.35zM451.1 174.8h1.35v1.35h-1.35zM452.4 158.8h1.35v1.35h-1.35zM452.5 166.1h1.35v1.35h-1.35zM452.5 185.1h1.35v1.35h-1.35zM452.5 186.2h1.35v1.35h-1.35zM453.8 163.8h1.35v1.35h-1.35zM453.8 174.9h1.35v1.35h-1.35zM453.9 176.2h1.35v1.35h-1.35zM455.1 168.8h1.35v1.35h-1.35zM455.0 173.6h1.35v1.35h-1.35zM455.1 175.1h1.35v1.35h-1.35zM454.9 176.3h1.35v1.35h-1.35zM454.9 182.6h1.35v1.35h-1.35zM456.4 166.3h1.35v1.35h-1.35zM457.6 168.9h1.35v1.35h-1.35zM457.5 172.5h1.35v1.35h-1.35zM457.6 178.7h1.35v1.35h-1.35z" fill="#45a8c8"/>
<path d="M423.8 147.6h1.35v1.35h-1.35zM425.2 147.6h1.35v1.35h-1.35zM430.2 147.6h1.35v1.35h-1.35zM431.1 150.2h1.35v1.35h-1.35zM431.2 151.4h1.35v1.35h-1.35zM434.9 147.5h1.35v1.35h-1.35zM437.5 148.8h1.35v1.35h-1.35zM441.2 150.1h1.35v1.35h-1.35zM422.3 149.9h1.35v1.35h-1.35zM425.0 158.7h1.35v1.35h-1.35zM426.3 171.2h1.35v1.35h-1.35zM427.4 151.4h1.35v1.35h-1.35zM427.6 162.4h1.35v1.35h-1.35zM427.7 165.2h1.35v1.35h-1.35zM427.4 166.2h1.35v1.35h-1.35zM427.4 167.7h1.35v1.35h-1.35zM427.5 173.6h1.35v1.35h-1.35zM428.9 151.4h1.35v1.35h-1.35zM428.8 161.4h1.35v1.35h-1.35zM428.9 162.4h1.35v1.35h-1.35zM428.8 163.9h1.35v1.35h-1.35zM428.8 164.9h1.35v1.35h-1.35zM428.9 166.2h1.35v1.35h-1.35zM428.7 168.6h1.35v1.35h-1.35zM428.6 171.2h1.35v1.35h-1.35zM429.8 149.8h1.35v1.35h-1.35zM429.9 153.9h1.35v1.35h-1.35zM430.2 160.0h1.35v1.35h-1.35zM429.9 163.8h1.35v1.35h-1.35zM430.1 166.3h1.35v1.35h-1.35zM430.1 168.7h1.35v1.35h-1.35zM431.4 153.8h1.35v1.35h-1.35zM431.2 154.9h1.35v1.35h-1.35zM431.4 158.6h1.35v1.35h-1.35zM431.4 160.1h1.35v1.35h-1.35zM431.1 161.4h1.35v1.35h-1.35zM431.1 162.4h1.35v1.35h-1.35zM431.3 167.6h1.35v1.35h-1.35zM431.2 168.9h1.35v1.35h-1.35zM431.4 169.9h1.35v1.35h-1.35zM431.4 173.9h1.35v1.35h-1.35zM432.5 151.3h1.35v1.35h-1.35zM432.5 152.3h1.35v1.35h-1.35zM432.5 156.4h1.35v1.35h-1.35zM432.3 157.4h1.35v1.35h-1.35zM432.5 158.6h1.35v1.35h-1.35zM432.6 159.9h1.35v1.35h-1.35zM432.4 163.9h1.35v1.35h-1.35zM432.6 166.1h1.35v1.35h-1.35zM432.6 168.6h1.35v1.35h-1.35zM432.3 171.3h1.35v1.35h-1.35zM432.6 172.4h1.35v1.35h-1.35zM433.9 150.1h1.35v1.35h-1.35zM433.9 152.4h1.35v1.35h-1.35zM433.7 155.1h1.35v1.35h-1.35zM433.8 156.3h1.35v1.35h-1.35zM433.9 157.6h1.35v1.35h-1.35zM433.6 158.6h1.35v1.35h-1.35zM433.8 160.1h1.35v1.35h-1.35zM433.6 161.2h1.35v1.35h-1.35zM433.9 167.6h1.35v1.35h-1.35zM433.8 168.9h1.35v1.35h-1.35zM433.7 172.5h1.35v1.35h-1.35zM433.6 173.9h1.35v1.35h-1.35zM433.8 175.1h1.35v1.35h-1.35zM434.9 150.1h1.35v1.35h-1.35zM435.2 151.4h1.35v1.35h-1.35zM435.1 152.5h1.35v1.35h-1.35zM435.2 154.9h1.35v1.35h-1.35zM434.9 156.2h1.35v1.35h-1.35zM435.0 157.3h1.35v1.35h-1.35zM435.0 158.8h1.35v1.35h-1.35zM435.2 159.9h1.35v1.35h-1.35zM434.8 161.2h1.35v1.35h-1.35zM434.9 162.4h1.35v1.35h-1.35zM434.8 163.7h1.35v1.35h-1.35zM434.9 166.2h1.35v1.35h-1.35zM435.1 167.6h1.35v1.35h-1.35zM435.0 168.6h1.35v1.35h-1.35zM435.0 170.1h1.35v1.35h-1.35zM435.1 172.3h1.35v1.35h-1.35zM435.0 175.2h1.35v1.35h-1.35zM436.4 147.4h1.35v1.35h-1.35zM436.4 150.2h1.35v1.35h-1.35zM436.4 151.4h1.35v1.35h-1.35zM436.4 154.9h1.35v1.35h-1.35zM436.2 156.2h1.35v1.35h-1.35zM436.2 157.4h1.35v1.35h-1.35zM436.2 158.9h1.35v1.35h-1.35zM436.4 160.1h1.35v1.35h-1.35zM436.2 161.1h1.35v1.35h-1.35zM436.4 162.4h1.35v1.35h-1.35zM436.4 165.1h1.35v1.35h-1.35zM436.4 168.7h1.35v1.35h-1.35zM436.1 174.9h1.35v1.35h-1.35zM437.4 151.3h1.35v1.35h-1.35zM437.5 155.2h1.35v1.35h-1.35zM437.4 157.6h1.35v1.35h-1.35zM437.5 160.0h1.35v1.35h-1.35zM437.7 161.2h1.35v1.35h-1.35zM437.5 162.5h1.35v1.35h-1.35zM437.6 163.7h1.35v1.35h-1.35zM437.5 164.8h1.35v1.35h-1.35zM437.5 166.2h1.35v1.35h-1.35zM437.6 167.6h1.35v1.35h-1.35zM437.6 170.1h1.35v1.35h-1.35zM437.6 171.3h1.35v1.35h-1.35zM437.4 174.8h1.35v1.35h-1.35zM438.6 157.6h1.35v1.35h-1.35zM438.9 158.6h1.35v1.35h-1.35zM438.8 159.9h1.35v1.35h-1.35zM438.9 163.8h1.35v1.35h-1.35zM438.6 164.9h1.35v1.35h-1.35zM438.8 166.4h1.35v1.35h-1.35zM438.7 167.6h1.35v1.35h-1.35zM438.9 168.9h1.35v1.35h-1.35zM438.6 169.9h1.35v1.35h-1.35zM438.9 172.5h1.35v1.35h-1.35zM438.9 180.1h1.35v1.35h-1.35zM440.1 157.5h1.35v1.35h-1.35zM439.9 162.6h1.35v1.35h-1.35zM440.1 163.6h1.35v1.35h-1.35zM440.1 165.2h1.35v1.35h-1.35zM440.0 166.1h1.35v1.35h-1.35zM440.1 169.8h1.35v1.35h-1.35zM440.1 171.2h1.35v1.35h-1.35zM439.8 173.6h1.35v1.35h-1.35zM440.0 176.2h1.35v1.35h-1.35zM440.2 177.4h1.35v1.35h-1.35zM441.1 154.9h1.35v1.35h-1.35zM441.4 157.6h1.35v1.35h-1.35zM441.4 158.8h1.35v1.35h-1.35zM441.2 162.3h1.35v1.35h-1.35zM441.2 163.9h1.35v1.35h-1.35zM441.3 164.8h1.35v1.35h-1.35zM441.1 166.3h1.35v1.35h-1.35zM441.1 167.3h1.35v1.35h-1.35zM441.1 168.6h1.35v1.35h-1.35zM441.2 169.9h1.35v1.35h-1.35zM441.4 171.1h1.35v1.35h-1.35zM441.4 173.8h1.35v1.35h-1.35zM441.1 174.8h1.35v1.35h-1.35zM441.4 176.1h1.35v1.35h-1.35zM441.1 177.5h1.35v1.35h-1.35zM441.3 178.7h1.35v1.35h-1.35zM441.1 181.2h1.35v1.35h-1.35zM442.5 157.6h1.35v1.35h-1.35zM442.3 166.2h1.35v1.35h-1.35zM442.6 167.6h1.35v1.35h-1.35zM442.4 168.6h1.35v1.35h-1.35zM442.5 171.4h1.35v1.35h-1.35zM442.4 172.4h1.35v1.35h-1.35zM442.7 173.9h1.35v1.35h-1.35zM442.5 175.1h1.35v1.35h-1.35zM442.6 176.2h1.35v1.35h-1.35zM442.7 177.6h1.35v1.35h-1.35zM442.5 178.6h1.35v1.35h-1.35zM442.6 180.0h1.35v1.35h-1.35zM443.6 156.3h1.35v1.35h-1.35zM443.8 157.4h1.35v1.35h-1.35zM443.7 161.4h1.35v1.35h-1.35zM443.6 165.0h1.35v1.35h-1.35zM443.9 166.1h1.35v1.35h-1.35zM443.8 168.7h1.35v1.35h-1.35zM443.7 170.0h1.35v1.35h-1.35zM443.7 172.4h1.35v1.35h-1.35zM443.7 173.7h1.35v1.35h-1.35zM443.7 175.1h1.35v1.35h-1.35zM443.6 176.4h1.35v1.35h-1.35zM443.9 177.7h1.35v1.35h-1.35zM443.6 178.9h1.35v1.35h-1.35zM443.7 179.9h1.35v1.35h-1.35zM443.7 181.4h1.35v1.35h-1.35zM443.6 182.4h1.35v1.35h-1.35zM443.8 183.8h1.35v1.35h-1.35zM443.9 185.0h1.35v1.35h-1.35zM445.0 157.7h1.35v1.35h-1.35zM445.1 160.0h1.35v1.35h-1.35zM444.9 161.3h1.35v1.35h-1.35zM445.0 162.7h1.35v1.35h-1.35zM445.0 163.7h1.35v1.35h-1.35zM444.9 165.1h1.35v1.35h-1.35zM445.1 170.1h1.35v1.35h-1.35zM445.1 171.3h1.35v1.35h-1.35zM445.1 172.5h1.35v1.35h-1.35zM444.9 173.9h1.35v1.35h-1.35zM445.1 175.2h1.35v1.35h-1.35zM445.1 177.5h1.35v1.35h-1.35zM445.1 178.9h1.35v1.35h-1.35zM445.1 180.1h1.35v1.35h-1.35zM445.0 183.9h1.35v1.35h-1.35zM446.3 158.8h1.35v1.35h-1.35zM446.3 164.8h1.35v1.35h-1.35zM446.3 166.4h1.35v1.35h-1.35zM446.2 167.4h1.35v1.35h-1.35zM446.3 170.0h1.35v1.35h-1.35zM446.1 171.1h1.35v1.35h-1.35zM446.2 173.6h1.35v1.35h-1.35zM446.2 174.8h1.35v1.35h-1.35zM446.3 176.4h1.35v1.35h-1.35zM446.3 180.1h1.35v1.35h-1.35zM446.2 181.2h1.35v1.35h-1.35zM446.1 182.6h1.35v1.35h-1.35zM446.2 183.6h1.35v1.35h-1.35zM446.4 186.1h1.35v1.35h-1.35zM447.4 158.8h1.35v1.35h-1.35zM447.6 159.8h1.35v1.35h-1.35zM447.7 162.6h1.35v1.35h-1.35zM447.7 163.9h1.35v1.35h-1.35zM447.6 164.9h1.35v1.35h-1.35zM447.5 166.1h1.35v1.35h-1.35zM447.4 168.9h1.35v1.35h-1.35zM447.6 170.0h1.35v1.35h-1.35zM447.4 171.2h1.35v1.35h-1.35zM447.5 173.9h1.35v1.35h-1.35zM447.4 176.1h1.35v1.35h-1.35zM447.7 177.3h1.35v1.35h-1.35zM447.6 178.6h1.35v1.35h-1.35zM447.6 180.0h1.35v1.35h-1.35zM447.4 181.2h1.35v1.35h-1.35zM447.3 182.5h1.35v1.35h-1.35zM447.7 186.4h1.35v1.35h-1.35zM448.9 160.0h1.35v1.35h-1.35zM448.6 161.1h1.35v1.35h-1.35zM448.9 162.4h1.35v1.35h-1.35zM448.8 163.7h1.35v1.35h-1.35zM448.6 164.9h1.35v1.35h-1.35zM448.9 166.3h1.35v1.35h-1.35zM448.6 169.9h1.35v1.35h-1.35zM448.9 171.2h1.35v1.35h-1.35zM448.8 172.5h1.35v1.35h-1.35zM448.7 173.7h1.35v1.35h-1.35zM448.9 175.2h1.35v1.35h-1.35zM448.9 180.0h1.35v1.35h-1.35zM448.9 181.2h1.35v1.35h-1.35zM448.8 183.8h1.35v1.35h-1.35zM448.6 184.9h1.35v1.35h-1.35zM448.6 186.1h1.35v1.35h-1.35zM448.7 187.4h1.35v1.35h-1.35zM449.8 161.3h1.35v1.35h-1.35zM450.0 162.5h1.35v1.35h-1.35zM449.8 163.9h1.35v1.35h-1.35zM449.9 164.9h1.35v1.35h-1.35zM449.8 168.6h1.35v1.35h-1.35zM449.9 171.1h1.35v1.35h-1.35zM449.8 172.5h1.35v1.35h-1.35zM450.1 173.6h1.35v1.35h-1.35zM449.8 174.9h1.35v1.35h-1.35zM450.1 176.4h1.35v1.35h-1.35zM450.0 178.9h1.35v1.35h-1.35zM450.2 179.8h1.35v1.35h-1.35zM450.0 182.6h1.35v1.35h-1.35zM450.0 183.9h1.35v1.35h-1.35zM449.9 185.1h1.35v1.35h-1.35zM451.1 162.6h1.35v1.35h-1.35zM451.4 163.9h1.35v1.35h-1.35zM451.1 164.9h1.35v1.35h-1.35zM451.3 166.2h1.35v1.35h-1.35zM451.4 167.5h1.35v1.35h-1.35zM451.2 168.7h1.35v1.35h-1.35zM451.1 170.2h1.35v1.35h-1.35zM451.3 171.1h1.35v1.35h-1.35zM451.4 176.4h1.35v1.35h-1.35zM451.1 177.4h1.35v1.35h-1.35zM451.4 178.7h1.35v1.35h-1.35zM451.3 181.1h1.35v1.35h-1.35zM451.3 182.3h1.35v1.35h-1.35zM451.1 183.8h1.35v1.35h-1.35zM452.6 164.9h1.35v1.35h-1.35zM452.3 168.6h1.35v1.35h-1.35zM452.5 169.8h1.35v1.35h-1.35zM452.4 171.1h1.35v1.35h-1.35zM452.6 173.6h1.35v1.35h-1.35zM452.6 175.1h1.35v1.35h-1.35zM452.4 176.1h1.35v1.35h-1.35zM452.4 177.7h1.35v1.35h-1.35zM452.6 178.7h1.35v1.35h-1.35zM452.4 180.1h1.35v1.35h-1.35zM452.4 181.4h1.35v1.35h-1.35zM452.4 183.6h1.35v1.35h-1.35zM453.6 168.6h1.35v1.35h-1.35zM453.9 178.8h1.35v1.35h-1.35zM453.8 180.1h1.35v1.35h-1.35zM455.1 171.2h1.35v1.35h-1.35zM456.1 170.2h1.35v1.35h-1.35zM417.4 158.8h1.35v1.35h-1.35zM417.4 159.9h1.35v1.35h-1.35zM421.4 156.4h1.35v1.35h-1.35zM423.9 164.8h1.35v1.35h-1.35zM426.2 152.3h1.35v1.35h-1.35zM426.1 166.2h1.35v1.35h-1.35zM427.4 163.8h1.35v1.35h-1.35zM428.6 167.4h1.35v1.35h-1.35zM430.0 161.3h1.35v1.35h-1.35zM430.0 162.3h1.35v1.35h-1.35zM429.9 167.5h1.35v1.35h-1.35zM431.1 157.4h1.35v1.35h-1.35zM431.3 163.9h1.35v1.35h-1.35zM431.3 171.3h1.35v1.35h-1.35zM431.4 172.7h1.35v1.35h-1.35zM432.3 155.0h1.35v1.35h-1.35zM432.4 161.2h1.35v1.35h-1.35zM432.7 162.3h1.35v1.35h-1.35zM432.4 167.7h1.35v1.35h-1.35zM432.6 170.1h1.35v1.35h-1.35zM433.9 151.1h1.35v1.35h-1.35zM433.9 153.6h1.35v1.35h-1.35zM433.7 162.5h1.35v1.35h-1.35zM433.6 170.1h1.35v1.35h-1.35zM433.9 171.3h1.35v1.35h-1.35zM435.1 153.6h1.35v1.35h-1.35zM434.9 173.6h1.35v1.35h-1.35zM435.1 176.3h1.35v1.35h-1.35zM436.4 152.3h1.35v1.35h-1.35zM436.1 153.6h1.35v1.35h-1.35zM436.3 163.9h1.35v1.35h-1.35zM436.1 171.2h1.35v1.35h-1.35zM436.4 172.6h1.35v1.35h-1.35zM436.4 173.8h1.35v1.35h-1.35zM437.3 152.6h1.35v1.35h-1.35zM437.6 153.8h1.35v1.35h-1.35zM437.6 156.3h1.35v1.35h-1.35zM438.6 152.6h1.35v1.35h-1.35zM438.7 161.3h1.35v1.35h-1.35zM438.6 162.6h1.35v1.35h-1.35zM438.6 176.2h1.35v1.35h-1.35zM440.1 152.5h1.35v1.35h-1.35zM439.9 153.7h1.35v1.35h-1.35zM440.1 158.6h1.35v1.35h-1.35zM439.8 159.8h1.35v1.35h-1.35zM440.1 161.1h1.35v1.35h-1.35zM440.1 174.8h1.35v1.35h-1.35zM440.2 183.7h1.35v1.35h-1.35zM441.4 160.1h1.35v1.35h-1.35zM441.2 179.9h1.35v1.35h-1.35zM442.3 156.2h1.35v1.35h-1.35zM442.4 160.1h1.35v1.35h-1.35zM442.5 163.8h1.35v1.35h-1.35zM442.5 170.1h1.35v1.35h-1.35zM443.6 171.1h1.35v1.35h-1.35zM444.9 158.8h1.35v1.35h-1.35zM444.9 166.4h1.35v1.35h-1.35zM444.9 167.4h1.35v1.35h-1.35zM445.0 168.8h1.35v1.35h-1.35zM445.0 176.1h1.35v1.35h-1.35zM444.9 190.2h1.35v1.35h-1.35zM446.3 161.3h1.35v1.35h-1.35zM446.1 162.4h1.35v1.35h-1.35zM446.2 168.9h1.35v1.35h-1.35zM446.4 172.4h1.35v1.35h-1.35zM446.2 177.3h1.35v1.35h-1.35zM446.3 178.7h1.35v1.35h-1.35zM446.1 185.0h1.35v1.35h-1.35zM446.4 187.6h1.35v1.35h-1.35zM446.3 188.8h1.35v1.35h-1.35zM446.3 189.8h1.35v1.35h-1.35zM448.9 167.7h1.35v1.35h-1.35zM448.8 168.8h1.35v1.35h-1.35zM448.9 176.1h1.35v1.35h-1.35zM448.9 178.7h1.35v1.35h-1.35zM448.7 182.6h1.35v1.35h-1.35zM449.9 167.6h1.35v1.35h-1.35zM449.8 169.9h1.35v1.35h-1.35zM449.9 188.8h1.35v1.35h-1.35zM451.4 159.9h1.35v1.35h-1.35zM451.1 172.5h1.35v1.35h-1.35zM451.3 173.6h1.35v1.35h-1.35zM451.3 179.9h1.35v1.35h-1.35zM451.2 184.9h1.35v1.35h-1.35zM452.5 162.7h1.35v1.35h-1.35zM452.7 163.9h1.35v1.35h-1.35zM452.5 167.4h1.35v1.35h-1.35zM452.7 172.7h1.35v1.35h-1.35zM452.6 182.4h1.35v1.35h-1.35zM453.6 166.2h1.35v1.35h-1.35zM453.7 167.6h1.35v1.35h-1.35zM453.6 170.0h1.35v1.35h-1.35zM453.8 171.3h1.35v1.35h-1.35zM453.9 172.5h1.35v1.35h-1.35zM453.9 173.6h1.35v1.35h-1.35zM453.8 177.7h1.35v1.35h-1.35zM453.9 181.1h1.35v1.35h-1.35zM453.8 182.5h1.35v1.35h-1.35zM453.8 187.6h1.35v1.35h-1.35zM455.0 161.2h1.35v1.35h-1.35zM455.1 166.1h1.35v1.35h-1.35zM455.0 167.7h1.35v1.35h-1.35zM455.1 170.2h1.35v1.35h-1.35zM456.3 168.6h1.35v1.35h-1.35zM456.4 173.6h1.35v1.35h-1.35zM456.4 177.5h1.35v1.35h-1.35zM456.4 178.6h1.35v1.35h-1.35zM457.4 171.1h1.35v1.35h-1.35zM457.6 181.2h1.35v1.35h-1.35z" fill="#54b890"/>
<path d="M427.5 146.1h1.35v1.35h-1.35zM427.7 147.6h1.35v1.35h-1.35zM428.9 147.6h1.35v1.35h-1.35zM430.1 148.9h1.35v1.35h-1.35zM431.2 147.5h1.35v1.35h-1.35zM432.5 147.4h1.35v1.35h-1.35zM432.6 148.8h1.35v1.35h-1.35zM432.3 150.0h1.35v1.35h-1.35zM433.8 146.2h1.35v1.35h-1.35zM406.4 158.8h1.35v1.35h-1.35zM407.7 154.9h1.35v1.35h-1.35zM408.9 153.6h1.35v1.35h-1.35zM408.7 158.9h1.35v1.35h-1.35zM409.8 155.0h1.35v1.35h-1.35zM409.9 156.2h1.35v1.35h-1.35zM411.4 153.7h1.35v1.35h-1.35zM411.3 154.8h1.35v1.35h-1.35zM411.4 158.7h1.35v1.35h-1.35zM412.4 153.8h1.35v1.35h-1.35zM412.4 154.9h1.35v1.35h-1.35zM412.5 157.7h1.35v1.35h-1.35zM412.4 158.6h1.35v1.35h-1.35zM412.6 159.9h1.35v1.35h-1.35zM412.4 161.1h1.35v1.35h-1.35zM412.3 162.5h1.35v1.35h-1.35zM413.8 152.6h1.35v1.35h-1.35zM413.8 158.6h1.35v1.35h-1.35zM413.8 160.2h1.35v1.35h-1.35zM413.6 162.6h1.35v1.35h-1.35zM414.9 153.7h1.35v1.35h-1.35zM414.9 156.1h1.35v1.35h-1.35zM415.1 157.5h1.35v1.35h-1.35zM415.1 158.7h1.35v1.35h-1.35zM415.2 160.1h1.35v1.35h-1.35zM414.9 162.5h1.35v1.35h-1.35zM416.3 151.1h1.35v1.35h-1.35zM416.3 152.4h1.35v1.35h-1.35zM416.1 153.7h1.35v1.35h-1.35zM416.2 156.1h1.35v1.35h-1.35zM416.2 158.7h1.35v1.35h-1.35zM416.4 160.2h1.35v1.35h-1.35zM416.1 161.4h1.35v1.35h-1.35zM417.6 151.2h1.35v1.35h-1.35zM417.6 154.9h1.35v1.35h-1.35zM417.5 156.2h1.35v1.35h-1.35zM417.5 157.5h1.35v1.35h-1.35zM417.4 161.2h1.35v1.35h-1.35zM417.6 163.9h1.35v1.35h-1.35zM417.6 164.9h1.35v1.35h-1.35zM418.6 148.8h1.35v1.35h-1.35zM418.9 150.0h1.35v1.35h-1.35zM418.8 151.3h1.35v1.35h-1.35zM418.6 153.9h1.35v1.35h-1.35zM418.7 156.1h1.35v1.35h-1.35zM418.8 157.6h1.35v1.35h-1.35zM418.9 158.7h1.35v1.35h-1.35zM418.7 160.1h1.35v1.35h-1.35zM418.6 162.6h1.35v1.35h-1.35zM418.9 163.8h1.35v1.35h-1.35zM420.1 150.2h1.35v1.35h-1.35zM419.8 151.3h1.35v1.35h-1.35zM419.9 152.6h1.35v1.35h-1.35zM420.0 155.0h1.35v1.35h-1.35zM419.8 156.3h1.35v1.35h-1.35zM420.1 157.5h1.35v1.35h-1.35zM419.9 158.9h1.35v1.35h-1.35zM419.8 160.1h1.35v1.35h-1.35zM420.0 161.4h1.35v1.35h-1.35zM419.8 162.4h1.35v1.35h-1.35zM420.1 164.8h1.35v1.35h-1.35zM419.9 167.4h1.35v1.35h-1.35zM421.2 150.0h1.35v1.35h-1.35zM421.1 152.3h1.35v1.35h-1.35zM421.2 153.8h1.35v1.35h-1.35zM421.2 155.1h1.35v1.35h-1.35zM421.3 158.8h1.35v1.35h-1.35zM421.4 161.3h1.35v1.35h-1.35zM421.3 162.6h1.35v1.35h-1.35zM421.3 163.8h1.35v1.35h-1.35zM422.4 151.1h1.35v1.35h-1.35zM422.4 152.5h1.35v1.35h-1.35zM422.7 153.7h1.35v1.35h-1.35zM422.5 155.0h1.35v1.35h-1.35zM422.4 156.4h1.35v1.35h-1.35zM422.5 157.4h1.35v1.35h-1.35zM422.5 161.2h1.35v1.35h-1.35zM422.7 163.9h1.35v1.35h-1.35zM422.3 164.9h1.35v1.35h-1.35zM422.4 167.3h1.35v1.35h-1.35zM423.7 148.9h1.35v1.35h-1.35zM423.7 149.9h1.35v1.35h-1.35zM423.7 151.4h1.35v1.35h-1.35zM423.8 154.8h1.35v1.35h-1.35zM423.7 156.2h1.35v1.35h-1.35zM423.8 157.5h1.35v1.35h-1.35zM423.9 158.8h1.35v1.35h-1.35zM423.7 160.0h1.35v1.35h-1.35zM423.6 161.2h1.35v1.35h-1.35zM423.6 162.5h1.35v1.35h-1.35zM423.6 163.6h1.35v1.35h-1.35zM423.6 166.1h1.35v1.35h-1.35zM425.2 148.9h1.35v1.35h-1.35zM424.8 149.9h1.35v1.35h-1.35zM425.0 151.4h1.35v1.35h-1.35zM425.0 152.5h1.35v1.35h-1.35zM425.2 156.4h1.35v1.35h-1.35zM424.8 157.7h1.35v1.35h-1.35zM424.8 160.0h1.35v1.35h-1.35zM425.0 161.2h1.35v1.35h-1.35zM425.0 165.2h1.35v1.35h-1.35zM426.3 148.8h1.35v1.35h-1.35zM426.3 149.8h1.35v1.35h-1.35zM426.3 153.8h1.35v1.35h-1.35zM426.1 156.4h1.35v1.35h-1.35zM426.2 157.4h1.35v1.35h-1.35zM426.1 158.8h1.35v1.35h-1.35zM426.1 161.1h1.35v1.35h-1.35zM426.4 162.6h1.35v1.35h-1.35zM427.6 148.6h1.35v1.35h-1.35zM427.4 149.8h1.35v1.35h-1.35zM427.4 152.4h1.35v1.35h-1.35zM427.5 154.9h1.35v1.35h-1.35zM427.5 157.5h1.35v1.35h-1.35zM427.6 158.9h1.35v1.35h-1.35zM427.4 161.2h1.35v1.35h-1.35zM428.9 148.7h1.35v1.35h-1.35zM428.6 152.5h1.35v1.35h-1.35zM428.7 153.9h1.35v1.35h-1.35zM428.7 155.2h1.35v1.35h-1.35zM428.6 156.1h1.35v1.35h-1.35zM428.6 157.7h1.35v1.35h-1.35zM428.9 158.9h1.35v1.35h-1.35zM428.9 160.1h1.35v1.35h-1.35zM429.9 156.1h1.35v1.35h-1.35zM431.3 148.9h1.35v1.35h-1.35zM431.3 156.1h1.35v1.35h-1.35zM432.4 146.1h1.35v1.35h-1.35zM432.4 153.9h1.35v1.35h-1.35zM421.2 151.3h1.35v1.35h-1.35zM421.3 157.7h1.35v1.35h-1.35zM422.5 158.8h1.35v1.35h-1.35zM422.5 162.4h1.35v1.35h-1.35zM423.8 152.4h1.35v1.35h-1.35zM423.8 153.8h1.35v1.35h-1.35zM424.8 155.0h1.35v1.35h-1.35zM424.9 162.5h1.35v1.35h-1.35zM425.1 163.6h1.35v1.35h-1.35zM426.1 155.2h1.35v1.35h-1.35zM426.3 159.8h1.35v1.35h-1.35zM427.6 153.7h1.35v1.35h-1.35zM427.4 156.2h1.35v1.35h-1.35zM427.4 159.8h1.35v1.35h-1.35zM428.9 150.0h1.35v1.35h-1.35zM429.9 151.4h1.35v1.35h-1.35zM430.0 157.5h1.35v1.35h-1.35zM403.8 151.2h1.35v1.35h-1.35zM406.2 160.1h1.35v1.35h-1.35zM408.9 151.2h1.35v1.35h-1.35zM408.8 154.9h1.35v1.35h-1.35zM408.8 156.4h1.35v1.35h-1.35zM409.8 153.9h1.35v1.35h-1.35zM410.0 159.9h1.35v1.35h-1.35zM411.1 151.3h1.35v1.35h-1.35zM412.5 151.1h1.35v1.35h-1.35zM413.7 151.2h1.35v1.35h-1.35zM413.9 156.3h1.35v1.35h-1.35zM415.1 155.1h1.35v1.35h-1.35zM415.2 161.1h1.35v1.35h-1.35zM416.4 150.1h1.35v1.35h-1.35zM416.2 155.2h1.35v1.35h-1.35zM416.1 157.6h1.35v1.35h-1.35zM417.5 147.6h1.35v1.35h-1.35zM417.4 150.2h1.35v1.35h-1.35zM417.6 152.4h1.35v1.35h-1.35zM417.4 162.7h1.35v1.35h-1.35zM422.3 146.1h1.35v1.35h-1.35zM422.6 160.1h1.35v1.35h-1.35zM430.2 152.5h1.35v1.35h-1.35zM430.0 155.1h1.35v1.35h-1.35zM431.3 152.7h1.35v1.35h-1.35z" fill="#3cb0b4"/>
<path d="M422.4 118.8h1.35v1.35h-1.35zM422.5 121.1h1.35v1.35h-1.35zM422.5 122.7h1.35v1.35h-1.35zM423.9 123.8h1.35v1.35h-1.35zM394.9 158.9h1.35v1.35h-1.35zM397.5 157.5h1.35v1.35h-1.35zM398.6 156.4h1.35v1.35h-1.35zM398.6 158.6h1.35v1.35h-1.35zM398.8 160.2h1.35v1.35h-1.35zM398.7 161.2h1.35v1.35h-1.35zM398.8 162.6h1.35v1.35h-1.35zM398.8 163.8h1.35v1.35h-1.35zM398.9 166.4h1.35v1.35h-1.35zM400.0 160.1h1.35v1.35h-1.35zM400.0 162.5h1.35v1.35h-1.35zM401.1 156.3h1.35v1.35h-1.35zM401.4 158.9h1.35v1.35h-1.35zM401.2 161.3h1.35v1.35h-1.35zM401.4 162.3h1.35v1.35h-1.35zM401.4 163.7h1.35v1.35h-1.35zM401.2 166.2h1.35v1.35h-1.35zM401.2 167.6h1.35v1.35h-1.35zM401.1 170.2h1.35v1.35h-1.35zM402.4 155.2h1.35v1.35h-1.35zM402.7 157.5h1.35v1.35h-1.35zM402.6 159.9h1.35v1.35h-1.35zM402.3 161.3h1.35v1.35h-1.35zM402.4 162.6h1.35v1.35h-1.35zM402.3 163.7h1.35v1.35h-1.35zM402.7 166.2h1.35v1.35h-1.35zM402.5 167.4h1.35v1.35h-1.35zM403.7 156.2h1.35v1.35h-1.35zM403.9 158.9h1.35v1.35h-1.35zM403.7 159.9h1.35v1.35h-1.35zM403.6 161.3h1.35v1.35h-1.35zM403.8 163.6h1.35v1.35h-1.35zM403.7 166.4h1.35v1.35h-1.35zM403.6 167.4h1.35v1.35h-1.35zM405.0 155.1h1.35v1.35h-1.35zM404.8 156.1h1.35v1.35h-1.35zM405.2 157.4h1.35v1.35h-1.35zM404.9 158.6h1.35v1.35h-1.35zM404.9 160.2h1.35v1.35h-1.35zM404.8 161.2h1.35v1.35h-1.35zM405.1 162.6h1.35v1.35h-1.35zM405.1 163.8h1.35v1.35h-1.35zM405.0 166.3h1.35v1.35h-1.35zM404.8 167.6h1.35v1.35h-1.35zM405.0 168.8h1.35v1.35h-1.35zM405.0 170.1h1.35v1.35h-1.35zM406.2 156.2h1.35v1.35h-1.35zM406.3 157.3h1.35v1.35h-1.35zM406.1 161.3h1.35v1.35h-1.35zM406.2 162.4h1.35v1.35h-1.35zM406.1 163.8h1.35v1.35h-1.35zM406.2 164.9h1.35v1.35h-1.35zM406.1 166.3h1.35v1.35h-1.35zM406.3 167.6h1.35v1.35h-1.35zM406.4 168.8h1.35v1.35h-1.35zM407.5 153.8h1.35v1.35h-1.35zM407.5 158.6h1.35v1.35h-1.35zM407.4 160.1h1.35v1.35h-1.35zM407.5 161.4h1.35v1.35h-1.35zM407.5 162.7h1.35v1.35h-1.35zM407.5 163.7h1.35v1.35h-1.35zM407.7 167.4h1.35v1.35h-1.35zM407.6 168.9h1.35v1.35h-1.35zM407.5 171.3h1.35v1.35h-1.35zM407.7 172.3h1.35v1.35h-1.35zM408.8 157.7h1.35v1.35h-1.35zM408.8 160.0h1.35v1.35h-1.35zM408.6 161.2h1.35v1.35h-1.35zM408.6 162.6h1.35v1.35h-1.35zM408.6 163.6h1.35v1.35h-1.35zM408.6 164.9h1.35v1.35h-1.35zM408.6 166.4h1.35v1.35h-1.35zM408.8 168.7h1.35v1.35h-1.35zM408.6 169.8h1.35v1.35h-1.35zM408.9 171.1h1.35v1.35h-1.35zM408.9 172.3h1.35v1.35h-1.35zM408.8 175.1h1.35v1.35h-1.35zM408.9 178.6h1.35v1.35h-1.35zM410.0 157.7h1.35v1.35h-1.35zM410.1 158.6h1.35v1.35h-1.35zM409.9 161.4h1.35v1.35h-1.35zM409.9 162.7h1.35v1.35h-1.35zM409.9 163.7h1.35v1.35h-1.35zM410.0 165.0h1.35v1.35h-1.35zM410.1 166.3h1.35v1.35h-1.35zM409.9 167.4h1.35v1.35h-1.35zM410.0 168.8h1.35v1.35h-1.35zM410.0 170.1h1.35v1.35h-1.35zM409.9 171.1h1.35v1.35h-1.35zM410.1 172.5h1.35v1.35h-1.35zM410.1 173.7h1.35v1.35h-1.35zM410.2 178.6h1.35v1.35h-1.35zM411.2 157.5h1.35v1.35h-1.35zM411.4 159.9h1.35v1.35h-1.35zM411.3 162.7h1.35v1.35h-1.35zM411.4 163.7h1.35v1.35h-1.35zM411.2 165.0h1.35v1.35h-1.35zM411.2 166.3h1.35v1.35h-1.35zM411.3 167.3h1.35v1.35h-1.35zM411.2 168.6h1.35v1.35h-1.35zM411.1 172.5h1.35v1.35h-1.35zM411.4 173.7h1.35v1.35h-1.35zM411.4 175.1h1.35v1.35h-1.35zM411.1 176.4h1.35v1.35h-1.35zM411.2 178.8h1.35v1.35h-1.35zM412.3 163.6h1.35v1.35h-1.35zM412.5 165.0h1.35v1.35h-1.35zM412.3 167.4h1.35v1.35h-1.35zM412.4 168.9h1.35v1.35h-1.35zM412.3 169.8h1.35v1.35h-1.35zM412.4 171.1h1.35v1.35h-1.35zM412.6 173.7h1.35v1.35h-1.35zM412.7 174.8h1.35v1.35h-1.35zM412.5 176.2h1.35v1.35h-1.35zM412.3 177.4h1.35v1.35h-1.35zM413.6 161.2h1.35v1.35h-1.35zM413.7 163.7h1.35v1.35h-1.35zM413.7 166.1h1.35v1.35h-1.35zM413.6 167.5h1.35v1.35h-1.35zM413.7 168.7h1.35v1.35h-1.35zM413.7 169.9h1.35v1.35h-1.35zM413.9 171.2h1.35v1.35h-1.35zM413.9 173.9h1.35v1.35h-1.35zM415.0 166.2h1.35v1.35h-1.35zM414.8 168.8h1.35v1.35h-1.35zM415.0 170.1h1.35v1.35h-1.35zM414.8 171.4h1.35v1.35h-1.35zM415.1 172.7h1.35v1.35h-1.35zM415.0 173.7h1.35v1.35h-1.35zM415.2 175.0h1.35v1.35h-1.35zM414.9 176.1h1.35v1.35h-1.35zM416.4 163.9h1.35v1.35h-1.35zM416.4 169.8h1.35v1.35h-1.35zM416.1 171.4h1.35v1.35h-1.35zM417.5 169.9h1.35v1.35h-1.35zM417.6 174.8h1.35v1.35h-1.35zM418.9 166.2h1.35v1.35h-1.35zM418.7 167.6h1.35v1.35h-1.35zM407.6 156.2h1.35v1.35h-1.35zM407.4 157.5h1.35v1.35h-1.35zM411.2 156.1h1.35v1.35h-1.35zM412.4 166.1h1.35v1.35h-1.35zM393.6 156.4h1.35v1.35h-1.35zM395.1 155.2h1.35v1.35h-1.35zM397.5 152.5h1.35v1.35h-1.35zM397.4 154.9h1.35v1.35h-1.35zM397.6 158.8h1.35v1.35h-1.35zM397.3 159.9h1.35v1.35h-1.35zM398.7 155.1h1.35v1.35h-1.35zM400.0 155.0h1.35v1.35h-1.35zM399.8 156.1h1.35v1.35h-1.35zM400.1 157.6h1.35v1.35h-1.35zM400.2 165.1h1.35v1.35h-1.35zM399.8 169.9h1.35v1.35h-1.35zM401.2 155.0h1.35v1.35h-1.35zM401.1 159.9h1.35v1.35h-1.35zM401.1 165.1h1.35v1.35h-1.35zM402.5 156.1h1.35v1.35h-1.35zM402.5 165.2h1.35v1.35h-1.35zM402.7 170.1h1.35v1.35h-1.35zM403.9 153.8h1.35v1.35h-1.35zM403.7 157.4h1.35v1.35h-1.35zM403.6 164.9h1.35v1.35h-1.35zM405.0 151.1h1.35v1.35h-1.35zM405.0 152.4h1.35v1.35h-1.35zM405.0 164.8h1.35v1.35h-1.35zM406.2 152.4h1.35v1.35h-1.35zM406.1 153.8h1.35v1.35h-1.35zM406.4 170.1h1.35v1.35h-1.35zM406.3 172.6h1.35v1.35h-1.35zM407.7 164.9h1.35v1.35h-1.35zM407.5 166.2h1.35v1.35h-1.35zM407.6 175.0h1.35v1.35h-1.35zM407.6 178.7h1.35v1.35h-1.35zM410.0 176.3h1.35v1.35h-1.35zM411.4 170.0h1.35v1.35h-1.35zM412.6 172.7h1.35v1.35h-1.35zM413.8 177.5h1.35v1.35h-1.35zM414.9 167.7h1.35v1.35h-1.35z" fill="#4aa2dc"/>
<path d="M410.1 179.8h1.35v1.35h-1.35zM410.1 182.7h1.35v1.35h-1.35zM409.9 185.2h1.35v1.35h-1.35zM411.1 180.2h1.35v1.35h-1.35zM411.4 181.4h1.35v1.35h-1.35zM411.1 183.8h1.35v1.35h-1.35zM411.1 186.3h1.35v1.35h-1.35zM412.4 178.9h1.35v1.35h-1.35zM412.4 181.1h1.35v1.35h-1.35zM412.5 182.4h1.35v1.35h-1.35zM412.6 183.8h1.35v1.35h-1.35zM412.6 184.8h1.35v1.35h-1.35zM412.5 187.5h1.35v1.35h-1.35zM412.6 188.7h1.35v1.35h-1.35zM413.6 176.4h1.35v1.35h-1.35zM413.9 178.6h1.35v1.35h-1.35zM413.6 181.3h1.35v1.35h-1.35zM413.8 182.6h1.35v1.35h-1.35zM413.9 184.8h1.35v1.35h-1.35zM413.8 187.6h1.35v1.35h-1.35zM413.6 188.8h1.35v1.35h-1.35zM413.9 191.1h1.35v1.35h-1.35zM415.0 178.9h1.35v1.35h-1.35zM415.0 180.2h1.35v1.35h-1.35zM414.9 181.2h1.35v1.35h-1.35zM415.1 185.0h1.35v1.35h-1.35zM415.0 187.3h1.35v1.35h-1.35zM414.9 189.8h1.35v1.35h-1.35zM415.1 191.2h1.35v1.35h-1.35zM416.1 177.4h1.35v1.35h-1.35zM416.2 180.0h1.35v1.35h-1.35zM416.4 182.6h1.35v1.35h-1.35zM416.1 184.9h1.35v1.35h-1.35zM416.2 186.4h1.35v1.35h-1.35zM416.2 188.6h1.35v1.35h-1.35zM416.2 189.8h1.35v1.35h-1.35zM416.1 191.2h1.35v1.35h-1.35zM417.4 179.8h1.35v1.35h-1.35zM417.5 181.1h1.35v1.35h-1.35zM417.6 182.5h1.35v1.35h-1.35zM417.7 183.7h1.35v1.35h-1.35zM417.5 185.2h1.35v1.35h-1.35zM418.8 177.3h1.35v1.35h-1.35zM418.6 180.0h1.35v1.35h-1.35zM418.9 183.9h1.35v1.35h-1.35zM418.6 186.4h1.35v1.35h-1.35zM418.9 187.4h1.35v1.35h-1.35zM418.7 190.1h1.35v1.35h-1.35zM418.8 191.3h1.35v1.35h-1.35zM418.8 192.3h1.35v1.35h-1.35zM418.6 194.8h1.35v1.35h-1.35zM420.0 178.6h1.35v1.35h-1.35zM419.9 180.1h1.35v1.35h-1.35zM419.9 181.4h1.35v1.35h-1.35zM419.9 182.7h1.35v1.35h-1.35zM419.9 183.6h1.35v1.35h-1.35zM419.9 184.9h1.35v1.35h-1.35zM420.0 186.2h1.35v1.35h-1.35zM420.0 187.5h1.35v1.35h-1.35zM419.9 188.6h1.35v1.35h-1.35zM419.9 189.8h1.35v1.35h-1.35zM420.0 191.2h1.35v1.35h-1.35zM420.1 192.6h1.35v1.35h-1.35zM419.9 193.6h1.35v1.35h-1.35zM420.2 194.8h1.35v1.35h-1.35zM421.3 176.4h1.35v1.35h-1.35zM421.1 177.7h1.35v1.35h-1.35zM421.2 180.0h1.35v1.35h-1.35zM421.1 181.3h1.35v1.35h-1.35zM421.4 182.6h1.35v1.35h-1.35zM421.2 185.0h1.35v1.35h-1.35zM421.2 187.7h1.35v1.35h-1.35zM421.3 189.9h1.35v1.35h-1.35zM421.3 191.4h1.35v1.35h-1.35zM421.4 192.5h1.35v1.35h-1.35zM421.2 193.9h1.35v1.35h-1.35zM421.1 195.1h1.35v1.35h-1.35zM421.4 196.2h1.35v1.35h-1.35zM422.5 177.3h1.35v1.35h-1.35zM422.6 178.7h1.35v1.35h-1.35zM422.3 179.9h1.35v1.35h-1.35zM422.4 183.6h1.35v1.35h-1.35zM422.5 186.4h1.35v1.35h-1.35zM422.4 187.4h1.35v1.35h-1.35zM422.4 188.6h1.35v1.35h-1.35zM422.6 189.9h1.35v1.35h-1.35zM422.6 191.4h1.35v1.35h-1.35zM422.7 192.3h1.35v1.35h-1.35zM423.6 175.0h1.35v1.35h-1.35zM423.7 177.3h1.35v1.35h-1.35zM423.8 178.6h1.35v1.35h-1.35zM423.7 182.4h1.35v1.35h-1.35zM423.9 183.8h1.35v1.35h-1.35zM423.6 185.1h1.35v1.35h-1.35zM423.9 186.4h1.35v1.35h-1.35zM423.7 187.6h1.35v1.35h-1.35zM423.8 190.1h1.35v1.35h-1.35zM423.8 192.5h1.35v1.35h-1.35zM423.7 193.7h1.35v1.35h-1.35zM423.6 196.3h1.35v1.35h-1.35zM425.1 177.6h1.35v1.35h-1.35zM424.8 181.3h1.35v1.35h-1.35zM424.8 183.8h1.35v1.35h-1.35zM425.1 184.9h1.35v1.35h-1.35zM424.9 186.3h1.35v1.35h-1.35zM425.1 192.4h1.35v1.35h-1.35zM424.8 195.0h1.35v1.35h-1.35zM425.1 197.4h1.35v1.35h-1.35zM426.2 178.7h1.35v1.35h-1.35zM426.1 179.8h1.35v1.35h-1.35zM426.4 186.3h1.35v1.35h-1.35zM426.2 188.8h1.35v1.35h-1.35zM426.2 193.8h1.35v1.35h-1.35zM427.7 177.6h1.35v1.35h-1.35zM427.6 178.9h1.35v1.35h-1.35zM427.4 179.8h1.35v1.35h-1.35zM427.6 182.7h1.35v1.35h-1.35zM427.5 183.8h1.35v1.35h-1.35zM427.5 185.1h1.35v1.35h-1.35zM427.4 187.3h1.35v1.35h-1.35zM427.4 190.1h1.35v1.35h-1.35zM427.6 191.2h1.35v1.35h-1.35zM427.4 192.7h1.35v1.35h-1.35zM427.6 194.9h1.35v1.35h-1.35zM427.6 197.3h1.35v1.35h-1.35zM428.7 178.6h1.35v1.35h-1.35zM428.6 179.9h1.35v1.35h-1.35zM428.8 181.4h1.35v1.35h-1.35zM428.7 182.4h1.35v1.35h-1.35zM428.6 186.2h1.35v1.35h-1.35zM428.6 187.5h1.35v1.35h-1.35zM428.8 191.4h1.35v1.35h-1.35zM428.8 192.7h1.35v1.35h-1.35zM428.7 197.4h1.35v1.35h-1.35zM429.8 177.5h1.35v1.35h-1.35zM430.1 178.8h1.35v1.35h-1.35zM430.2 179.9h1.35v1.35h-1.35zM429.8 181.2h1.35v1.35h-1.35zM429.9 182.6h1.35v1.35h-1.35zM429.9 184.8h1.35v1.35h-1.35zM430.0 186.4h1.35v1.35h-1.35zM429.9 187.6h1.35v1.35h-1.35zM430.0 188.7h1.35v1.35h-1.35zM430.0 190.0h1.35v1.35h-1.35zM430.1 192.6h1.35v1.35h-1.35zM429.8 193.6h1.35v1.35h-1.35zM429.9 195.0h1.35v1.35h-1.35zM431.1 177.5h1.35v1.35h-1.35zM431.2 180.1h1.35v1.35h-1.35zM431.1 181.1h1.35v1.35h-1.35zM431.2 182.4h1.35v1.35h-1.35zM431.3 184.9h1.35v1.35h-1.35zM431.4 186.1h1.35v1.35h-1.35zM431.3 187.5h1.35v1.35h-1.35zM431.3 188.7h1.35v1.35h-1.35zM431.4 189.8h1.35v1.35h-1.35zM431.2 192.3h1.35v1.35h-1.35zM432.7 178.7h1.35v1.35h-1.35zM432.6 180.1h1.35v1.35h-1.35zM432.7 182.3h1.35v1.35h-1.35zM432.7 183.7h1.35v1.35h-1.35zM432.6 185.0h1.35v1.35h-1.35zM432.3 186.3h1.35v1.35h-1.35zM432.5 187.4h1.35v1.35h-1.35zM432.6 188.7h1.35v1.35h-1.35zM432.3 191.1h1.35v1.35h-1.35zM432.7 192.7h1.35v1.35h-1.35zM432.5 195.1h1.35v1.35h-1.35zM433.8 179.8h1.35v1.35h-1.35zM433.9 181.3h1.35v1.35h-1.35zM433.8 182.4h1.35v1.35h-1.35zM433.9 183.9h1.35v1.35h-1.35zM433.9 185.2h1.35v1.35h-1.35zM433.7 186.3h1.35v1.35h-1.35zM433.9 187.5h1.35v1.35h-1.35zM433.7 188.6h1.35v1.35h-1.35zM433.6 191.1h1.35v1.35h-1.35zM433.9 192.5h1.35v1.35h-1.35zM435.2 179.9h1.35v1.35h-1.35zM435.2 181.2h1.35v1.35h-1.35zM435.2 183.9h1.35v1.35h-1.35zM435.0 185.0h1.35v1.35h-1.35zM435.0 186.1h1.35v1.35h-1.35zM434.8 187.4h1.35v1.35h-1.35zM435.1 190.1h1.35v1.35h-1.35zM435.1 192.7h1.35v1.35h-1.35zM435.0 193.9h1.35v1.35h-1.35zM436.2 180.0h1.35v1.35h-1.35zM436.2 181.3h1.35v1.35h-1.35zM436.1 185.2h1.35v1.35h-1.35zM436.3 187.5h1.35v1.35h-1.35zM436.1 188.6h1.35v1.35h-1.35zM436.1 191.1h1.35v1.35h-1.35zM436.3 192.5h1.35v1.35h-1.35zM437.6 178.9h1.35v1.35h-1.35zM437.5 181.2h1.35v1.35h-1.35zM437.5 182.3h1.35v1.35h-1.35zM437.5 183.7h1.35v1.35h-1.35zM437.4 185.1h1.35v1.35h-1.35zM437.5 189.9h1.35v1.35h-1.35zM437.5 191.4h1.35v1.35h-1.35zM438.9 182.3h1.35v1.35h-1.35zM438.6 183.7h1.35v1.35h-1.35zM438.6 184.9h1.35v1.35h-1.35zM438.6 186.3h1.35v1.35h-1.35zM439.8 182.5h1.35v1.35h-1.35zM440.1 186.1h1.35v1.35h-1.35zM440.1 187.4h1.35v1.35h-1.35zM439.8 188.8h1.35v1.35h-1.35zM441.1 186.4h1.35v1.35h-1.35zM441.1 187.5h1.35v1.35h-1.35zM442.5 183.9h1.35v1.35h-1.35zM442.4 185.0h1.35v1.35h-1.35zM442.3 186.1h1.35v1.35h-1.35zM442.5 188.6h1.35v1.35h-1.35zM443.6 186.4h1.35v1.35h-1.35zM443.9 187.6h1.35v1.35h-1.35zM445.1 186.4h1.35v1.35h-1.35zM447.6 185.1h1.35v1.35h-1.35zM436.3 177.3h1.35v1.35h-1.35zM442.4 182.6h1.35v1.35h-1.35zM445.0 187.4h1.35v1.35h-1.35zM408.6 177.6h1.35v1.35h-1.35zM413.9 180.1h1.35v1.35h-1.35zM406.3 182.6h1.35v1.35h-1.35zM408.8 181.2h1.35v1.35h-1.35zM408.8 183.9h1.35v1.35h-1.35zM408.7 187.4h1.35v1.35h-1.35zM410.1 181.3h1.35v1.35h-1.35zM409.9 183.8h1.35v1.35h-1.35zM410.2 191.3h1.35v1.35h-1.35zM411.1 185.1h1.35v1.35h-1.35zM411.4 191.2h1.35v1.35h-1.35zM412.3 190.0h1.35v1.35h-1.35zM412.5 191.1h1.35v1.35h-1.35zM412.5 192.6h1.35v1.35h-1.35zM413.7 183.8h1.35v1.35h-1.35zM415.0 182.6h1.35v1.35h-1.35zM415.2 186.4h1.35v1.35h-1.35zM415.0 188.8h1.35v1.35h-1.35zM416.4 183.6h1.35v1.35h-1.35zM417.7 186.2h1.35v1.35h-1.35zM417.5 187.3h1.35v1.35h-1.35zM417.5 188.9h1.35v1.35h-1.35zM417.5 190.0h1.35v1.35h-1.35zM417.6 192.5h1.35v1.35h-1.35zM418.7 178.9h1.35v1.35h-1.35zM419.9 177.4h1.35v1.35h-1.35zM420.0 197.4h1.35v1.35h-1.35zM420.1 200.1h1.35v1.35h-1.35zM421.4 178.7h1.35v1.35h-1.35zM421.1 188.8h1.35v1.35h-1.35zM422.6 182.5h1.35v1.35h-1.35zM422.5 184.8h1.35v1.35h-1.35zM422.5 193.7h1.35v1.35h-1.35zM422.4 195.1h1.35v1.35h-1.35zM423.7 188.9h1.35v1.35h-1.35zM423.6 191.4h1.35v1.35h-1.35zM423.8 199.9h1.35v1.35h-1.35zM426.1 184.9h1.35v1.35h-1.35zM426.2 190.1h1.35v1.35h-1.35zM426.2 191.1h1.35v1.35h-1.35zM426.4 195.1h1.35v1.35h-1.35zM426.3 196.1h1.35v1.35h-1.35zM427.3 181.2h1.35v1.35h-1.35zM427.6 186.4h1.35v1.35h-1.35zM428.9 185.0h1.35v1.35h-1.35zM428.7 188.6h1.35v1.35h-1.35zM428.7 190.1h1.35v1.35h-1.35zM431.2 183.8h1.35v1.35h-1.35zM431.3 194.9h1.35v1.35h-1.35zM432.7 181.2h1.35v1.35h-1.35zM432.3 190.2h1.35v1.35h-1.35zM432.7 193.6h1.35v1.35h-1.35zM432.7 198.9h1.35v1.35h-1.35zM433.8 190.1h1.35v1.35h-1.35zM433.6 193.9h1.35v1.35h-1.35zM435.1 188.9h1.35v1.35h-1.35zM436.4 183.7h1.35v1.35h-1.35zM436.3 189.8h1.35v1.35h-1.35zM436.3 193.8h1.35v1.35h-1.35zM437.5 186.2h1.35v1.35h-1.35zM437.4 188.7h1.35v1.35h-1.35zM437.4 193.6h1.35v1.35h-1.35zM438.7 181.1h1.35v1.35h-1.35zM438.9 189.9h1.35v1.35h-1.35zM438.6 192.7h1.35v1.35h-1.35zM439.8 185.0h1.35v1.35h-1.35zM441.1 191.4h1.35v1.35h-1.35zM442.6 192.4h1.35v1.35h-1.35zM443.7 188.8h1.35v1.35h-1.35z" fill="#4a98e0"/>
<path d="M370.0 149.9h1.35v1.35h-1.35zM370.2 151.4h1.35v1.35h-1.35zM370.0 152.6h1.35v1.35h-1.35zM371.1 148.8h1.35v1.35h-1.35zM371.4 151.1h1.35v1.35h-1.35zM372.4 152.7h1.35v1.35h-1.35zM372.4 153.9h1.35v1.35h-1.35zM373.8 151.3h1.35v1.35h-1.35zM373.9 152.6h1.35v1.35h-1.35zM373.7 153.7h1.35v1.35h-1.35zM373.8 154.9h1.35v1.35h-1.35zM375.0 150.1h1.35v1.35h-1.35zM374.8 152.7h1.35v1.35h-1.35zM375.0 153.7h1.35v1.35h-1.35zM374.8 155.0h1.35v1.35h-1.35zM376.4 152.4h1.35v1.35h-1.35zM376.1 153.6h1.35v1.35h-1.35zM377.3 151.3h1.35v1.35h-1.35zM377.4 152.7h1.35v1.35h-1.35zM377.5 153.8h1.35v1.35h-1.35zM377.5 155.1h1.35v1.35h-1.35zM378.7 150.1h1.35v1.35h-1.35zM378.7 151.1h1.35v1.35h-1.35zM378.6 153.6h1.35v1.35h-1.35zM380.0 150.0h1.35v1.35h-1.35zM380.1 151.1h1.35v1.35h-1.35zM379.9 152.3h1.35v1.35h-1.35zM380.0 154.9h1.35v1.35h-1.35zM381.3 148.7h1.35v1.35h-1.35zM381.3 151.3h1.35v1.35h-1.35zM381.4 152.4h1.35v1.35h-1.35zM382.5 152.5h1.35v1.35h-1.35z" fill="#e0609a"/>
<line x1="309.1" y1="16" x2="309.1" y2="206.6" stroke="#9a9a9a" stroke-width="0.8"/>
<line x1="308.7" y1="206.3" x2="475.4" y2="206.3" stroke="#9a9a9a" stroke-width="0.8"/>
<line x1="307.5" y1="59.8" x2="309.1" y2="59.8" stroke="#999" stroke-width="0.5"/>
<text x="306.5" y="61.4" class="t4" text-anchor="end">5</text>
<line x1="307.5" y1="110.9" x2="309.1" y2="110.9" stroke="#999" stroke-width="0.5"/>
<text x="306.5" y="112.5" class="t4" text-anchor="end">0</text>
<line x1="307.5" y1="162" x2="309.1" y2="162" stroke="#999" stroke-width="0.5"/>
<text x="306.5" y="163.6" class="t4" text-anchor="end">-5</text>
<line x1="311.4" y1="206.3" x2="311.4" y2="207.8" stroke="#999" stroke-width="0.5"/>
<text x="311.4" y="212" class="t4" text-anchor="middle">-7.5</text>
<line x1="343.9" y1="206.3" x2="343.9" y2="207.8" stroke="#999" stroke-width="0.5"/>
<text x="343.9" y="212" class="t4" text-anchor="middle">-5.0</text>
<line x1="377.3" y1="206.3" x2="377.3" y2="207.8" stroke="#999" stroke-width="0.5"/>
<text x="377.3" y="212" class="t4" text-anchor="middle">-2.5</text>
<line x1="410.5" y1="206.3" x2="410.5" y2="207.8" stroke="#999" stroke-width="0.5"/>
<text x="410.5" y="212" class="t4" text-anchor="middle">0.0</text>
<line x1="443" y1="206.3" x2="443" y2="207.8" stroke="#999" stroke-width="0.5"/>
<text x="443" y="212" class="t4" text-anchor="middle">2.5</text>
<text x="392.6" y="218" class="t5" text-anchor="middle">UMAP_2</text>
<text transform="translate(300.5,111) rotate(-90)" class="t5" text-anchor="middle">UMAP_1</text>
<text x="286.6" y="30.6" class="big" style="font-size:19.5px">C</text>
<text x="412" y="30.0" class="lab" text-anchor="middle" fill="#2a2a2a" stroke="#2a2a2a" stroke-width="0.18">TE-c10</text>
<text x="432" y="50.199999999999996" class="lab" text-anchor="middle" fill="#2a2a2a" stroke="#2a2a2a" stroke-width="0.18">TE-c0</text>
<text x="448" y="50.199999999999996" class="lab" text-anchor="middle" fill="#2a2a2a" stroke="#2a2a2a" stroke-width="0.18">TE-c6</text>
<text x="467.6" y="46.8" class="lab" text-anchor="middle" fill="#2a2a2a" stroke="#2a2a2a" stroke-width="0.18">TE-c21</text>
<text x="430" y="83.8" class="lab" text-anchor="middle" fill="#2a2a2a" stroke="#2a2a2a" stroke-width="0.18">TE-c13</text>
<text x="397" y="50.199999999999996" class="lab" text-anchor="middle" fill="#2a2a2a" stroke="#2a2a2a" stroke-width="0.18">EM-c14</text>
<text x="400" y="66.1" class="lab" text-anchor="middle" fill="#2a2a2a" stroke="#2a2a2a" stroke-width="0.18">EM-c11</text>
<text x="375.4" y="72.39999999999999" class="lab" text-anchor="middle" fill="#2a2a2a" stroke="#2a2a2a" stroke-width="0.18">EM-c9</text>
<text x="410.8" y="81.3" class="lab" text-anchor="middle" fill="#2a2a2a" stroke="#2a2a2a" stroke-width="0.18">EM-c19</text>
<text x="371.6" y="86.3" class="lab" text-anchor="middle" fill="#2a2a2a" stroke="#2a2a2a" stroke-width="0.18">EM-c8</text>
<text x="354" y="98.39999999999999" class="lab" text-anchor="middle" fill="#2a2a2a" stroke="#2a2a2a" stroke-width="0.18">CM-c2</text>
<text x="340.4" y="113.6" class="lab" text-anchor="middle" fill="#2a2a2a" stroke="#2a2a2a" stroke-width="0.18">CM-c12</text>
<text x="322.7" y="89.1" class="lab" text-anchor="middle" fill="#2a2a2a" stroke="#2a2a2a" stroke-width="0.18">MAIT-c15</text>
<text x="401.4" y="104.8" class="lab" text-anchor="middle" fill="#2a2a2a" stroke="#2a2a2a" stroke-width="0.18">CM-c16</text>
<text x="428" y="109.2" class="lab" text-anchor="middle" fill="#2a2a2a" stroke="#2a2a2a" stroke-width="0.18">Proliferating-c20</text>
<text x="430" y="142.8" class="lab" text-anchor="middle" fill="#2a2a2a" stroke="#2a2a2a" stroke-width="0.18">Naive-c16</text>
<text x="426" y="163.5" class="lab" text-anchor="middle" fill="#2a2a2a" stroke="#2a2a2a" stroke-width="0.18">Naive-c3</text>
<text x="409" y="166.8" class="lab" text-anchor="middle" fill="#2a2a2a" stroke="#2a2a2a" stroke-width="0.18">Naive-c4</text>
<text x="438.5" y="170.3" class="lab" text-anchor="middle" fill="#2a2a2a" stroke="#2a2a2a" stroke-width="0.18">Naive-c1</text>
<text x="443" y="182.8" class="lab" text-anchor="middle" fill="#2a2a2a" stroke="#2a2a2a" stroke-width="0.18">Naive-c5</text>
<text x="420" y="192.8" class="lab" text-anchor="middle" fill="#2a2a2a" stroke="#2a2a2a" stroke-width="0.18">Naive-c7</text>
<text x="368" y="154.60000000000002" class="lab" text-anchor="middle" fill="#5a1f2e" stroke="#5a1f2e" stroke-width="0.18">TRM-c17</text>
<circle cx="484.2" cy="83.7" r="1.15" fill="#f8766d"/>
<text x="489.9" y="85.4" class="leg">CM-c12</text>
<circle cx="484.2" cy="89.4" r="1.15" fill="#ec8239"/>
<text x="489.9" y="91.1" class="leg">CM-c16</text>
<circle cx="484.2" cy="95.1" r="1.15" fill="#db8e00"/>
<text x="489.9" y="96.8" class="leg">CM-c2</text>
<circle cx="484.2" cy="100.7" r="1.15" fill="#c79800"/>
<text x="489.9" y="102.4" class="leg">EM-c11</text>
<circle cx="484.2" cy="106.4" r="1.15" fill="#aea200"/>
<text x="489.9" y="108.1" class="leg">EM-c14</text>
<circle cx="484.2" cy="112.1" r="1.15" fill="#8faa00"/>
<text x="489.9" y="113.8" class="leg">EM-c19</text>
<circle cx="484.2" cy="117.8" r="1.15" fill="#64b200"/>
<text x="489.9" y="119.5" class="leg">EM-c8</text>
<circle cx="484.2" cy="123.5" r="1.15" fill="#00b81b"/>
<text x="489.9" y="125.2" class="leg">EM-c9</text>
<circle cx="484.2" cy="129.1" r="1.15" fill="#00bd5c"/>
<text x="489.9" y="130.8" class="leg">MAIT-c15</text>
<circle cx="484.2" cy="134.8" r="1.15" fill="#00c085"/>
<text x="489.9" y="136.5" class="leg">Naive-c1</text>
<circle cx="484.2" cy="140.5" r="1.15" fill="#00c1a7"/>
<text x="489.9" y="142.2" class="leg">Naive-c16</text>
<circle cx="515.1" cy="83.7" r="1.15" fill="#00bfc4"/>
<text x="520.8" y="85.4" class="leg">Naive-c3</text>
<circle cx="515.1" cy="89.4" r="1.15" fill="#00bade"/>
<text x="520.8" y="91.1" class="leg">Naive-c4</text>
<circle cx="515.1" cy="95.1" r="1.15" fill="#00b2f3"/>
<text x="520.8" y="96.8" class="leg">Naive-c5</text>
<circle cx="515.1" cy="100.7" r="1.15" fill="#00a6ff"/>
<text x="520.8" y="102.4" class="leg">Naive-c7</text>
<circle cx="515.1" cy="106.4" r="1.15" fill="#7c96ff"/>
<text x="520.8" y="108.1" class="leg">Proliferating-c20</text>
<circle cx="515.1" cy="112.1" r="1.15" fill="#b385ff"/>
<text x="520.8" y="113.8" class="leg">TE-c0</text>
<circle cx="515.1" cy="117.8" r="1.15" fill="#d874fd"/>
<text x="520.8" y="119.5" class="leg">TE-c10</text>
<circle cx="515.1" cy="123.5" r="1.15" fill="#ef67eb"/>
<text x="520.8" y="125.2" class="leg">TE-c13</text>
<circle cx="515.1" cy="129.1" r="1.15" fill="#fd61d3"/>
<text x="520.8" y="130.8" class="leg">TE-c21</text>
<circle cx="515.1" cy="134.8" r="1.15" fill="#ff63b6"/>
<text x="520.8" y="136.5" class="leg">TE-c6</text>
<circle cx="515.1" cy="140.5" r="1.15" fill="#ff6b94"/>
<text x="520.8" y="142.2" class="leg">TRM-c17</text>
</g>
<g id="pca1">
<line x1="1.3" y1="247.5" x2="1.3" y2="347.8" stroke="#555" stroke-width="0.9"/>
<line x1="1" y1="347.5" x2="126.4" y2="347.5" stroke="#555" stroke-width="0.9"/>
<line x1="7.6" y1="347.5" x2="7.6" y2="349" stroke="#555" stroke-width="0.5"/>
<text x="7.6" y="353.3" class="t35" text-anchor="middle">-0.3</text>
<line x1="29.6" y1="347.5" x2="29.6" y2="349" stroke="#555" stroke-width="0.5"/>
<text x="29.6" y="353.3" class="t35" text-anchor="middle">-0.2</text>
<line x1="51.8" y1="347.5" x2="51.8" y2="349" stroke="#555" stroke-width="0.5"/>
<text x="51.8" y="353.3" class="t35" text-anchor="middle">-0.1</text>
<line x1="73.3" y1="347.5" x2="73.3" y2="349" stroke="#555" stroke-width="0.5"/>
<text x="73.3" y="353.3" class="t35" text-anchor="middle">0</text>
<line x1="94.8" y1="347.5" x2="94.8" y2="349" stroke="#555" stroke-width="0.5"/>
<text x="94.8" y="353.3" class="t35" text-anchor="middle">0.1</text>
<line x1="116.8" y1="347.5" x2="116.8" y2="349" stroke="#555" stroke-width="0.5"/>
<text x="116.8" y="353.3" class="t35" text-anchor="middle">0.2</text>
<text x="66.2" y="360.3" class="t45" style="font-size:5px" fill="#333" text-anchor="middle">PC1</text>
<circle cx="73.5" cy="318.1" r="0.8" fill="#a094b8"/>
<circle cx="108.7" cy="317.9" r="0.8" fill="#a094b8"/>
<circle cx="8.2" cy="294.6" r="0.8" fill="#a898b0"/>
<circle cx="76.4" cy="331.6" r="0.8" fill="#a898b0"/>
<circle cx="45.9" cy="328.8" r="0.8" fill="#b090a8"/>
<circle cx="64.8" cy="303.8" r="0.8" fill="#a898b0"/>
<circle cx="85.4" cy="289.7" r="0.8" fill="#a898b0"/>
<circle cx="105.8" cy="320.1" r="0.8" fill="#a898b0"/>
<circle cx="88.8" cy="261.1" r="0.8" fill="#a094b8"/>
<circle cx="72.9" cy="265.8" r="0.8" fill="#a898b0"/>
<circle cx="112.0" cy="255.5" r="0.8" fill="#a898b0"/>
<circle cx="110.6" cy="269.1" r="0.8" fill="#a898b0"/>
<circle cx="36.8" cy="336.7" r="0.8" fill="#a094b8"/>
<circle cx="101.4" cy="308.2" r="0.8" fill="#a898b0"/>
<circle cx="108.5" cy="313.7" r="0.8" fill="#b090a8"/>
<circle cx="37.9" cy="285.7" r="0.8" fill="#a898b0"/>
<circle cx="107.9" cy="277.4" r="0.8" fill="#b090a8"/>
<circle cx="38.1" cy="306.3" r="0.8" fill="#a898b0"/>
<circle cx="70.6" cy="315.2" r="0.8" fill="#a898b0"/>
<circle cx="39.1" cy="324.6" r="0.8" fill="#b090a8"/>
<circle cx="81.6" cy="270.7" r="0.8" fill="#b090a8"/>
<circle cx="82.5" cy="259.8" r="0.8" fill="#a898b0"/>
<circle cx="11.5" cy="283.7" r="0.8" fill="#b0a8c0"/>
<circle cx="21.4" cy="275.3" r="0.8" fill="#b0a8c0"/>
<circle cx="17.8" cy="284.6" r="0.8" fill="#b0a8c0"/>
<circle cx="10.9" cy="272.7" r="0.8" fill="#b0a8c0"/>
<circle cx="25.6" cy="272.0" r="0.8" fill="#b0a8c0"/>
<circle cx="40.7" cy="315.6" r="0.8" fill="#b0a8c0"/>
<circle cx="41.4" cy="293.2" r="0.8" fill="#b0a8c0"/>
<circle cx="18.5" cy="274.8" r="0.8" fill="#b0a8c0"/>
<circle cx="22.5" cy="300.2" r="0.8" fill="#b0a8c0"/>
<circle cx="23.8" cy="274.6" r="0.8" fill="#b0a8c0"/>
<circle cx="13.0" cy="283.1" r="0.8" fill="#b0a8c0"/>
<circle cx="19.5" cy="281.7" r="0.8" fill="#b0a8c0"/>
<circle cx="27.9" cy="306.8" r="0.8" fill="#b0a8c0"/>
<circle cx="16.8" cy="285.3" r="0.8" fill="#b0a8c0"/>
<circle cx="27.1" cy="293.8" r="0.8" fill="#b0a8c0"/>
<circle cx="42.5" cy="313.4" r="0.8" fill="#b0a8c0"/>
<circle cx="32.7" cy="284.8" r="0.8" fill="#b890b0"/>
<circle cx="42.8" cy="264.0" r="0.8" fill="#b890b0"/>
<circle cx="32.2" cy="284.5" r="0.8" fill="#b890b0"/>
<circle cx="51.6" cy="272.5" r="0.8" fill="#b890b0"/>
<circle cx="44.2" cy="276.0" r="0.8" fill="#b890b0"/>
<circle cx="60.0" cy="300.9" r="0.8" fill="#b890b0"/>
<circle cx="30.2" cy="280.7" r="0.8" fill="#b890b0"/>
<circle cx="45.8" cy="272.4" r="0.8" fill="#b890b0"/>
<circle cx="53.1" cy="288.2" r="0.8" fill="#b890b0"/>
<circle cx="58.9" cy="278.7" r="0.8" fill="#b890b0"/>
<circle cx="42.6" cy="290.5" r="0.8" fill="#b890b0"/>
<circle cx="35.1" cy="261.4" r="0.8" fill="#b890b0"/>
<circle cx="53.5" cy="284.9" r="0.8" fill="#b890b0"/>
<circle cx="45.3" cy="293.4" r="0.8" fill="#b890b0"/>
<circle cx="53.4" cy="294.5" r="0.8" fill="#b890b0"/>
<circle cx="47.5" cy="294.5" r="0.8" fill="#b890b0"/>
<circle cx="77.6" cy="257.1" r="0.8" fill="#a090c0"/>
<circle cx="79.1" cy="267.9" r="0.8" fill="#a090c0"/>
<circle cx="86.6" cy="261.1" r="0.8" fill="#a090c0"/>
<circle cx="81.3" cy="279.4" r="0.8" fill="#a090c0"/>
<circle cx="102.4" cy="282.8" r="0.8" fill="#a090c0"/>
<circle cx="92.9" cy="276.0" r="0.8" fill="#a090c0"/>
<circle cx="89.0" cy="287.7" r="0.8" fill="#a090c0"/>
<circle cx="106.9" cy="281.7" r="0.8" fill="#a090c0"/>
<circle cx="78.2" cy="268.3" r="0.8" fill="#a090c0"/>
<circle cx="74.4" cy="261.4" r="0.8" fill="#a090c0"/>
<circle cx="99.2" cy="290.6" r="0.8" fill="#a090c0"/>
<circle cx="70.2" cy="272.1" r="0.8" fill="#a090c0"/>
<circle cx="102.1" cy="291.4" r="0.8" fill="#a090c0"/>
<circle cx="78.0" cy="264.6" r="0.8" fill="#a090c0"/>
<circle cx="101.8" cy="277.5" r="0.8" fill="#a090c0"/>
<circle cx="98.8" cy="284.9" r="0.8" fill="#a090c0"/>
<ellipse cx="32.3" cy="292" rx="28.3" ry="11.8" transform="rotate(49.3 32.3 292)" fill="none" stroke="#a6d2ec" stroke-width="1.2"/>
<ellipse cx="46.2" cy="281.9" rx="21.5" ry="13.2" transform="rotate(47 46.2 281.9)" fill="none" stroke="#c4509a" stroke-width="1.45"/>
<ellipse cx="87.4" cy="276" rx="24.6" ry="10.3" transform="rotate(41 87.4 276)" fill="none" stroke="#8458c4" stroke-width="1.45"/>
<circle cx="92.2" cy="332.3" r="0.9" fill="#d8c8e0"/>
<text x="96" y="333.7" class="t35" style="font-size:3.9px" fill="#444">CMV-</text>
<circle cx="92.2" cy="337.1" r="0.9" fill="#c9539c"/>
<text x="96" y="338.5" class="t35" style="font-size:3.9px" fill="#444">Pre-viremia</text>
<circle cx="92.2" cy="341.7" r="0.9" fill="#7a50b8"/>
<text x="96" y="343.09999999999997" class="t35" style="font-size:3.9px" fill="#444">Post-initial viremia</text>
</g>
<g id="pca2">
<line x1="146.4" y1="246" x2="146.4" y2="349.3" stroke="#555" stroke-width="0.9"/>
<line x1="146" y1="349" x2="277.7" y2="349" stroke="#555" stroke-width="0.9"/>
<line x1="145" y1="254.9" x2="146.4" y2="254.9" stroke="#555" stroke-width="0.5"/>
<text x="144" y="256.1" class="t35" text-anchor="end">0.2</text>
<line x1="145" y1="275.7" x2="146.4" y2="275.7" stroke="#555" stroke-width="0.5"/>
<text x="144" y="276.9" class="t35" text-anchor="end">0.1</text>
<line x1="145" y1="297.2" x2="146.4" y2="297.2" stroke="#555" stroke-width="0.5"/>
<text x="144" y="298.4" class="t35" text-anchor="end">0</text>
<line x1="145" y1="318" x2="146.4" y2="318" stroke="#555" stroke-width="0.5"/>
<text x="144" y="319.2" class="t35" text-anchor="end">-0.1</text>
<line x1="145" y1="339.2" x2="146.4" y2="339.2" stroke="#555" stroke-width="0.5"/>
<text x="144" y="340.4" class="t35" text-anchor="end">-0.2</text>
<line x1="153.9" y1="349" x2="153.9" y2="350.5" stroke="#555" stroke-width="0.5"/>
<text x="153.9" y="354.3" class="t35" text-anchor="middle">-0.3</text>
<line x1="175.4" y1="349" x2="175.4" y2="350.5" stroke="#555" stroke-width="0.5"/>
<text x="175.4" y="354.3" class="t35" text-anchor="middle">-0.2</text>
<line x1="197.6" y1="349" x2="197.6" y2="350.5" stroke="#555" stroke-width="0.5"/>
<text x="197.6" y="354.3" class="t35" text-anchor="middle">-0.1</text>
<line x1="219.6" y1="349" x2="219.6" y2="350.5" stroke="#555" stroke-width="0.5"/>
<text x="219.6" y="354.3" class="t35" text-anchor="middle">0</text>
<line x1="241" y1="349" x2="241" y2="350.5" stroke="#555" stroke-width="0.5"/>
<text x="241" y="354.3" class="t35" text-anchor="middle">0.1</text>
<line x1="263.3" y1="349" x2="263.3" y2="350.5" stroke="#555" stroke-width="0.5"/>
<text x="263.3" y="354.3" class="t35" text-anchor="middle">0.2</text>
<text x="212" y="361.3" class="t45" style="font-size:5px" fill="#333" text-anchor="middle">PC1</text>
<text transform="translate(134.2,297) rotate(-90)" class="t45" style="font-size:5px" fill="#333" text-anchor="middle">PC3</text>
<circle cx="239.5" cy="341.9" r="0.8" fill="#b090a8"/>
<circle cx="231.2" cy="305.7" r="0.8" fill="#a898b0"/>
<circle cx="209.3" cy="324.3" r="0.8" fill="#b090a8"/>
<circle cx="234.0" cy="294.4" r="0.8" fill="#a094b8"/>
<circle cx="230.9" cy="326.6" r="0.8" fill="#b090a8"/>
<circle cx="184.2" cy="283.2" r="0.8" fill="#b090a8"/>
<circle cx="193.8" cy="330.9" r="0.8" fill="#a094b8"/>
<circle cx="206.2" cy="285.0" r="0.8" fill="#b090a8"/>
<circle cx="214.8" cy="300.8" r="0.8" fill="#a898b0"/>
<circle cx="174.8" cy="284.8" r="0.8" fill="#b090a8"/>
<circle cx="185.4" cy="257.6" r="0.8" fill="#a094b8"/>
<circle cx="241.3" cy="266.5" r="0.8" fill="#a094b8"/>
<circle cx="214.6" cy="339.9" r="0.8" fill="#b090a8"/>
<circle cx="228.0" cy="324.4" r="0.8" fill="#a094b8"/>
<circle cx="183.8" cy="345.6" r="0.8" fill="#a898b0"/>
<circle cx="170.0" cy="292.3" r="0.8" fill="#a094b8"/>
<circle cx="172.6" cy="322.9" r="0.8" fill="#a898b0"/>
<circle cx="228.9" cy="254.0" r="0.8" fill="#b090a8"/>
<circle cx="272.5" cy="265.9" r="0.8" fill="#a898b0"/>
<circle cx="163.9" cy="342.9" r="0.8" fill="#b090a8"/>
<circle cx="174.2" cy="253.4" r="0.8" fill="#b090a8"/>
<circle cx="193.9" cy="313.6" r="0.8" fill="#a898b0"/>
<circle cx="223.8" cy="272.8" r="0.8" fill="#b090a8"/>
<circle cx="150.1" cy="288.9" r="0.8" fill="#b090a8"/>
<circle cx="198.3" cy="313.8" r="0.8" fill="#b0a8c0"/>
<circle cx="167.7" cy="291.8" r="0.8" fill="#b0a8c0"/>
<circle cx="166.4" cy="288.2" r="0.8" fill="#b0a8c0"/>
<circle cx="166.2" cy="314.7" r="0.8" fill="#b0a8c0"/>
<circle cx="191.9" cy="321.4" r="0.8" fill="#b0a8c0"/>
<circle cx="164.8" cy="310.1" r="0.8" fill="#b0a8c0"/>
<circle cx="169.0" cy="307.3" r="0.8" fill="#b0a8c0"/>
<circle cx="167.8" cy="293.9" r="0.8" fill="#b0a8c0"/>
<circle cx="174.4" cy="325.8" r="0.8" fill="#b0a8c0"/>
<circle cx="165.5" cy="299.8" r="0.8" fill="#b0a8c0"/>
<circle cx="176.8" cy="321.1" r="0.8" fill="#b0a8c0"/>
<circle cx="183.6" cy="309.7" r="0.8" fill="#b0a8c0"/>
<circle cx="158.4" cy="306.2" r="0.8" fill="#b0a8c0"/>
<circle cx="189.9" cy="316.7" r="0.8" fill="#b0a8c0"/>
<circle cx="161.2" cy="312.8" r="0.8" fill="#b0a8c0"/>
<circle cx="168.6" cy="288.8" r="0.8" fill="#b0a8c0"/>
<circle cx="203.5" cy="307.4" r="0.8" fill="#b890b0"/>
<circle cx="179.5" cy="270.4" r="0.8" fill="#b890b0"/>
<circle cx="175.6" cy="275.2" r="0.8" fill="#b890b0"/>
<circle cx="191.8" cy="308.5" r="0.8" fill="#b890b0"/>
<circle cx="199.3" cy="283.7" r="0.8" fill="#b890b0"/>
<circle cx="186.0" cy="292.8" r="0.8" fill="#b890b0"/>
<circle cx="194.5" cy="293.1" r="0.8" fill="#b890b0"/>
<circle cx="202.6" cy="302.4" r="0.8" fill="#b890b0"/>
<circle cx="197.4" cy="300.6" r="0.8" fill="#b890b0"/>
<circle cx="206.9" cy="310.8" r="0.8" fill="#b890b0"/>
<circle cx="198.4" cy="304.0" r="0.8" fill="#b890b0"/>
<circle cx="184.7" cy="282.8" r="0.8" fill="#b890b0"/>
<circle cx="184.0" cy="269.8" r="0.8" fill="#b890b0"/>
<circle cx="183.0" cy="276.3" r="0.8" fill="#b890b0"/>
<circle cx="188.6" cy="284.2" r="0.8" fill="#b890b0"/>
<circle cx="198.7" cy="279.4" r="0.8" fill="#b890b0"/>
<circle cx="223.0" cy="282.3" r="0.8" fill="#a090c0"/>
<circle cx="216.2" cy="270.0" r="0.8" fill="#a090c0"/>
<circle cx="253.7" cy="305.2" r="0.8" fill="#a090c0"/>
<circle cx="249.9" cy="318.4" r="0.8" fill="#a090c0"/>
<circle cx="227.8" cy="296.4" r="0.8" fill="#a090c0"/>
<circle cx="228.1" cy="274.4" r="0.8" fill="#a090c0"/>
<circle cx="247.5" cy="316.4" r="0.8" fill="#a090c0"/>
<circle cx="235.2" cy="283.9" r="0.8" fill="#a090c0"/>
<circle cx="236.7" cy="315.7" r="0.8" fill="#a090c0"/>
<circle cx="232.6" cy="293.5" r="0.8" fill="#a090c0"/>
<circle cx="239.2" cy="315.2" r="0.8" fill="#a090c0"/>
<circle cx="229.7" cy="309.3" r="0.8" fill="#a090c0"/>
<circle cx="245.1" cy="294.6" r="0.8" fill="#a090c0"/>
<circle cx="236.6" cy="281.2" r="0.8" fill="#a090c0"/>
<circle cx="231.9" cy="273.5" r="0.8" fill="#a090c0"/>
<circle cx="252.2" cy="299.6" r="0.8" fill="#a090c0"/>
<ellipse cx="177.1" cy="310.75" rx="22.5" ry="18" transform="rotate(50 177.1 310.75)" fill="none" stroke="#a6d2ec" stroke-width="1.2"/>
<ellipse cx="191.85" cy="289.6" rx="28.5" ry="10.6" transform="rotate(60 191.85 289.6)" fill="none" stroke="#c4509a" stroke-width="1.45"/>
<ellipse cx="233.35" cy="294.85" rx="26.5" ry="13.3" transform="rotate(52 233.35 294.85)" fill="none" stroke="#8458c4" stroke-width="1.45"/>
<circle cx="238.7" cy="248.3" r="0.9" fill="#d8c8e0"/>
<text x="241.7" y="249.70000000000002" class="t35" style="font-size:3.9px" fill="#444">CMV-</text>
<circle cx="238.7" cy="253.6" r="0.9" fill="#c9539c"/>
<text x="241.7" y="255.0" class="t35" style="font-size:3.9px" fill="#444">Pre-viremia</text>
<circle cx="238.7" cy="258.6" r="0.9" fill="#7a50b8"/>
<text x="241.7" y="260.0" class="t35" style="font-size:3.9px" fill="#444">Post-initial viremia</text>
</g>
<g id="D">
<text x="272.4" y="241" class="big" style="font-size:20px">D</text>
<text x="364.6" y="246.6" class="ttl" text-anchor="middle">CD28<tspan class="sup" dy="-2">lo</tspan><tspan dy="2"> KLRG1</tspan><tspan class="sup" dy="-2">hi</tspan><tspan dy="2"> CD127</tspan><tspan class="sup" dy="-2">lo</tspan><tspan dy="2"> HLA-DR</tspan><tspan class="sup" dy="-2">hi</tspan></text>
<path d="M334.2,262 V258.4 H395.8 V262" stroke="#111" stroke-width="1.1" fill="none"/>
<text x="365.6" y="259" class="stars" style="font-size:10.5px" text-anchor="middle">***</text>
<path d="M313.4,272 V268.2 H334.4 V272" stroke="#111" stroke-width="1.1" fill="none"/>
<text x="324.2" y="267.5" class="stars" style="font-size:8.5px" text-anchor="middle">*</text>
<line x1="300.2" y1="277.8" x2="300.2" y2="343.3" stroke="#222" stroke-width="0.9"/>
<line x1="299.8" y1="343" x2="429" y2="343" stroke="#222" stroke-width="0.9"/>
<line x1="298.2" y1="278.2" x2="300.2" y2="278.2" stroke="#222" stroke-width="0.6"/>
<text x="297.5" y="279.5" class="t4b" text-anchor="end">30</text>
<line x1="298.2" y1="299.9" x2="300.2" y2="299.9" stroke="#222" stroke-width="0.6"/>
<text x="297.5" y="301.2" class="t4b" text-anchor="end">20</text>
<line x1="298.2" y1="321.5" x2="300.2" y2="321.5" stroke="#222" stroke-width="0.6"/>
<text x="297.5" y="322.8" class="t4b" text-anchor="end">10</text>
<line x1="298.2" y1="343" x2="300.2" y2="343" stroke="#222" stroke-width="0.6"/>
<text x="297.5" y="344.3" class="t4b" text-anchor="end">0</text>
<text transform="translate(286.8,313.5) rotate(-90)" class="ylab" text-anchor="middle">Percentage (%) of CD8 T cells</text>
<line x1="323.8" y1="277" x2="323.8" y2="343" stroke="#555" stroke-width="0.75" stroke-dasharray="1.8,1.2"/>
<line x1="406" y1="277" x2="406" y2="343" stroke="#555" stroke-width="0.75" stroke-dasharray="1.8,1.2"/>
<text x="312.2" y="278" class="grp" fill="#dca848" text-anchor="middle">R-PCR-</text>
<text x="368.9" y="278" class="grp" fill="#e070e0" text-anchor="middle">R+PCR+</text>
<text x="416.3" y="278" class="grp" fill="#dca848" text-anchor="middle">R+PCR-</text>
<rect x="307.5" y="336" width="13.3" height="7.0" fill="#c98332" stroke="#4e3210" stroke-width="0.8"/>
<circle cx="314.1" cy="318.3" r="1.45" fill="#4e3210" stroke="#8a5a20" stroke-width="0.35"/>
<circle cx="314.1" cy="324.0" r="1.45" fill="#4e3210" stroke="#8a5a20" stroke-width="0.35"/>
<circle cx="314.1" cy="329.5" r="1.45" fill="#4e3210" stroke="#8a5a20" stroke-width="0.35"/>
<circle cx="314.1" cy="339.5" r="1.45" fill="#4e3210" stroke="#8a5a20" stroke-width="0.35"/>
<circle cx="316.9" cy="339.1" r="1.45" fill="#4e3210" stroke="#8a5a20" stroke-width="0.35"/>
<circle cx="311.3" cy="338.1" r="1.45" fill="#4e3210" stroke="#8a5a20" stroke-width="0.35"/>
<circle cx="311.3" cy="341.2" r="1.45" fill="#4e3210" stroke="#8a5a20" stroke-width="0.35"/>
<circle cx="319.8" cy="337.5" r="1.45" fill="#4e3210" stroke="#8a5a20" stroke-width="0.35"/>
<circle cx="308.5" cy="339.7" r="1.45" fill="#4e3210" stroke="#8a5a20" stroke-width="0.35"/>
<circle cx="319.8" cy="341.4" r="1.45" fill="#4e3210" stroke="#8a5a20" stroke-width="0.35"/>
<circle cx="309.9" cy="337.8" r="1.45" fill="#4e3210" stroke="#8a5a20" stroke-width="0.35"/>
<circle cx="309.9" cy="339.9" r="1.45" fill="#4e3210" stroke="#8a5a20" stroke-width="0.35"/>
<circle cx="309.9" cy="340.2" r="1.45" fill="#4e3210" stroke="#8a5a20" stroke-width="0.35"/>
<circle cx="309.9" cy="337.7" r="1.45" fill="#4e3210" stroke="#8a5a20" stroke-width="0.35"/>
<circle cx="309.9" cy="339.1" r="1.45" fill="#4e3210" stroke="#8a5a20" stroke-width="0.35"/>
<circle cx="309.9" cy="340.5" r="1.45" fill="#4e3210" stroke="#8a5a20" stroke-width="0.35"/>
<circle cx="309.9" cy="339.4" r="1.45" fill="#4e3210" stroke="#8a5a20" stroke-width="0.35"/>
<circle cx="309.9" cy="340.6" r="1.45" fill="#4e3210" stroke="#8a5a20" stroke-width="0.35"/>
<circle cx="309.9" cy="338.2" r="1.45" fill="#4e3210" stroke="#8a5a20" stroke-width="0.35"/>
<circle cx="309.9" cy="338.5" r="1.45" fill="#4e3210" stroke="#8a5a20" stroke-width="0.35"/>
<circle cx="309.9" cy="338.0" r="1.45" fill="#4e3210" stroke="#8a5a20" stroke-width="0.35"/>
<circle cx="309.9" cy="339.7" r="1.45" fill="#4e3210" stroke="#8a5a20" stroke-width="0.35"/>
<circle cx="309.9" cy="341.5" r="1.45" fill="#4e3210" stroke="#8a5a20" stroke-width="0.35"/>
<circle cx="309.9" cy="340.0" r="1.45" fill="#4e3210" stroke="#8a5a20" stroke-width="0.35"/>
<circle cx="309.9" cy="340.8" r="1.45" fill="#4e3210" stroke="#8a5a20" stroke-width="0.35"/>
<circle cx="309.9" cy="339.1" r="1.45" fill="#4e3210" stroke="#8a5a20" stroke-width="0.35"/>
<circle cx="309.9" cy="340.7" r="1.45" fill="#4e3210" stroke="#8a5a20" stroke-width="0.35"/>
<path d="M314.15,332.8 V339 M311.95,332.8 H316.34999999999997" stroke="#222" stroke-width="0.8" fill="none"/>
<text x="314.15" y="351.8" class="t4b" text-anchor="middle">BL</text>
<rect x="327.5" y="337.5" width="14.0" height="5.5" fill="#a448ac" stroke="#44204a" stroke-width="0.8"/>
<circle cx="334.5" cy="295.1" r="1.45" fill="#44204a" stroke="#7a3a80" stroke-width="0.35"/>
<circle cx="334.5" cy="333.5" r="1.45" fill="#44204a" stroke="#7a3a80" stroke-width="0.35"/>
<circle cx="337.3" cy="335.5" r="1.45" fill="#44204a" stroke="#7a3a80" stroke-width="0.35"/>
<circle cx="334.5" cy="339.3" r="1.45" fill="#44204a" stroke="#7a3a80" stroke-width="0.35"/>
<circle cx="337.3" cy="339.8" r="1.45" fill="#44204a" stroke="#7a3a80" stroke-width="0.35"/>
<circle cx="331.7" cy="340.9" r="1.45" fill="#44204a" stroke="#7a3a80" stroke-width="0.35"/>
<circle cx="340.1" cy="341.0" r="1.45" fill="#44204a" stroke="#7a3a80" stroke-width="0.35"/>
<circle cx="328.9" cy="340.2" r="1.45" fill="#44204a" stroke="#7a3a80" stroke-width="0.35"/>
<circle cx="330.3" cy="339.2" r="1.45" fill="#44204a" stroke="#7a3a80" stroke-width="0.35"/>
<circle cx="330.3" cy="339.7" r="1.45" fill="#44204a" stroke="#7a3a80" stroke-width="0.35"/>
<circle cx="330.3" cy="339.6" r="1.45" fill="#44204a" stroke="#7a3a80" stroke-width="0.35"/>
<circle cx="330.3" cy="339.8" r="1.45" fill="#44204a" stroke="#7a3a80" stroke-width="0.35"/>
<path d="M334.5,334.3 V340.5 M332.3,334.3 H336.7" stroke="#222" stroke-width="0.8" fill="none"/>
<text x="334.5" y="351.8" class="t4b" text-anchor="middle">BL</text>
<rect x="348" y="327.5" width="14.0" height="15.5" fill="#e074e0" stroke="#4e3050" stroke-width="0.8"/>
<circle cx="355.0" cy="286.7" r="1.45" fill="#4e3050" stroke="#b868b8" stroke-width="0.35"/>
<circle cx="355.0" cy="307.5" r="1.45" fill="#4e3050" stroke="#b868b8" stroke-width="0.35"/>
<circle cx="357.8" cy="308.2" r="1.45" fill="#4e3050" stroke="#b868b8" stroke-width="0.35"/>
<circle cx="352.2" cy="309.3" r="1.45" fill="#4e3050" stroke="#b868b8" stroke-width="0.35"/>
<circle cx="355.0" cy="315.5" r="1.45" fill="#4e3050" stroke="#b868b8" stroke-width="0.35"/>
<circle cx="355.0" cy="318.5" r="1.45" fill="#4e3050" stroke="#b868b8" stroke-width="0.35"/>
<circle cx="357.8" cy="318.5" r="1.45" fill="#4e3050" stroke="#b868b8" stroke-width="0.35"/>
<circle cx="355.0" cy="321.5" r="1.45" fill="#4e3050" stroke="#b868b8" stroke-width="0.35"/>
<circle cx="355.0" cy="325.0" r="1.45" fill="#4e3050" stroke="#b868b8" stroke-width="0.35"/>
<circle cx="355.0" cy="339.4" r="1.45" fill="#4e3050" stroke="#b868b8" stroke-width="0.35"/>
<circle cx="355.0" cy="331.6" r="1.45" fill="#4e3050" stroke="#b868b8" stroke-width="0.35"/>
<circle cx="357.8" cy="340.3" r="1.45" fill="#4e3050" stroke="#b868b8" stroke-width="0.35"/>
<circle cx="352.2" cy="340.3" r="1.45" fill="#4e3050" stroke="#b868b8" stroke-width="0.35"/>
<circle cx="357.8" cy="329.7" r="1.45" fill="#4e3050" stroke="#b868b8" stroke-width="0.35"/>
<circle cx="357.8" cy="333.8" r="1.45" fill="#4e3050" stroke="#b868b8" stroke-width="0.35"/>
<circle cx="355.0" cy="335.3" r="1.45" fill="#4e3050" stroke="#b868b8" stroke-width="0.35"/>
<circle cx="352.2" cy="329.3" r="1.45" fill="#4e3050" stroke="#b868b8" stroke-width="0.35"/>
<circle cx="352.2" cy="334.4" r="1.45" fill="#4e3050" stroke="#b868b8" stroke-width="0.35"/>
<circle cx="360.6" cy="340.6" r="1.45" fill="#4e3050" stroke="#b868b8" stroke-width="0.35"/>
<circle cx="360.6" cy="330.4" r="1.45" fill="#4e3050" stroke="#b868b8" stroke-width="0.35"/>
<circle cx="357.8" cy="336.6" r="1.45" fill="#4e3050" stroke="#b868b8" stroke-width="0.35"/>
<path d="M355.0,324.3 V330.5 M352.8,324.3 H357.2" stroke="#222" stroke-width="0.8" fill="none"/>
<text x="355.0" y="351.8" class="t4b" text-anchor="middle">1W</text>
<rect x="368.8" y="330.3" width="13.4" height="12.7" fill="#e074e0" stroke="#4e3050" stroke-width="0.8"/>
<circle cx="375.5" cy="284.0" r="1.45" fill="#4e3050" stroke="#b868b8" stroke-width="0.35"/>
<circle cx="375.5" cy="312.7" r="1.45" fill="#4e3050" stroke="#b868b8" stroke-width="0.35"/>
<circle cx="375.5" cy="318.5" r="1.45" fill="#4e3050" stroke="#b868b8" stroke-width="0.35"/>
<circle cx="378.3" cy="319.5" r="1.45" fill="#4e3050" stroke="#b868b8" stroke-width="0.35"/>
<circle cx="372.7" cy="320.0" r="1.45" fill="#4e3050" stroke="#b868b8" stroke-width="0.35"/>
<circle cx="375.5" cy="323.5" r="1.45" fill="#4e3050" stroke="#b868b8" stroke-width="0.35"/>
<circle cx="378.3" cy="325.0" r="1.45" fill="#4e3050" stroke="#b868b8" stroke-width="0.35"/>
<circle cx="375.5" cy="327.5" r="1.45" fill="#4e3050" stroke="#b868b8" stroke-width="0.35"/>
<circle cx="375.5" cy="333.0" r="1.45" fill="#4e3050" stroke="#b868b8" stroke-width="0.35"/>
<circle cx="375.5" cy="337.6" r="1.45" fill="#4e3050" stroke="#b868b8" stroke-width="0.35"/>
<circle cx="375.5" cy="340.8" r="1.45" fill="#4e3050" stroke="#b868b8" stroke-width="0.35"/>
<circle cx="378.3" cy="333.8" r="1.45" fill="#4e3050" stroke="#b868b8" stroke-width="0.35"/>
<circle cx="372.7" cy="331.9" r="1.45" fill="#4e3050" stroke="#b868b8" stroke-width="0.35"/>
<circle cx="381.1" cy="332.6" r="1.45" fill="#4e3050" stroke="#b868b8" stroke-width="0.35"/>
<circle cx="378.3" cy="337.2" r="1.45" fill="#4e3050" stroke="#b868b8" stroke-width="0.35"/>
<circle cx="369.9" cy="332.0" r="1.45" fill="#4e3050" stroke="#b868b8" stroke-width="0.35"/>
<circle cx="371.3" cy="332.6" r="1.45" fill="#4e3050" stroke="#b868b8" stroke-width="0.35"/>
<circle cx="372.7" cy="336.8" r="1.45" fill="#4e3050" stroke="#b868b8" stroke-width="0.35"/>
<circle cx="378.3" cy="341.0" r="1.45" fill="#4e3050" stroke="#b868b8" stroke-width="0.35"/>
<circle cx="381.1" cy="336.0" r="1.45" fill="#4e3050" stroke="#b868b8" stroke-width="0.35"/>
<path d="M375.5,327.1 V333.3 M373.3,327.1 H377.7" stroke="#222" stroke-width="0.8" fill="none"/>
<text x="375.5" y="351.8" class="t4b" text-anchor="middle">1M</text>
<rect x="389.2" y="327.5" width="13.7" height="15.5" fill="#e074e0" stroke="#4e3050" stroke-width="0.8"/>
<circle cx="390.2" cy="305.1" r="1.45" fill="#4e3050" stroke="#b868b8" stroke-width="0.35"/>
<circle cx="395.7" cy="306.9" r="1.45" fill="#4e3050" stroke="#b868b8" stroke-width="0.35"/>
<circle cx="396.0" cy="321.8" r="1.45" fill="#4e3050" stroke="#b868b8" stroke-width="0.35"/>
<circle cx="396.0" cy="325.0" r="1.45" fill="#4e3050" stroke="#b868b8" stroke-width="0.35"/>
<circle cx="398.8" cy="325.0" r="1.45" fill="#4e3050" stroke="#b868b8" stroke-width="0.35"/>
<circle cx="396.0" cy="334.1" r="1.45" fill="#4e3050" stroke="#b868b8" stroke-width="0.35"/>
<circle cx="396.0" cy="337.2" r="1.45" fill="#4e3050" stroke="#b868b8" stroke-width="0.35"/>
<circle cx="396.0" cy="330.2" r="1.45" fill="#4e3050" stroke="#b868b8" stroke-width="0.35"/>
<circle cx="398.8" cy="336.4" r="1.45" fill="#4e3050" stroke="#b868b8" stroke-width="0.35"/>
<circle cx="398.8" cy="331.2" r="1.45" fill="#4e3050" stroke="#b868b8" stroke-width="0.35"/>
<circle cx="393.2" cy="336.8" r="1.45" fill="#4e3050" stroke="#b868b8" stroke-width="0.35"/>
<circle cx="396.0" cy="341.3" r="1.45" fill="#4e3050" stroke="#b868b8" stroke-width="0.35"/>
<circle cx="393.2" cy="329.7" r="1.45" fill="#4e3050" stroke="#b868b8" stroke-width="0.35"/>
<circle cx="401.6" cy="336.1" r="1.45" fill="#4e3050" stroke="#b868b8" stroke-width="0.35"/>
<path d="M396.04999999999995,324.3 V330.5 M393.84999999999997,324.3 H398.24999999999994" stroke="#222" stroke-width="0.8" fill="none"/>
<text x="396.04999999999995" y="351.8" class="t4b" text-anchor="middle">LT</text>
<rect x="409.1" y="331" width="13.9" height="12.0" fill="#c98332" stroke="#4e3210" stroke-width="0.8"/>
<circle cx="416.1" cy="306.9" r="1.45" fill="#4e3210" stroke="#8a5a20" stroke-width="0.35"/>
<circle cx="416.1" cy="318.1" r="1.45" fill="#4e3210" stroke="#8a5a20" stroke-width="0.35"/>
<circle cx="416.1" cy="322.0" r="1.45" fill="#4e3210" stroke="#8a5a20" stroke-width="0.35"/>
<circle cx="418.9" cy="322.0" r="1.45" fill="#4e3210" stroke="#8a5a20" stroke-width="0.35"/>
<circle cx="416.1" cy="325.0" r="1.45" fill="#4e3210" stroke="#8a5a20" stroke-width="0.35"/>
<circle cx="416.1" cy="328.0" r="1.45" fill="#4e3210" stroke="#8a5a20" stroke-width="0.35"/>
<circle cx="418.9" cy="328.0" r="1.45" fill="#4e3210" stroke="#8a5a20" stroke-width="0.35"/>
<circle cx="416.1" cy="338.1" r="1.45" fill="#4e3210" stroke="#8a5a20" stroke-width="0.35"/>
<circle cx="416.1" cy="333.9" r="1.45" fill="#4e3210" stroke="#8a5a20" stroke-width="0.35"/>
<circle cx="418.9" cy="335.0" r="1.45" fill="#4e3210" stroke="#8a5a20" stroke-width="0.35"/>
<circle cx="416.1" cy="341.8" r="1.45" fill="#4e3210" stroke="#8a5a20" stroke-width="0.35"/>
<circle cx="418.9" cy="341.8" r="1.45" fill="#4e3210" stroke="#8a5a20" stroke-width="0.35"/>
<circle cx="413.2" cy="333.6" r="1.45" fill="#4e3210" stroke="#8a5a20" stroke-width="0.35"/>
<circle cx="418.9" cy="339.1" r="1.45" fill="#4e3210" stroke="#8a5a20" stroke-width="0.35"/>
<circle cx="413.2" cy="341.3" r="1.45" fill="#4e3210" stroke="#8a5a20" stroke-width="0.35"/>
<circle cx="421.7" cy="334.7" r="1.45" fill="#4e3210" stroke="#8a5a20" stroke-width="0.35"/>
<circle cx="413.2" cy="338.2" r="1.45" fill="#4e3210" stroke="#8a5a20" stroke-width="0.35"/>
<circle cx="410.4" cy="332.9" r="1.45" fill="#4e3210" stroke="#8a5a20" stroke-width="0.35"/>
<circle cx="410.4" cy="335.9" r="1.45" fill="#4e3210" stroke="#8a5a20" stroke-width="0.35"/>
<circle cx="421.7" cy="338.8" r="1.45" fill="#4e3210" stroke="#8a5a20" stroke-width="0.35"/>
<circle cx="411.9" cy="338.0" r="1.45" fill="#4e3210" stroke="#8a5a20" stroke-width="0.35"/>
<circle cx="411.9" cy="339.7" r="1.45" fill="#4e3210" stroke="#8a5a20" stroke-width="0.35"/>
<circle cx="411.9" cy="333.3" r="1.45" fill="#4e3210" stroke="#8a5a20" stroke-width="0.35"/>
<circle cx="411.9" cy="335.7" r="1.45" fill="#4e3210" stroke="#8a5a20" stroke-width="0.35"/>
<circle cx="411.9" cy="340.5" r="1.45" fill="#4e3210" stroke="#8a5a20" stroke-width="0.35"/>
<circle cx="411.9" cy="337.9" r="1.45" fill="#4e3210" stroke="#8a5a20" stroke-width="0.35"/>
<circle cx="411.9" cy="336.7" r="1.45" fill="#4e3210" stroke="#8a5a20" stroke-width="0.35"/>
<circle cx="411.9" cy="336.2" r="1.45" fill="#4e3210" stroke="#8a5a20" stroke-width="0.35"/>
<circle cx="421.7" cy="341.7" r="1.45" fill="#4e3210" stroke="#8a5a20" stroke-width="0.35"/>
<circle cx="411.9" cy="337.8" r="1.45" fill="#4e3210" stroke="#8a5a20" stroke-width="0.35"/>
<circle cx="411.9" cy="332.7" r="1.45" fill="#4e3210" stroke="#8a5a20" stroke-width="0.35"/>
<circle cx="411.9" cy="339.9" r="1.45" fill="#4e3210" stroke="#8a5a20" stroke-width="0.35"/>
<circle cx="411.9" cy="335.6" r="1.45" fill="#4e3210" stroke="#8a5a20" stroke-width="0.35"/>
<path d="M416.05,327.8 V334 M413.85,327.8 H418.25" stroke="#222" stroke-width="0.8" fill="none"/>
<text x="416.05" y="351.8" class="t4b" text-anchor="middle">LT</text>
</g>
<g id="E">
<text x="425.6" y="240.8" class="big">E</text>
<rect x="464.10" y="230.00" width="19.60" height="16.20" fill="#7fa7d2"/>
<rect x="483.40" y="230.00" width="19.60" height="16.20" fill="#a9c9e3"/>
<rect x="502.70" y="230.00" width="19.60" height="16.20" fill="#8db2d9"/>
<text x="524" y="239.6" class="t4" style="font-size:4.9px" fill="#3a3a3a">IL-10</text>
<rect x="464.10" y="245.90" width="19.60" height="16.20" fill="#f8f7d8"/>
<rect x="483.40" y="245.90" width="19.60" height="16.20" fill="#4c72b9"/>
<rect x="502.70" y="245.90" width="19.60" height="16.20" fill="#e9a262"/>
<text x="524" y="255.5" class="t4" style="font-size:4.9px" fill="#3a3a3a">IL-2</text>
<rect x="464.10" y="261.80" width="19.60" height="16.20" fill="#fcf1b1"/>
<rect x="483.40" y="261.80" width="19.60" height="16.20" fill="#e9924f"/>
<rect x="502.70" y="261.80" width="19.60" height="16.20" fill="#eff4e2"/>
<text x="524" y="271.4" class="t4" style="font-size:4.9px" fill="#3a3a3a">IL-17A</text>
<rect x="464.10" y="277.70" width="19.60" height="16.20" fill="#eef2e0"/>
<rect x="483.40" y="277.70" width="19.60" height="16.20" fill="#e17a4a"/>
<rect x="502.70" y="277.70" width="19.60" height="16.20" fill="#9bbadb"/>
<text x="524" y="287.3" class="t4" style="font-size:4.9px" fill="#3a3a3a">IL-4</text>
<rect x="464.10" y="293.60" width="19.60" height="16.20" fill="#df7848"/>
<rect x="483.40" y="293.60" width="19.60" height="16.20" fill="#f4c67f"/>
<rect x="502.70" y="293.60" width="19.60" height="16.20" fill="#c22b28"/>
<text x="524" y="303.2" class="t4" style="font-size:4.9px" fill="#3a3a3a">MIP-1b</text>
<rect x="464.10" y="309.50" width="19.60" height="16.20" fill="#fde8a2"/>
<rect x="483.40" y="309.50" width="19.60" height="16.20" fill="#d9e8f1"/>
<rect x="502.70" y="309.50" width="19.60" height="16.20" fill="#e98f57"/>
<text x="524" y="319.1" class="t4" style="font-size:4.9px" fill="#3a3a3a">IFNg</text>
<rect x="464.10" y="325.40" width="19.60" height="16.20" fill="#f8d089"/>
<rect x="483.40" y="325.40" width="19.60" height="16.20" fill="#fdf5c1"/>
<rect x="502.70" y="325.40" width="19.60" height="16.20" fill="#e17a49"/>
<text x="524" y="335.0" class="t4" style="font-size:4.9px" fill="#3a3a3a">MIP-1a</text>
<rect x="464.10" y="341.30" width="19.60" height="16.20" fill="#fce1a0"/>
<rect x="483.40" y="341.30" width="19.60" height="16.20" fill="#f5f4d9"/>
<rect x="502.70" y="341.30" width="19.60" height="16.20" fill="#e17a49"/>
<text x="524" y="350.9" class="t4" style="font-size:4.9px" fill="#3a3a3a">TNFa</text>
<text x="473.8" y="363.5" class="t4" style="font-size:4.9px" fill="#3a3a3a" text-anchor="middle">All</text>
<text x="492.8" y="363.5" class="t4" style="font-size:4.9px" fill="#3a3a3a" text-anchor="middle">PCR-</text>
<text x="512.1" y="363.5" class="t4" style="font-size:4.9px" fill="#3a3a3a" text-anchor="middle">PCR+</text>
<text x="473.8" y="303.9" class="t45" style="font-size:6px" text-anchor="middle" fill="#333">**</text>
<text x="512.4" y="319.8" class="t45" style="font-size:6px" text-anchor="middle" fill="#333">*</text>
<text x="473.8" y="335.6" class="t45" style="font-size:6px" text-anchor="middle" fill="#333">*</text>
<text x="512.4" y="335.6" class="t45" style="font-size:6px" text-anchor="middle" fill="#333">*</text>
<text x="512.4" y="351.6" class="t45" style="font-size:6px" text-anchor="middle" fill="#333">*</text>
<path d="M464,237.9 H449 V253.8 H464" stroke="#8a8a8a" stroke-width="0.85" fill="none"/>
<path d="M464,269.8 H458.4 V285.6 H464" stroke="#8a8a8a" stroke-width="0.85" fill="none"/>
<path d="M464,333.3 H461.3 V349.2 H464" stroke="#8a8a8a" stroke-width="0.85" fill="none"/>
<path d="M464,317.4 H458.4 V341.3 H461.3" stroke="#8a8a8a" stroke-width="0.85" fill="none"/>
<path d="M464,301.6 H452.7 V329.4 H458.4" stroke="#8a8a8a" stroke-width="0.85" fill="none"/>
<path d="M458.4,277.7 H444.2 V315.5 H452.7" stroke="#8a8a8a" stroke-width="0.85" fill="none"/>
<path d="M449,245.9 H438.5 V296.6 H444.2" stroke="#8a8a8a" stroke-width="0.85" fill="none"/>
<defs><linearGradient id="cb" x1="0" y1="0" x2="0" y2="1"><stop offset="0" stop-color="#b2182b"/><stop offset="0.18" stop-color="#e0603e"/><stop offset="0.38" stop-color="#f6b26b"/><stop offset="0.56" stop-color="#fbf0b8"/><stop offset="0.68" stop-color="#e8f1f4"/><stop offset="0.82" stop-color="#9cc0de"/><stop offset="1" stop-color="#3d67b0"/></linearGradient></defs>
<rect x="543.4" y="230" width="5.1" height="71.8" fill="url(#cb)"/>
<text x="550.5" y="244.5" class="t35" style="font-size:4.4px" fill="#444">0.3</text>
<text x="550.5" y="256.0" class="t35" style="font-size:4.4px" fill="#444">0.2</text>
<text x="550.5" y="269.2" class="t35" style="font-size:4.4px" fill="#444">0.1</text>
<text x="550.5" y="281.4" class="t35" style="font-size:4.4px" fill="#444">0</text>
<text x="550.5" y="294.5" class="t35" style="font-size:4.4px" fill="#444">-0.1</text>
</g>
</svg></body></html>
